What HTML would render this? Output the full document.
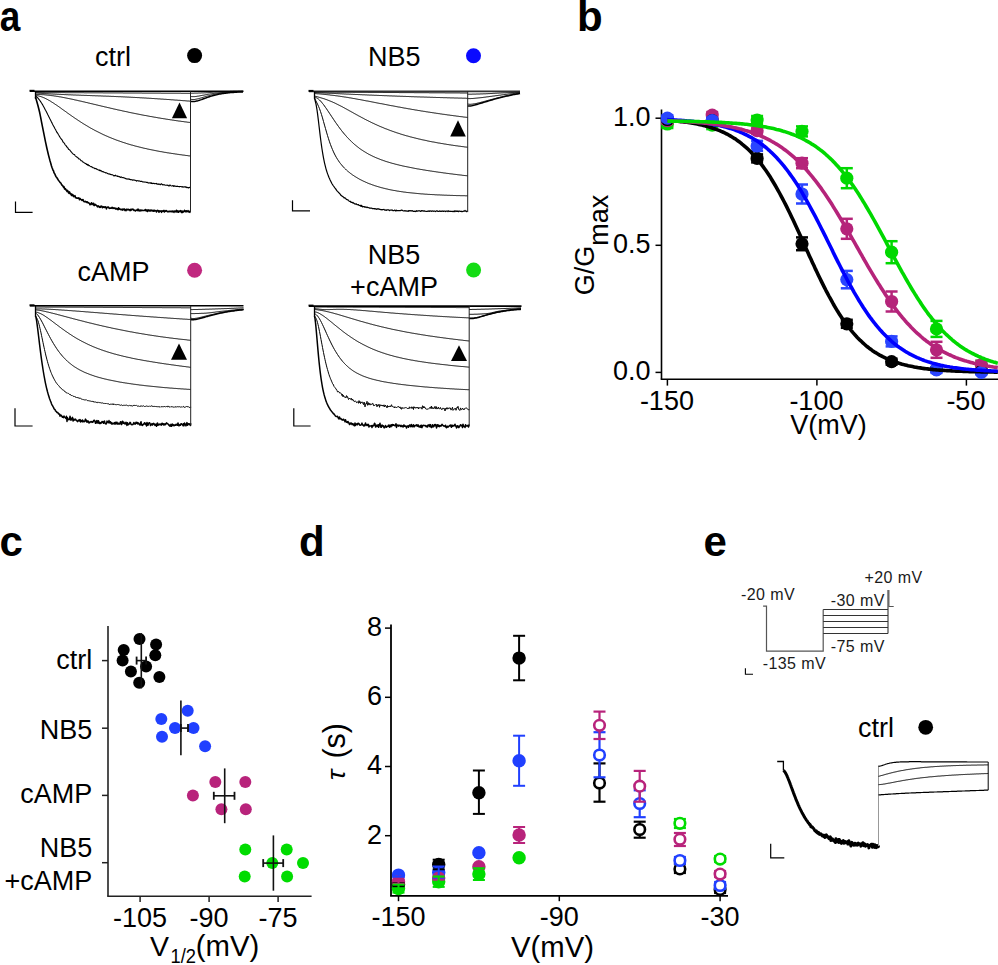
<!DOCTYPE html>
<html><head><meta charset="utf-8"><style>
html,body{margin:0;padding:0;background:#fff;}
svg{display:block;}
text{font-family:"Liberation Sans", sans-serif;}
</style></head><body>
<svg width="998" height="965" viewBox="0 0 998 965">
<rect width="998" height="965" fill="#fff"/>
<text transform="translate(-0.2,30.5) scale(0.88,1)" font-size="42" font-weight="bold" fill="#000">a</text>
<text x="577" y="30.5" font-size="42" text-anchor="start" font-weight="bold" fill="#000" >b</text>
<text x="-0.5" y="556" font-size="42" text-anchor="start" font-weight="bold" fill="#000" >c</text>
<text x="299" y="556.3" font-size="42" text-anchor="start" font-weight="bold" fill="#000" >d</text>
<text x="703.5" y="556" font-size="42" text-anchor="start" font-weight="bold" fill="#000" >e</text>
<line x1="30" y1="91.3" x2="243.5" y2="91.3" stroke="#000" stroke-width="1.6" />
<rect x="29.5" y="89.8" width="5" height="2" fill="#000"/>
<line x1="35.5" y1="91.3" x2="35.5" y2="99" stroke="#000" stroke-width="1.3" />
<path d="M35.5 97 L36 98.7 L36.5 100.5 L37 102.3 L37.5 104 L38 105.8 L38.5 107.7 L39 109.7 L39.5 111.8 L40 114.1 L40.5 116.6 L41 119.2 L41.5 121.8 L42 124.4 L42.5 126.9 L43 129.4 L43.5 131.9 L44 134.4 L44.5 136.9 L45 139.4 L45.5 141.8 L46 144.2 L46.5 146.5 L47 148.7 L47.5 150.9 L48 153 L48.5 155.1 L49 157 L49.5 158.9 L50 160.8 L50.5 162.4 L51 164.2 L51.5 166 L52 167.5 L52.5 168.8 L53 170.2 L53.5 170.8 L54 172.7 L54.5 173.4 L55 174.3 L55.5 175.7 L56 176.7 L56.5 177.2 L57 177.8 L57.5 178.8 L58 179.5 L58.5 180.5 L59 181 L59.5 181.5 L60 182.5 L60.5 182.7 L61 183.2 L61.5 184.5 L62 185.2 L62.5 185.6 L63 186.1 L63.5 187.2 L64 186.7 L64.5 188.8 L65 189.2 L65.5 188.7 L66 190.1 L66.5 190 L67 191.4 L67.5 190.4 L68 191.4 L68.5 192.7 L69 193.4 L69.5 191.9 L70 193.2 L70.5 194 L71 193.9 L71.5 195.4 L72 194.2 L72.5 195.4 L73 194.9 L73.5 196.6 L74 196.1 L74.5 196.2 L75 195.7 L75.5 197.8 L76 197.6 L76.5 197.9 L77 198.3 L77.5 198.2 L78 197.9 L78.5 198 L79 198.3 L79.5 199.7 L80 198.4 L80.5 199.1 L81 199.5 L81.5 200 L82 200.4 L82.5 199.7 L83 199.6 L83.5 200.8 L84 201.7 L84.5 201.6 L85 201.5 L85.5 201.4 L86 202 L86.5 201.9 L87 202.6 L87.5 201.9 L88 202.6 L88.5 202.7 L89 203.2 L89.5 203.2 L90 204.7 L90.5 204.3 L91 204.5 L91.5 202.7 L92 203.8 L92.5 203.9 L93 204.7 L93.5 203.3 L94 205.4 L94.5 205.5 L95 204.3 L95.5 204.7 L96 204.9 L96.5 205.5 L97 206 L97.5 206.9 L98 205.8 L98.5 206.5 L99 206.3 L99.5 207.3 L100 206.8 L100.5 207.3 L101 206 L101.5 206.6 L102 206.3 L102.5 207.7 L103 207.3 L103.5 206.9 L104 206.9 L104.5 207.5 L105 206.9 L105.5 206.8 L106 207.7 L106.5 208.8 L107 207.4 L107.5 207.3 L108 207.1 L108.5 207 L109 208.1 L109.5 208.4 L110 208 L110.5 208.2 L111 208.1 L111.5 208.2 L112 207.3 L112.5 208 L113 208.4 L113.5 207.9 L114 208.1 L114.5 208 L115 208.3 L115.5 209 L116 208.4 L116.5 208.6 L117 209.1 L117.5 209.1 L118 209.7 L118.5 207.7 L119 209.3 L119.5 208.7 L120 209 L120.5 209.5 L121 209.6 L121.5 209.7 L122 209.2 L122.5 210.1 L123 209.1 L123.5 209.2 L124 209.7 L124.5 209 L125 210.5 L125.5 210 L126 210.6 L126.5 209.4 L127 209.3 L127.5 209.6 L128 210 L128.5 209.3 L129 209.8 L129.5 209.7 L130 210.6 L130.5 209.4 L131 210.3 L131.5 209.4 L132 209.3 L132.5 209.5 L133 209.2 L133.5 210 L134 210.5 L134.5 210.1 L135 210.4 L135.5 211 L136 210.2 L136.5 210.2 L137 210 L137.5 209.3 L138 210.6 L138.5 209.3 L139 210.6 L139.5 210.3 L140 211 L140.5 210.3 L141 210 L141.5 210.6 L142 210.2 L142.5 210.4 L143 210.5 L143.5 210.5 L144 210.5 L144.5 210.1 L145 210.5 L145.5 209.5 L146 210.6 L146.5 210 L147 211.3 L147.5 211.4 L148 209.7 L148.5 210.8 L149 210.7 L149.5 210.2 L150 211.1 L150.5 210.6 L151 209.9 L151.5 210.7 L152 210.8 L152.5 210.9 L153 210.2 L153.5 211.2 L154 211.3 L154.5 210.3 L155 210.6 L155.5 210.9 L156 210.6 L156.5 211.9 L157 211.1 L157.5 210.4 L158 210.5 L158.5 210.9 L159 212.2 L159.5 210.9 L160 211.1 L160.5 211.3 L161 211 L161.5 212.3 L162 210.7 L162.5 211.4 L163 211.1 L163.5 211.4 L164 210.4 L164.5 212 L165 211 L165.5 211.1 L166 210.6 L166.5 210.7 L167 211.4 L167.5 211.7 L168 211.5 L168.5 211.8 L169 211.5 L169.5 211.2 L170 211.6 L170.5 211.5 L171 211.1 L171.5 211.6 L172 211.9 L172.5 211.3 L173 211 L173.5 211.6 L174 212.3 L174.5 211.1 L175 211.2 L175.5 211.2 L176 212 L176.5 210.3 L177 211.5 L177.5 212 L178 210.9 L178.5 212.2 L179 211.7 L179.5 211.1 L180 211.5 L180.5 210.6 L181 211.1 L181.5 212.4 L182 211 L182.5 212.5 L183 211.4 L183.5 212 L184 211.5 L184.5 210.3 L185 211.2 L185.5 211.7 L186 210.9 L186.5 210.8 L187 211.8 L187.5 211.3 L188 210.7 L188.5 211.3 L189 212.1 L189.5 211.4 L190 212.2 L190.5 212.5" fill="none" stroke="#000" stroke-width="1.6" stroke-linejoin="round" />
<path d="M35.5 96 L36 96.4 L36.5 96.8 L37 97.2 L37.5 97.7 L38 98.2 L38.5 98.8 L39 99.4 L39.5 100 L40 100.7 L40.5 101.4 L41 102.2 L41.5 103 L42 103.8 L42.5 104.6 L43 105.5 L43.5 106.4 L44 107.3 L44.5 108.2 L45 109.2 L45.5 110.2 L46 111.1 L46.5 112.1 L47 113.1 L47.5 114.1 L48 115.1 L48.5 116 L49 117.1 L49.5 118.1 L50 119.1 L50.5 120 L51 121 L51.5 122.1 L52 122.9 L52.5 124 L53 125 L53.5 125.9 L54 126.8 L54.5 127.7 L55 128.7 L55.5 129.5 L56 130.5 L56.5 131.4 L57 132.5 L57.5 133 L58 133.8 L58.5 134.8 L59 135.5 L59.5 136.4 L60 137.2 L60.5 138.1 L61 138.6 L61.5 139.5 L62 139.8 L62.5 140.8 L63 142 L63.5 142.2 L64 142.9 L64.5 143.5 L65 144.6 L65.5 145.1 L66 145.5 L66.5 146.5 L67 147 L67.5 147.8 L68 148 L68.5 149.2 L69 149.5 L69.5 149.9 L70 150.3 L70.5 151 L71 151.8 L71.5 152 L72 152.9 L72.5 153.2 L73 153.9 L73.5 154.3 L74 154.5 L74.5 154.5 L75 155.5 L75.5 156.1 L76 156.4 L76.5 156.9 L77 157.1 L77.5 157.5 L78 157.8 L78.5 158.8 L79 158.9 L79.5 159.1 L80 159.3 L80.5 160 L81 160.7 L81.5 160.8 L82 160.9 L82.5 161.8 L83 162.1 L83.5 162.3 L84 162.6 L84.5 163 L85 163.2 L85.5 163.6 L86 163.5 L86.5 164.4 L87 164.4 L87.5 165.1 L88 164.4 L88.5 165.3 L89 165.7 L89.5 165.6 L90 166.1 L90.5 166.4 L91 166.7 L91.5 166.6 L92 167 L92.5 167.5 L93 167.8 L93.5 167.8 L94 168 L94.5 168.3 L95 168.7 L95.5 168.4 L96 168.6 L96.5 169.2 L97 169.1 L97.5 169.4 L98 169.8 L98.5 170.1 L99 169.9 L99.5 170.6 L100 170.2 L100.5 170.9 L101 170.6 L101.5 170.9 L102 171.6 L102.5 171.5 L103 171.6 L103.5 171.8 L104 172.3 L104.5 172.3 L105 172.5 L105.5 172.9 L106 172.7 L106.5 172.9 L107 173 L107.5 173.6 L108 173.8 L108.5 174 L109 173.8 L109.5 174 L110 174.4 L110.5 174.2 L111 174.7 L111.5 174.8 L112 174.6 L112.5 174.9 L113 175 L113.5 175.6 L114 176 L114.5 175.5 L115 175.6 L115.5 175.2 L116 176 L116.5 176 L117 175.9 L117.5 176.5 L118 176.1 L118.5 176.5 L119 176.7 L119.5 176.5 L120 177.2 L120.5 177.4 L121 176.9 L121.5 177 L122 177.6 L122.5 177.6 L123 177.4 L123.5 177.8 L124 177.9 L124.5 178 L125 178.4 L125.5 178.4 L126 178.9 L126.5 178.9 L127 178.8 L127.5 179 L128 179.2 L128.5 179.1 L129 178.8 L129.5 179.4 L130 179.3 L130.5 179.8 L131 179.5 L131.5 179.7 L132 179.8 L132.5 180.2 L133 180 L133.5 179.9 L134 180.2 L134.5 180.1 L135 180.3 L135.5 180.4 L136 180.6 L136.5 181.1 L137 180.6 L137.5 180.8 L138 180.8 L138.5 181.1 L139 180.8 L139.5 181 L140 181.2 L140.5 181.5 L141 181.4 L141.5 181.4 L142 181.4 L142.5 181.8 L143 182.1 L143.5 181.9 L144 182 L144.5 182.1 L145 181.9 L145.5 182.1 L146 182.2 L146.5 182.4 L147 182.4 L147.5 182.2 L148 182.9 L148.5 183.1 L149 182.7 L149.5 182.9 L150 183 L150.5 183.2 L151 182.7 L151.5 183.5 L152 183.1 L152.5 183.6 L153 183.4 L153.5 183.3 L154 183.5 L154.5 183.8 L155 183.4 L155.5 183.6 L156 183.7 L156.5 183.4 L157 184.2 L157.5 184.1 L158 184 L158.5 184.4 L159 183.9 L159.5 184.2 L160 184.7 L160.5 184.6 L161 183.9 L161.5 183.7 L162 184.3 L162.5 184.9 L163 184.6 L163.5 184.7 L164 185 L164.5 184.7 L165 185 L165.5 185.2 L166 185.2 L166.5 185.2 L167 185 L167.5 185.4 L168 185.2 L168.5 185.7 L169 186.1 L169.5 185.3 L170 185 L170.5 185.5 L171 185.8 L171.5 186 L172 186 L172.5 185.6 L173 185.7 L173.5 186.3 L174 185.7 L174.5 186.3 L175 186 L175.5 186.3 L176 186.4 L176.5 186.4 L177 186.5 L177.5 186.1 L178 186.5 L178.5 186.5 L179 186.6 L179.5 186.9 L180 186.5 L180.5 186.5 L181 186.5 L181.5 186.7 L182 187 L182.5 186.6 L183 187.2 L183.5 187 L184 186.9 L184.5 186.7 L185 187.1 L185.5 187.3 L186 186.7 L186.5 187.5 L187 187.7 L187.5 187.4 L188 187.5 L188.5 188 L189 187.8 L189.5 187.3 L190 187.5 L190.5 187.5" fill="none" stroke="#000" stroke-width="1.1" stroke-linejoin="round" />
<path d="M35.5 95.5 L36.5 95.6 L37.5 95.7 L38.5 95.9 L39.5 96.2 L40.5 96.5 L41.5 96.8 L42.5 97.2 L43.5 97.6 L44.5 98 L45.5 98.5 L46.5 99 L47.5 99.5 L48.5 100.1 L49.5 100.6 L50.5 101.2 L51.5 101.9 L52.5 102.5 L53.5 103.1 L54.5 103.8 L55.5 104.5 L56.5 105.1 L57.5 105.8 L58.5 106.5 L59.5 107.2 L60.5 107.9 L61.5 108.7 L62.5 109.4 L63.5 110.1 L64.5 110.8 L65.5 111.5 L66.5 112.2 L67.5 113 L68.5 113.7 L69.5 114.4 L70.5 115.1 L71.5 115.8 L72.5 116.5 L73.5 117.2 L74.5 117.9 L75.5 118.6 L76.5 119.2 L77.5 119.9 L78.5 120.6 L79.5 121.2 L80.5 121.9 L81.5 122.5 L82.5 123.2 L83.5 123.8 L84.5 124.4 L85.5 125 L86.5 125.6 L87.5 126.2 L88.5 126.8 L89.5 127.4 L90.5 128 L91.5 128.5 L92.5 129.1 L93.5 129.6 L94.5 130.2 L95.5 130.7 L96.5 131.2 L97.5 131.7 L98.5 132.2 L99.5 132.7 L100.5 133.2 L101.5 133.7 L102.5 134.2 L103.5 134.7 L104.5 135.1 L105.5 135.6 L106.5 136 L107.5 136.4 L108.5 136.9 L109.5 137.3 L110.5 137.7 L111.5 138.1 L112.5 138.5 L113.5 138.9 L114.5 139.3 L115.5 139.7 L116.5 140.1 L117.5 140.4 L118.5 140.8 L119.5 141.1 L120.5 141.5 L121.5 141.8 L122.5 142.2 L123.5 142.5 L124.5 142.8 L125.5 143.1 L126.5 143.5 L127.5 143.8 L128.5 144.1 L129.5 144.4 L130.5 144.7 L131.5 145 L132.5 145.2 L133.5 145.5 L134.5 145.8 L135.5 146.1 L136.5 146.3 L137.5 146.6 L138.5 146.8 L139.5 147.1 L140.5 147.3 L141.5 147.6 L142.5 147.8 L143.5 148.1 L144.5 148.3 L145.5 148.5 L146.5 148.7 L147.5 149 L148.5 149.2 L149.5 149.4 L150.5 149.6 L151.5 149.8 L152.5 150 L153.5 150.2 L154.5 150.4 L155.5 150.6 L156.5 150.8 L157.5 151 L158.5 151.2 L159.5 151.4 L160.5 151.6 L161.5 151.7 L162.5 151.9 L163.5 152.1 L164.5 152.3 L165.5 152.4 L166.5 152.6 L167.5 152.8 L168.5 152.9 L169.5 153.1 L170.5 153.2 L171.5 153.4 L172.5 153.5 L173.5 153.7 L174.5 153.8 L175.5 154 L176.5 154.1 L177.5 154.3 L178.5 154.4 L179.5 154.6 L180.5 154.7 L181.5 154.8 L182.5 155 L183.5 155.1 L184.5 155.2 L185.5 155.4 L186.5 155.5 L187.5 155.6 L188.5 155.8 L189.5 155.9 L190.5 156" fill="none" stroke="#000" stroke-width="1.0" stroke-linejoin="round" />
<path d="M35.5 94.5 L36.5 94.5 L37.5 94.5 L38.5 94.5 L39.5 94.5 L40.5 94.6 L41.5 94.6 L42.5 94.7 L43.5 94.7 L44.5 94.8 L45.5 94.9 L46.5 95 L47.5 95.1 L48.5 95.2 L49.5 95.3 L50.5 95.4 L51.5 95.6 L52.5 95.7 L53.5 95.8 L54.5 96 L55.5 96.1 L56.5 96.3 L57.5 96.4 L58.5 96.6 L59.5 96.8 L60.5 96.9 L61.5 97.1 L62.5 97.3 L63.5 97.5 L64.5 97.7 L65.5 97.9 L66.5 98.1 L67.5 98.3 L68.5 98.5 L69.5 98.7 L70.5 98.9 L71.5 99.1 L72.5 99.3 L73.5 99.5 L74.5 99.8 L75.5 100 L76.5 100.2 L77.5 100.4 L78.5 100.7 L79.5 100.9 L80.5 101.1 L81.5 101.3 L82.5 101.6 L83.5 101.8 L84.5 102 L85.5 102.3 L86.5 102.5 L87.5 102.7 L88.5 103 L89.5 103.2 L90.5 103.5 L91.5 103.7 L92.5 103.9 L93.5 104.2 L94.5 104.4 L95.5 104.6 L96.5 104.9 L97.5 105.1 L98.5 105.4 L99.5 105.6 L100.5 105.8 L101.5 106.1 L102.5 106.3 L103.5 106.5 L104.5 106.8 L105.5 107 L106.5 107.2 L107.5 107.5 L108.5 107.7 L109.5 107.9 L110.5 108.2 L111.5 108.4 L112.5 108.6 L113.5 108.9 L114.5 109.1 L115.5 109.3 L116.5 109.5 L117.5 109.8 L118.5 110 L119.5 110.2 L120.5 110.4 L121.5 110.6 L122.5 110.9 L123.5 111.1 L124.5 111.3 L125.5 111.5 L126.5 111.7 L127.5 111.9 L128.5 112.2 L129.5 112.4 L130.5 112.6 L131.5 112.8 L132.5 113 L133.5 113.2 L134.5 113.4 L135.5 113.6 L136.5 113.8 L137.5 114 L138.5 114.2 L139.5 114.4 L140.5 114.6 L141.5 114.8 L142.5 115 L143.5 115.2 L144.5 115.4 L145.5 115.5 L146.5 115.7 L147.5 115.9 L148.5 116.1 L149.5 116.3 L150.5 116.5 L151.5 116.6 L152.5 116.8 L153.5 117 L154.5 117.2 L155.5 117.3 L156.5 117.5 L157.5 117.7 L158.5 117.9 L159.5 118 L160.5 118.2 L161.5 118.4 L162.5 118.5 L163.5 118.7 L164.5 118.8 L165.5 119 L166.5 119.2 L167.5 119.3 L168.5 119.5 L169.5 119.6 L170.5 119.8 L171.5 119.9 L172.5 120.1 L173.5 120.2 L174.5 120.4 L175.5 120.5 L176.5 120.7 L177.5 120.8 L178.5 121 L179.5 121.1 L180.5 121.2 L181.5 121.4 L182.5 121.5 L183.5 121.6 L184.5 121.8 L185.5 121.9 L186.5 122 L187.5 122.2 L188.5 122.3 L189.5 122.4 L190.5 122.5" fill="none" stroke="#000" stroke-width="1.0" stroke-linejoin="round" />
<path d="M35.5 93 L36.5 93.1 L37.5 93.1 L38.5 93.2 L39.5 93.3 L40.5 93.3 L41.5 93.4 L42.5 93.5 L43.5 93.5 L44.5 93.6 L45.5 93.6 L46.5 93.7 L47.5 93.7 L48.5 93.8 L49.5 93.9 L50.5 93.9 L51.5 94 L52.5 94 L53.5 94.1 L54.5 94.1 L55.5 94.2 L56.5 94.2 L57.5 94.3 L58.5 94.3 L59.5 94.4 L60.5 94.4 L61.5 94.5 L62.5 94.5 L63.5 94.5 L64.5 94.6 L65.5 94.6 L66.5 94.7 L67.5 94.7 L68.5 94.8 L69.5 94.8 L70.5 94.8 L71.5 94.9 L72.5 94.9 L73.5 95 L74.5 95 L75.5 95 L76.5 95.1 L77.5 95.1 L78.5 95.1 L79.5 95.2 L80.5 95.2 L81.5 95.3 L82.5 95.3 L83.5 95.3 L84.5 95.4 L85.5 95.4 L86.5 95.4 L87.5 95.5 L88.5 95.5 L89.5 95.5 L90.5 95.6 L91.5 95.6 L92.5 95.7 L93.5 95.7 L94.5 95.7 L95.5 95.8 L96.5 95.8 L97.5 95.8 L98.5 95.9 L99.5 95.9 L100.5 95.9 L101.5 96 L102.5 96 L103.5 96.1 L104.5 96.1 L105.5 96.1 L106.5 96.2 L107.5 96.2 L108.5 96.2 L109.5 96.3 L110.5 96.3 L111.5 96.4 L112.5 96.4 L113.5 96.4 L114.5 96.5 L115.5 96.5 L116.5 96.6 L117.5 96.6 L118.5 96.7 L119.5 96.7 L120.5 96.7 L121.5 96.8 L122.5 96.8 L123.5 96.9 L124.5 96.9 L125.5 97 L126.5 97 L127.5 97.1 L128.5 97.1 L129.5 97.2 L130.5 97.2 L131.5 97.3 L132.5 97.3 L133.5 97.4 L134.5 97.4 L135.5 97.5 L136.5 97.5 L137.5 97.6 L138.5 97.6 L139.5 97.7 L140.5 97.8 L141.5 97.8 L142.5 97.9 L143.5 97.9 L144.5 98 L145.5 98 L146.5 98.1 L147.5 98.2 L148.5 98.2 L149.5 98.3 L150.5 98.3 L151.5 98.4 L152.5 98.5 L153.5 98.5 L154.5 98.6 L155.5 98.7 L156.5 98.7 L157.5 98.8 L158.5 98.9 L159.5 98.9 L160.5 99 L161.5 99.1 L162.5 99.1 L163.5 99.2 L164.5 99.3 L165.5 99.3 L166.5 99.4 L167.5 99.5 L168.5 99.5 L169.5 99.6 L170.5 99.7 L171.5 99.8 L172.5 99.8 L173.5 99.9 L174.5 100 L175.5 100.1 L176.5 100.1 L177.5 100.2 L178.5 100.3 L179.5 100.3 L180.5 100.4 L181.5 100.5 L182.5 100.6 L183.5 100.7 L184.5 100.7 L185.5 100.8 L186.5 100.9 L187.5 101 L188.5 101 L189.5 101.1 L190.5 101.2" fill="none" stroke="#000" stroke-width="1.0" stroke-linejoin="round" />
<path d="M35.5 92.5 L36.5 92.5 L37.5 92.5 L38.5 92.5 L39.5 92.5 L40.5 92.5 L41.5 92.5 L42.5 92.5 L43.5 92.5 L44.5 92.5 L45.5 92.6 L46.5 92.6 L47.5 92.6 L48.5 92.6 L49.5 92.6 L50.5 92.6 L51.5 92.6 L52.5 92.6 L53.5 92.6 L54.5 92.6 L55.5 92.6 L56.5 92.6 L57.5 92.6 L58.5 92.6 L59.5 92.6 L60.5 92.6 L61.5 92.6 L62.5 92.6 L63.5 92.6 L64.5 92.6 L65.5 92.7 L66.5 92.7 L67.5 92.7 L68.5 92.7 L69.5 92.7 L70.5 92.7 L71.5 92.7 L72.5 92.7 L73.5 92.7 L74.5 92.7 L75.5 92.7 L76.5 92.7 L77.5 92.7 L78.5 92.7 L79.5 92.7 L80.5 92.7 L81.5 92.7 L82.5 92.7 L83.5 92.7 L84.5 92.8 L85.5 92.8 L86.5 92.8 L87.5 92.8 L88.5 92.8 L89.5 92.8 L90.5 92.8 L91.5 92.8 L92.5 92.8 L93.5 92.8 L94.5 92.8 L95.5 92.8 L96.5 92.8 L97.5 92.8 L98.5 92.8 L99.5 92.8 L100.5 92.8 L101.5 92.8 L102.5 92.8 L103.5 92.9 L104.5 92.9 L105.5 92.9 L106.5 92.9 L107.5 92.9 L108.5 92.9 L109.5 92.9 L110.5 92.9 L111.5 92.9 L112.5 92.9 L113.5 92.9 L114.5 92.9 L115.5 92.9 L116.5 92.9 L117.5 92.9 L118.5 92.9 L119.5 92.9 L120.5 92.9 L121.5 92.9 L122.5 92.9 L123.5 93 L124.5 93 L125.5 93 L126.5 93 L127.5 93 L128.5 93 L129.5 93 L130.5 93 L131.5 93 L132.5 93 L133.5 93 L134.5 93 L135.5 93 L136.5 93 L137.5 93 L138.5 93 L139.5 93 L140.5 93 L141.5 93 L142.5 93.1 L143.5 93.1 L144.5 93.1 L145.5 93.1 L146.5 93.1 L147.5 93.1 L148.5 93.1 L149.5 93.1 L150.5 93.1 L151.5 93.1 L152.5 93.1 L153.5 93.1 L154.5 93.1 L155.5 93.1 L156.5 93.1 L157.5 93.1 L158.5 93.1 L159.5 93.1 L160.5 93.1 L161.5 93.2 L162.5 93.2 L163.5 93.2 L164.5 93.2 L165.5 93.2 L166.5 93.2 L167.5 93.2 L168.5 93.2 L169.5 93.2 L170.5 93.2 L171.5 93.2 L172.5 93.2 L173.5 93.2 L174.5 93.2 L175.5 93.2 L176.5 93.2 L177.5 93.2 L178.5 93.2 L179.5 93.2 L180.5 93.2 L181.5 93.3 L182.5 93.3 L183.5 93.3 L184.5 93.3 L185.5 93.3 L186.5 93.3 L187.5 93.3 L188.5 93.3 L189.5 93.3 L190.5 93.3" fill="none" stroke="#000" stroke-width="1.0" stroke-linejoin="round" />
<path d="M190.5 101.2 L191.5 101.4 L192.5 101.5 L193.5 101.5 L194.5 101.4 L195.5 101.3 L196.5 101.1 L197.5 100.9 L198.5 100.6 L199.5 100.3 L200.5 99.9 L201.5 99.6 L202.5 99.2 L203.5 98.8 L204.5 98.5 L205.5 98.1 L206.5 97.7 L207.5 97.4 L208.5 97 L209.5 96.7 L210.5 96.4 L211.5 96.1 L212.5 95.8 L213.5 95.5 L214.5 95.2 L215.5 95 L216.5 94.8 L217.5 94.5 L218.5 94.3 L219.5 94.1 L220.5 93.9 L221.5 93.8 L222.5 93.6 L223.5 93.4 L224.5 93.3 L225.5 93.2 L226.5 93 L227.5 92.9 L228.5 92.8 L229.5 92.7 L230.5 92.6 L231.5 92.5 L232.5 92.4 L233.5 92.4 L234.5 92.3 L235.5 92.2 L236.5 92.2 L237.5 92.1 L238.5 92.1 L239.5 92 L240.5 92 L241.5 91.9 L242.5 91.9 L243 91.9" fill="none" stroke="#000" stroke-width="1.5" stroke-linejoin="round" />
<path d="M190.5 99.2 L191.5 99.4 L192.5 99.5 L193.5 99.5 L194.5 99.5 L195.5 99.3 L196.5 99.1 L197.5 98.9 L198.5 98.7 L199.5 98.4 L200.5 98.1 L201.5 97.8 L202.5 97.5 L203.5 97.2 L204.5 96.9 L205.5 96.6 L206.5 96.3 L207.5 96 L208.5 95.8 L209.5 95.5 L210.5 95.3 L211.5 95 L212.5 94.8 L213.5 94.6 L214.5 94.4 L215.5 94.2 L216.5 94 L217.5 93.8 L218.5 93.6 L219.5 93.5 L220.5 93.3 L221.5 93.2 L222.5 93 L223.5 92.9 L224.5 92.8 L225.5 92.7 L226.5 92.6 L227.5 92.5 L228.5 92.4 L229.5 92.3 L230.5 92.2 L231.5 92.2 L232.5 92.1 L233.5 92 L234.5 92 L235.5 91.9 L236.5 91.9 L237.5 91.8 L238.5 91.8 L239.5 91.7 L240.5 91.7 L241.5 91.7 L242.5 91.6 L243 91.6" fill="none" stroke="#000" stroke-width="1.0" stroke-linejoin="round" />
<path d="M190.5 96.4 L191.5 96.6 L192.5 96.6 L193.5 96.6 L194.5 96.6 L195.5 96.5 L196.5 96.4 L197.5 96.2 L198.5 96.1 L199.5 95.9 L200.5 95.7 L201.5 95.5 L202.5 95.3 L203.5 95.2 L204.5 95 L205.5 94.8 L206.5 94.6 L207.5 94.4 L208.5 94.2 L209.5 94.1 L210.5 93.9 L211.5 93.8 L212.5 93.6 L213.5 93.5 L214.5 93.3 L215.5 93.2 L216.5 93.1 L217.5 93 L218.5 92.9 L219.5 92.7 L220.5 92.6 L221.5 92.5 L222.5 92.5 L223.5 92.4 L224.5 92.3 L225.5 92.2 L226.5 92.1 L227.5 92.1 L228.5 92 L229.5 91.9 L230.5 91.9 L231.5 91.8 L232.5 91.8 L233.5 91.7 L234.5 91.7 L235.5 91.6 L236.5 91.6 L237.5 91.6 L238.5 91.5 L239.5 91.5 L240.5 91.5 L241.5 91.4 L242.5 91.4 L243 91.4" fill="none" stroke="#000" stroke-width="1.0" stroke-linejoin="round" />
<path d="M190.5 93.2 L191.5 93.2 L192.5 93.2 L193.5 93.2 L194.5 93.1 L195.5 93.1 L196.5 93.1 L197.5 93.1 L198.5 93 L199.5 93 L200.5 93 L201.5 92.9 L202.5 92.9 L203.5 92.9 L204.5 92.8 L205.5 92.8 L206.5 92.7 L207.5 92.7 L208.5 92.6 L209.5 92.5 L210.5 92.5 L211.5 92.4 L212.5 92.3 L213.5 92.2 L214.5 92.1 L215.5 92.1 L216.5 92 L217.5 91.9 L218.5 91.9 L219.5 91.8 L220.5 91.8 L221.5 91.7 L222.5 91.7 L223.5 91.7 L224.5 91.6 L225.5 91.6 L226.5 91.6 L227.5 91.5 L228.5 91.5 L229.5 91.5 L230.5 91.4 L231.5 91.4 L232.5 91.4 L233.5 91.3 L234.5 91.3 L235.5 91.3 L236.5 91.3 L237.5 91.3 L238.5 91.2 L239.5 91.2 L240.5 91.2 L241.5 91.2 L242.5 91.2 L243 91.2" fill="none" stroke="#000" stroke-width="1.0" stroke-linejoin="round" />
<line x1="190.5" y1="91.3" x2="190.5" y2="212.2" stroke="#222" stroke-width="1.0" />
<path d="M179.5 102.5 L187.1 118.3 L171.9 118.3 Z" fill="#000"/>
<path d="M15.5 201.5 L15.5 212.3 L32.6 212.3" fill="none" stroke="#000" stroke-width="1.2"/>
<line x1="309" y1="91.4" x2="520" y2="91.4" stroke="#333" stroke-width="1.6" />
<rect x="308.5" y="89.9" width="5" height="2" fill="#000"/>
<line x1="314.5" y1="91.4" x2="314.5" y2="98.8" stroke="#000" stroke-width="1.3" />
<path d="M314.5 98 L315 100 L315.5 102 L316 104.2 L316.5 106.8 L317 109.9 L317.5 113.4 L318 117.3 L318.5 121.4 L319 125.7 L319.5 129.9 L320 134.1 L320.5 138.1 L321 142 L321.5 145.6 L322 149 L322.5 152.2 L323 155.2 L323.5 157.9 L324 160.4 L324.5 162.8 L325 164.9 L325.5 166.9 L326 168.8 L326.5 170.5 L327 172.1 L327.5 173.6 L328 174.9 L328.5 176.2 L329 177.5 L329.5 178.6 L330 179.7 L330.5 180.7 L331 181.7 L331.5 182.7 L332 183.7 L332.5 184.5 L333 185.3 L333.5 186 L334 186.7 L334.5 187.3 L335 188.1 L335.5 188.6 L336 189.4 L336.5 190.2 L337 190.9 L337.5 191.4 L338 191.7 L338.5 192.5 L339 192.8 L339.5 193.6 L340 193.9 L340.5 194.6 L341 195.4 L341.5 195.5 L342 196.3 L342.5 196.3 L343 196.6 L343.5 197.3 L344 197.8 L344.5 197.7 L345 198.2 L345.5 198.2 L346 198.9 L346.5 199.5 L347 199.6 L347.5 199.8 L348 199.9 L348.5 200.6 L349 201 L349.5 201.3 L350 201.4 L350.5 201.3 L351 202.4 L351.5 202.2 L352 202.4 L352.5 202.9 L353 202.4 L353.5 203.1 L354 203.3 L354.5 203.7 L355 204.1 L355.5 204.1 L356 203.7 L356.5 204.3 L357 204.6 L357.5 204.8 L358 204.6 L358.5 204.7 L359 205.4 L359.5 205.5 L360 205.6 L360.5 205.3 L361 206.4 L361.5 205.3 L362 206.1 L362.5 206.9 L363 206.4 L363.5 206.7 L364 206.5 L364.5 207.2 L365 206.7 L365.5 207.2 L366 207.3 L366.5 207.1 L367 207.7 L367.5 207.2 L368 207.5 L368.5 207.7 L369 207.7 L369.5 208.1 L370 208.3 L370.5 208.1 L371 208.1 L371.5 208.2 L372 208.3 L372.5 208.7 L373 208.5 L373.5 208.7 L374 208.7 L374.5 208.5 L375 209 L375.5 208.6 L376 209 L376.5 209.4 L377 208.8 L377.5 209.1 L378 208.8 L378.5 209.1 L379 208.9 L379.5 209.3 L380 209.3 L380.5 209.5 L381 209.9 L381.5 209.6 L382 209.8 L382.5 209.7 L383 209.6 L383.5 209.5 L384 209.3 L384.5 209.9 L385 210.3 L385.5 210 L386 209.8 L386.5 210.4 L387 209.9 L387.5 209.9 L388 209.8 L388.5 209.9 L389 210.1 L389.5 210.7 L390 210.2 L390.5 210 L391 210.1 L391.5 210.2 L392 209.9 L392.5 210.4 L393 210.6 L393.5 210.5 L394 210.6 L394.5 210.1 L395 210.1 L395.5 210.8 L396 210.8 L396.5 210.2 L397 210.6 L397.5 210.6 L398 210.7 L398.5 210.7 L399 210.5 L399.5 210.7 L400 210.7 L400.5 210.7 L401 210.2 L401.5 210 L402 210.5 L402.5 210.3 L403 210.8 L403.5 211 L404 210.9 L404.5 210.7 L405 210.8 L405.5 211.1 L406 210.7 L406.5 211.1 L407 211.1 L407.5 211 L408 211.3 L408.5 210.7 L409 211.2 L409.5 210.7 L410 210.7 L410.5 210.7 L411 211.1 L411.5 210.7 L412 211 L412.5 210.7 L413 211.3 L413.5 211.5 L414 211.1 L414.5 211.4 L415 211.2 L415.5 211.6 L416 211.1 L416.5 210.7 L417 211.4 L417.5 211 L418 210.8 L418.5 210.9 L419 210.7 L419.5 211 L420 210.8 L420.5 211.5 L421 211.3 L421.5 210.7 L422 210.7 L422.5 211 L423 210.6 L423.5 211.1 L424 211.1 L424.5 210.9 L425 211 L425.5 211.3 L426 211.5 L426.5 211.5 L427 211.2 L427.5 211.4 L428 211 L428.5 211.3 L429 210.9 L429.5 211.4 L430 210.9 L430.5 210.9 L431 211.2 L431.5 211.3 L432 210.8 L432.5 211.1 L433 211.2 L433.5 211.3 L434 211 L434.5 211.2 L435 211.1 L435.5 211.6 L436 211.3 L436.5 210.9 L437 210.7 L437.5 211.2 L438 211.5 L438.5 211.3 L439 211.4 L439.5 211.1 L440 210.9 L440.5 211.4 L441 211.3 L441.5 211.4 L442 210.9 L442.5 211.3 L443 211.1 L443.5 211.4 L444 211.1 L444.5 211.1 L445 211.1 L445.5 211.6 L446 211.2 L446.5 211.1 L447 211 L447.5 211 L448 211.6 L448.5 210.8 L449 211 L449.5 211.4 L450 211.5 L450.5 211.2 L451 211.4 L451.5 211.4 L452 211.5 L452.5 211.3 L453 211.7 L453.5 211.3 L454 211.6 L454.5 211 L455 211.5 L455.5 211 L456 210.9 L456.5 211.4 L457 211.1 L457.5 211.4 L458 211 L458.5 211.7 L459 211.3 L459.5 211 L460 211.3 L460.5 211.5 L461 211.1 L461.5 211.4 L462 211.8 L462.5 211.5 L463 211.3 L463.5 211.1 L464 211.4 L464.5 210.9 L465 210.5 L465.5 211.1 L466 211 L466.5 211.7 L467 211.3 L467.5 211 L467.7 211" fill="none" stroke="#000" stroke-width="1.2" stroke-linejoin="round" />
<path d="M314.5 98 L315.5 100.1 L316.5 102.1 L317.5 104.1 L318.5 106.3 L319.5 108.7 L320.5 111.5 L321.5 114.6 L322.5 117.9 L323.5 121.5 L324.5 125.1 L325.5 128.6 L326.5 132.1 L327.5 135.5 L328.5 138.7 L329.5 141.8 L330.5 144.6 L331.5 147.2 L332.5 149.6 L333.5 151.9 L334.5 154 L335.5 155.9 L336.5 157.7 L337.5 159.3 L338.5 160.8 L339.5 162.3 L340.5 163.6 L341.5 164.8 L342.5 166 L343.5 167.1 L344.5 168.2 L345.5 169.1 L346.5 170.1 L347.5 171 L348.5 171.8 L349.5 172.6 L350.5 173.4 L351.5 174.1 L352.5 174.9 L353.5 175.5 L354.5 176.2 L355.5 176.8 L356.5 177.4 L357.5 178 L358.5 178.6 L359.5 179.2 L360.5 179.7 L361.5 180.2 L362.5 180.7 L363.5 181.2 L364.5 181.6 L365.5 182.1 L366.5 182.5 L367.5 183 L368.5 183.4 L369.5 183.8 L370.5 184.1 L371.5 184.5 L372.5 184.9 L373.5 185.2 L374.5 185.6 L375.5 185.9 L376.5 186.2 L377.5 186.5 L378.5 186.8 L379.5 187.1 L380.5 187.4 L381.5 187.7 L382.5 187.9 L383.5 188.2 L384.5 188.4 L385.5 188.7 L386.5 188.9 L387.5 189.1 L388.5 189.4 L389.5 189.6 L390.5 189.8 L391.5 190 L392.5 190.2 L393.5 190.4 L394.5 190.5 L395.5 190.7 L396.5 190.9 L397.5 191.1 L398.5 191.2 L399.5 191.4 L400.5 191.5 L401.5 191.7 L402.5 191.8 L403.5 192 L404.5 192.1 L405.5 192.2 L406.5 192.4 L407.5 192.5 L408.5 192.6 L409.5 192.7 L410.5 192.8 L411.5 192.9 L412.5 193 L413.5 193.1 L414.5 193.2 L415.5 193.3 L416.5 193.4 L417.5 193.5 L418.5 193.6 L419.5 193.7 L420.5 193.8 L421.5 193.9 L422.5 193.9 L423.5 194 L424.5 194.1 L425.5 194.2 L426.5 194.2 L427.5 194.3 L428.5 194.4 L429.5 194.4 L430.5 194.5 L431.5 194.5 L432.5 194.6 L433.5 194.6 L434.5 194.7 L435.5 194.8 L436.5 194.8 L437.5 194.9 L438.5 194.9 L439.5 194.9 L440.5 195 L441.5 195 L442.5 195.1 L443.5 195.1 L444.5 195.2 L445.5 195.2 L446.5 195.2 L447.5 195.3 L448.5 195.3 L449.5 195.3 L450.5 195.4 L451.5 195.4 L452.5 195.4 L453.5 195.5 L454.5 195.5 L455.5 195.5 L456.5 195.6 L457.5 195.6 L458.5 195.6 L459.5 195.6 L460.5 195.7 L461.5 195.7 L462.5 195.7 L463.5 195.7 L464.5 195.7 L465.5 195.8 L466.5 195.8 L467.5 195.8 L467.7 195.8" fill="none" stroke="#000" stroke-width="1.0" stroke-linejoin="round" />
<path d="M314.5 97 L315.5 97.3 L316.5 97.8 L317.5 98.4 L318.5 99.1 L319.5 100 L320.5 101 L321.5 102.1 L322.5 103.4 L323.5 104.6 L324.5 106 L325.5 107.4 L326.5 108.8 L327.5 110.3 L328.5 111.8 L329.5 113.3 L330.5 114.8 L331.5 116.3 L332.5 117.8 L333.5 119.3 L334.5 120.8 L335.5 122.3 L336.5 123.7 L337.5 125.1 L338.5 126.5 L339.5 127.9 L340.5 129.2 L341.5 130.5 L342.5 131.8 L343.5 133 L344.5 134.2 L345.5 135.3 L346.5 136.5 L347.5 137.6 L348.5 138.6 L349.5 139.7 L350.5 140.7 L351.5 141.6 L352.5 142.6 L353.5 143.5 L354.5 144.4 L355.5 145.2 L356.5 146 L357.5 146.8 L358.5 147.6 L359.5 148.4 L360.5 149.1 L361.5 149.8 L362.5 150.4 L363.5 151.1 L364.5 151.7 L365.5 152.3 L366.5 152.9 L367.5 153.5 L368.5 154.1 L369.5 154.6 L370.5 155.1 L371.5 155.6 L372.5 156.1 L373.5 156.6 L374.5 157 L375.5 157.5 L376.5 157.9 L377.5 158.3 L378.5 158.7 L379.5 159.1 L380.5 159.5 L381.5 159.9 L382.5 160.2 L383.5 160.6 L384.5 160.9 L385.5 161.3 L386.5 161.6 L387.5 161.9 L388.5 162.2 L389.5 162.5 L390.5 162.8 L391.5 163.1 L392.5 163.4 L393.5 163.6 L394.5 163.9 L395.5 164.2 L396.5 164.4 L397.5 164.7 L398.5 164.9 L399.5 165.2 L400.5 165.4 L401.5 165.6 L402.5 165.9 L403.5 166.1 L404.5 166.3 L405.5 166.5 L406.5 166.7 L407.5 166.9 L408.5 167.1 L409.5 167.3 L410.5 167.5 L411.5 167.7 L412.5 167.9 L413.5 168.1 L414.5 168.3 L415.5 168.5 L416.5 168.7 L417.5 168.9 L418.5 169 L419.5 169.2 L420.5 169.4 L421.5 169.5 L422.5 169.7 L423.5 169.9 L424.5 170 L425.5 170.2 L426.5 170.4 L427.5 170.5 L428.5 170.7 L429.5 170.8 L430.5 171 L431.5 171.1 L432.5 171.3 L433.5 171.4 L434.5 171.6 L435.5 171.7 L436.5 171.9 L437.5 172 L438.5 172.2 L439.5 172.3 L440.5 172.4 L441.5 172.6 L442.5 172.7 L443.5 172.9 L444.5 173 L445.5 173.1 L446.5 173.3 L447.5 173.4 L448.5 173.5 L449.5 173.7 L450.5 173.8 L451.5 173.9 L452.5 174 L453.5 174.2 L454.5 174.3 L455.5 174.4 L456.5 174.5 L457.5 174.7 L458.5 174.8 L459.5 174.9 L460.5 175 L461.5 175.1 L462.5 175.3 L463.5 175.4 L464.5 175.5 L465.5 175.6 L466.5 175.7 L467.5 175.8 L467.7 175.9" fill="none" stroke="#000" stroke-width="1.0" stroke-linejoin="round" />
<path d="M314.5 96 L315.5 96.3 L316.5 96.5 L317.5 96.8 L318.5 97.1 L319.5 97.4 L320.5 97.7 L321.5 98 L322.5 98.3 L323.5 98.6 L324.5 98.9 L325.5 99.3 L326.5 99.6 L327.5 100 L328.5 100.4 L329.5 100.8 L330.5 101.2 L331.5 101.6 L332.5 102 L333.5 102.5 L334.5 102.9 L335.5 103.4 L336.5 103.9 L337.5 104.4 L338.5 104.9 L339.5 105.4 L340.5 105.9 L341.5 106.4 L342.5 106.9 L343.5 107.5 L344.5 108 L345.5 108.6 L346.5 109.1 L347.5 109.7 L348.5 110.2 L349.5 110.8 L350.5 111.3 L351.5 111.9 L352.5 112.4 L353.5 113 L354.5 113.6 L355.5 114.1 L356.5 114.7 L357.5 115.2 L358.5 115.8 L359.5 116.3 L360.5 116.8 L361.5 117.4 L362.5 117.9 L363.5 118.4 L364.5 119 L365.5 119.5 L366.5 120 L367.5 120.5 L368.5 121 L369.5 121.5 L370.5 122 L371.5 122.5 L372.5 123 L373.5 123.4 L374.5 123.9 L375.5 124.4 L376.5 124.8 L377.5 125.3 L378.5 125.7 L379.5 126.2 L380.5 126.6 L381.5 127 L382.5 127.4 L383.5 127.8 L384.5 128.3 L385.5 128.7 L386.5 129 L387.5 129.4 L388.5 129.8 L389.5 130.2 L390.5 130.6 L391.5 130.9 L392.5 131.3 L393.5 131.6 L394.5 132 L395.5 132.3 L396.5 132.7 L397.5 133 L398.5 133.3 L399.5 133.6 L400.5 134 L401.5 134.3 L402.5 134.6 L403.5 134.9 L404.5 135.2 L405.5 135.5 L406.5 135.8 L407.5 136 L408.5 136.3 L409.5 136.6 L410.5 136.9 L411.5 137.1 L412.5 137.4 L413.5 137.6 L414.5 137.9 L415.5 138.1 L416.5 138.4 L417.5 138.6 L418.5 138.9 L419.5 139.1 L420.5 139.3 L421.5 139.6 L422.5 139.8 L423.5 140 L424.5 140.2 L425.5 140.4 L426.5 140.6 L427.5 140.9 L428.5 141.1 L429.5 141.3 L430.5 141.5 L431.5 141.7 L432.5 141.9 L433.5 142 L434.5 142.2 L435.5 142.4 L436.5 142.6 L437.5 142.8 L438.5 143 L439.5 143.1 L440.5 143.3 L441.5 143.5 L442.5 143.6 L443.5 143.8 L444.5 144 L445.5 144.1 L446.5 144.3 L447.5 144.5 L448.5 144.6 L449.5 144.8 L450.5 144.9 L451.5 145.1 L452.5 145.2 L453.5 145.4 L454.5 145.5 L455.5 145.7 L456.5 145.8 L457.5 145.9 L458.5 146.1 L459.5 146.2 L460.5 146.3 L461.5 146.5 L462.5 146.6 L463.5 146.7 L464.5 146.9 L465.5 147 L466.5 147.1 L467.5 147.2 L467.7 147.3" fill="none" stroke="#000" stroke-width="1.0" stroke-linejoin="round" />
<path d="M314.5 93.5 L315.5 93.6 L316.5 93.7 L317.5 93.8 L318.5 93.8 L319.5 93.9 L320.5 94 L321.5 94.1 L322.5 94.2 L323.5 94.3 L324.5 94.4 L325.5 94.5 L326.5 94.6 L327.5 94.7 L328.5 94.8 L329.5 94.9 L330.5 95.1 L331.5 95.2 L332.5 95.3 L333.5 95.4 L334.5 95.5 L335.5 95.7 L336.5 95.8 L337.5 95.9 L338.5 96.1 L339.5 96.2 L340.5 96.4 L341.5 96.5 L342.5 96.7 L343.5 96.8 L344.5 97 L345.5 97.1 L346.5 97.3 L347.5 97.4 L348.5 97.6 L349.5 97.8 L350.5 97.9 L351.5 98.1 L352.5 98.3 L353.5 98.5 L354.5 98.6 L355.5 98.8 L356.5 99 L357.5 99.2 L358.5 99.4 L359.5 99.5 L360.5 99.7 L361.5 99.9 L362.5 100.1 L363.5 100.3 L364.5 100.5 L365.5 100.7 L366.5 100.9 L367.5 101 L368.5 101.2 L369.5 101.4 L370.5 101.6 L371.5 101.8 L372.5 102 L373.5 102.2 L374.5 102.4 L375.5 102.6 L376.5 102.8 L377.5 103 L378.5 103.2 L379.5 103.4 L380.5 103.6 L381.5 103.7 L382.5 103.9 L383.5 104.1 L384.5 104.3 L385.5 104.5 L386.5 104.7 L387.5 104.9 L388.5 105.1 L389.5 105.3 L390.5 105.5 L391.5 105.7 L392.5 105.8 L393.5 106 L394.5 106.2 L395.5 106.4 L396.5 106.6 L397.5 106.8 L398.5 107 L399.5 107.1 L400.5 107.3 L401.5 107.5 L402.5 107.7 L403.5 107.9 L404.5 108.1 L405.5 108.2 L406.5 108.4 L407.5 108.6 L408.5 108.8 L409.5 108.9 L410.5 109.1 L411.5 109.3 L412.5 109.5 L413.5 109.6 L414.5 109.8 L415.5 110 L416.5 110.1 L417.5 110.3 L418.5 110.5 L419.5 110.6 L420.5 110.8 L421.5 111 L422.5 111.1 L423.5 111.3 L424.5 111.4 L425.5 111.6 L426.5 111.8 L427.5 111.9 L428.5 112.1 L429.5 112.2 L430.5 112.4 L431.5 112.5 L432.5 112.7 L433.5 112.8 L434.5 113 L435.5 113.1 L436.5 113.3 L437.5 113.4 L438.5 113.6 L439.5 113.7 L440.5 113.9 L441.5 114 L442.5 114.2 L443.5 114.3 L444.5 114.4 L445.5 114.6 L446.5 114.7 L447.5 114.9 L448.5 115 L449.5 115.1 L450.5 115.3 L451.5 115.4 L452.5 115.5 L453.5 115.7 L454.5 115.8 L455.5 115.9 L456.5 116.1 L457.5 116.2 L458.5 116.3 L459.5 116.5 L460.5 116.6 L461.5 116.7 L462.5 116.8 L463.5 117 L464.5 117.1 L465.5 117.2 L466.5 117.3 L467.5 117.5 L467.7 117.5" fill="none" stroke="#000" stroke-width="1.0" stroke-linejoin="round" />
<path d="M314.5 92.5 L315.5 92.6 L316.5 92.6 L317.5 92.7 L318.5 92.7 L319.5 92.8 L320.5 92.8 L321.5 92.9 L322.5 92.9 L323.5 93 L324.5 93 L325.5 93.1 L326.5 93.1 L327.5 93.2 L328.5 93.2 L329.5 93.3 L330.5 93.3 L331.5 93.3 L332.5 93.4 L333.5 93.4 L334.5 93.5 L335.5 93.5 L336.5 93.6 L337.5 93.6 L338.5 93.7 L339.5 93.7 L340.5 93.8 L341.5 93.8 L342.5 93.9 L343.5 93.9 L344.5 94 L345.5 94 L346.5 94.1 L347.5 94.1 L348.5 94.1 L349.5 94.2 L350.5 94.2 L351.5 94.3 L352.5 94.3 L353.5 94.4 L354.5 94.4 L355.5 94.5 L356.5 94.5 L357.5 94.5 L358.5 94.6 L359.5 94.6 L360.5 94.7 L361.5 94.7 L362.5 94.8 L363.5 94.8 L364.5 94.8 L365.5 94.9 L366.5 94.9 L367.5 95 L368.5 95 L369.5 95.1 L370.5 95.1 L371.5 95.1 L372.5 95.2 L373.5 95.2 L374.5 95.3 L375.5 95.3 L376.5 95.3 L377.5 95.4 L378.5 95.4 L379.5 95.5 L380.5 95.5 L381.5 95.5 L382.5 95.6 L383.5 95.6 L384.5 95.7 L385.5 95.7 L386.5 95.7 L387.5 95.8 L388.5 95.8 L389.5 95.9 L390.5 95.9 L391.5 95.9 L392.5 96 L393.5 96 L394.5 96 L395.5 96.1 L396.5 96.1 L397.5 96.2 L398.5 96.2 L399.5 96.2 L400.5 96.3 L401.5 96.3 L402.5 96.3 L403.5 96.4 L404.5 96.4 L405.5 96.4 L406.5 96.5 L407.5 96.5 L408.5 96.5 L409.5 96.6 L410.5 96.6 L411.5 96.7 L412.5 96.7 L413.5 96.7 L414.5 96.8 L415.5 96.8 L416.5 96.8 L417.5 96.9 L418.5 96.9 L419.5 96.9 L420.5 97 L421.5 97 L422.5 97 L423.5 97 L424.5 97.1 L425.5 97.1 L426.5 97.1 L427.5 97.2 L428.5 97.2 L429.5 97.2 L430.5 97.3 L431.5 97.3 L432.5 97.3 L433.5 97.4 L434.5 97.4 L435.5 97.4 L436.5 97.5 L437.5 97.5 L438.5 97.5 L439.5 97.5 L440.5 97.6 L441.5 97.6 L442.5 97.6 L443.5 97.7 L444.5 97.7 L445.5 97.7 L446.5 97.7 L447.5 97.8 L448.5 97.8 L449.5 97.8 L450.5 97.9 L451.5 97.9 L452.5 97.9 L453.5 97.9 L454.5 98 L455.5 98 L456.5 98 L457.5 98 L458.5 98.1 L459.5 98.1 L460.5 98.1 L461.5 98.1 L462.5 98.2 L463.5 98.2 L464.5 98.2 L465.5 98.2 L466.5 98.3 L467.5 98.3 L467.7 98.3" fill="none" stroke="#000" stroke-width="1.0" stroke-linejoin="round" />
<path d="M314.5 92 L315.5 92 L316.5 92 L317.5 92 L318.5 92 L319.5 92 L320.5 92 L321.5 92 L322.5 92.1 L323.5 92.1 L324.5 92.1 L325.5 92.1 L326.5 92.1 L327.5 92.1 L328.5 92.1 L329.5 92.1 L330.5 92.1 L331.5 92.1 L332.5 92.1 L333.5 92.1 L334.5 92.1 L335.5 92.1 L336.5 92.1 L337.5 92.2 L338.5 92.2 L339.5 92.2 L340.5 92.2 L341.5 92.2 L342.5 92.2 L343.5 92.2 L344.5 92.2 L345.5 92.2 L346.5 92.2 L347.5 92.2 L348.5 92.2 L349.5 92.2 L350.5 92.2 L351.5 92.2 L352.5 92.2 L353.5 92.3 L354.5 92.3 L355.5 92.3 L356.5 92.3 L357.5 92.3 L358.5 92.3 L359.5 92.3 L360.5 92.3 L361.5 92.3 L362.5 92.3 L363.5 92.3 L364.5 92.3 L365.5 92.3 L366.5 92.3 L367.5 92.3 L368.5 92.4 L369.5 92.4 L370.5 92.4 L371.5 92.4 L372.5 92.4 L373.5 92.4 L374.5 92.4 L375.5 92.4 L376.5 92.4 L377.5 92.4 L378.5 92.4 L379.5 92.4 L380.5 92.4 L381.5 92.4 L382.5 92.4 L383.5 92.5 L384.5 92.5 L385.5 92.5 L386.5 92.5 L387.5 92.5 L388.5 92.5 L389.5 92.5 L390.5 92.5 L391.5 92.5 L392.5 92.5 L393.5 92.5 L394.5 92.5 L395.5 92.5 L396.5 92.5 L397.5 92.5 L398.5 92.5 L399.5 92.6 L400.5 92.6 L401.5 92.6 L402.5 92.6 L403.5 92.6 L404.5 92.6 L405.5 92.6 L406.5 92.6 L407.5 92.6 L408.5 92.6 L409.5 92.6 L410.5 92.6 L411.5 92.6 L412.5 92.6 L413.5 92.6 L414.5 92.7 L415.5 92.7 L416.5 92.7 L417.5 92.7 L418.5 92.7 L419.5 92.7 L420.5 92.7 L421.5 92.7 L422.5 92.7 L423.5 92.7 L424.5 92.7 L425.5 92.7 L426.5 92.7 L427.5 92.7 L428.5 92.7 L429.5 92.8 L430.5 92.8 L431.5 92.8 L432.5 92.8 L433.5 92.8 L434.5 92.8 L435.5 92.8 L436.5 92.8 L437.5 92.8 L438.5 92.8 L439.5 92.8 L440.5 92.8 L441.5 92.8 L442.5 92.8 L443.5 92.8 L444.5 92.8 L445.5 92.9 L446.5 92.9 L447.5 92.9 L448.5 92.9 L449.5 92.9 L450.5 92.9 L451.5 92.9 L452.5 92.9 L453.5 92.9 L454.5 92.9 L455.5 92.9 L456.5 92.9 L457.5 92.9 L458.5 92.9 L459.5 92.9 L460.5 93 L461.5 93 L462.5 93 L463.5 93 L464.5 93 L465.5 93 L466.5 93 L467.5 93 L467.7 93" fill="none" stroke="#000" stroke-width="1.0" stroke-linejoin="round" />
<path d="M467.7 105.9 L468.7 106.1 L469.7 106.1 L470.7 105.9 L471.7 105.8 L472.7 105.6 L473.7 105.3 L474.7 105.1 L475.7 104.8 L476.7 104.5 L477.7 104.2 L478.7 103.9 L479.7 103.6 L480.7 103.3 L481.7 103 L482.7 102.7 L483.7 102.4 L484.7 102.1 L485.7 101.8 L486.7 101.5 L487.7 101.2 L488.7 100.9 L489.7 100.6 L490.7 100.3 L491.7 100 L492.7 99.7 L493.7 99.4 L494.7 99.1 L495.7 98.8 L496.7 98.6 L497.7 98.3 L498.7 98 L499.7 97.8 L500.7 97.5 L501.7 97.3 L502.7 97 L503.7 96.8 L504.7 96.5 L505.7 96.3 L506.7 96.1 L507.7 95.9 L508.7 95.7 L509.7 95.4 L510.7 95.2 L511.7 95 L512.7 94.8 L513.7 94.6 L514.7 94.4 L515.7 94.3 L516.7 94.1 L517.7 93.9 L518.7 93.7 L519.7 93.6 L520 93.5" fill="none" stroke="#000" stroke-width="1.5" stroke-linejoin="round" />
<path d="M467.7 104 L468.7 104.2 L469.7 104.3 L470.7 104.3 L471.7 104.2 L472.7 104.1 L473.7 103.9 L474.7 103.8 L475.7 103.6 L476.7 103.4 L477.7 103.1 L478.7 102.9 L479.7 102.7 L480.7 102.4 L481.7 102.1 L482.7 101.9 L483.7 101.6 L484.7 101.3 L485.7 101.1 L486.7 100.8 L487.7 100.5 L488.7 100.2 L489.7 100 L490.7 99.7 L491.7 99.4 L492.7 99.2 L493.7 98.9 L494.7 98.6 L495.7 98.4 L496.7 98.1 L497.7 97.9 L498.7 97.6 L499.7 97.4 L500.7 97.1 L501.7 96.9 L502.7 96.6 L503.7 96.4 L504.7 96.2 L505.7 96 L506.7 95.7 L507.7 95.5 L508.7 95.3 L509.7 95.1 L510.7 94.9 L511.7 94.7 L512.7 94.5 L513.7 94.3 L514.7 94.1 L515.7 94 L516.7 93.8 L517.7 93.6 L518.7 93.4 L519.7 93.3 L520 93.2" fill="none" stroke="#000" stroke-width="1.0" stroke-linejoin="round" />
<path d="M467.7 98.6 L468.7 98.6 L469.7 98.6 L470.7 98.6 L471.7 98.5 L472.7 98.5 L473.7 98.4 L474.7 98.3 L475.7 98.2 L476.7 98.1 L477.7 98 L478.7 97.9 L479.7 97.8 L480.7 97.7 L481.7 97.6 L482.7 97.5 L483.7 97.3 L484.7 97.2 L485.7 97.1 L486.7 96.9 L487.7 96.8 L488.7 96.7 L489.7 96.5 L490.7 96.4 L491.7 96.3 L492.7 96.1 L493.7 96 L494.7 95.9 L495.7 95.7 L496.7 95.6 L497.7 95.5 L498.7 95.3 L499.7 95.2 L500.7 95.1 L501.7 94.9 L502.7 94.8 L503.7 94.7 L504.7 94.5 L505.7 94.4 L506.7 94.3 L507.7 94.2 L508.7 94 L509.7 93.9 L510.7 93.8 L511.7 93.7 L512.7 93.6 L513.7 93.5 L514.7 93.4 L515.7 93.2 L516.7 93.1 L517.7 93 L518.7 92.9 L519.7 92.8 L520 92.8" fill="none" stroke="#000" stroke-width="1.0" stroke-linejoin="round" />
<path d="M467.7 94.2 L468.7 94.2 L469.7 94.2 L470.7 94.2 L471.7 94.2 L472.7 94.1 L473.7 94.1 L474.7 94.1 L475.7 94.1 L476.7 94 L477.7 94 L478.7 94 L479.7 94 L480.7 93.9 L481.7 93.9 L482.7 93.9 L483.7 93.8 L484.7 93.8 L485.7 93.8 L486.7 93.7 L487.7 93.7 L488.7 93.6 L489.7 93.6 L490.7 93.5 L491.7 93.5 L492.7 93.4 L493.7 93.3 L494.7 93.3 L495.7 93.2 L496.7 93.2 L497.7 93.1 L498.7 93.1 L499.7 93 L500.7 93 L501.7 92.9 L502.7 92.9 L503.7 92.8 L504.7 92.8 L505.7 92.8 L506.7 92.7 L507.7 92.7 L508.7 92.7 L509.7 92.6 L510.7 92.6 L511.7 92.5 L512.7 92.5 L513.7 92.5 L514.7 92.4 L515.7 92.4 L516.7 92.4 L517.7 92.4 L518.7 92.3 L519.7 92.3 L520 92.3" fill="none" stroke="#000" stroke-width="1.0" stroke-linejoin="round" />
<line x1="467.7" y1="91.4" x2="467.7" y2="212.1" stroke="#222" stroke-width="1.0" />
<path d="M458 120.3 L465.8 136.4 L450.2 136.4 Z" fill="#000"/>
<path d="M292.5 200.3 L292.5 210.9 L310 210.9" fill="none" stroke="#000" stroke-width="1.2"/>
<line x1="30" y1="305.8" x2="243.5" y2="305.8" stroke="#000" stroke-width="1.6" />
<rect x="29.5" y="304.3" width="5" height="2" fill="#000"/>
<line x1="35.5" y1="305.8" x2="35.5" y2="316.5" stroke="#000" stroke-width="1.3" />
<path d="M35.5 316 L36 317.5 L36.5 320.2 L37 323.6 L37.5 327.4 L38 331.4 L38.5 335.5 L39 339.6 L39.5 343.8 L40 347.8 L40.5 351.8 L41 355.6 L41.5 359.3 L42 362.9 L42.5 366.2 L43 369.5 L43.5 372.5 L44 375.5 L44.5 378.2 L45 380.8 L45.5 383.3 L46 385.6 L46.5 387.8 L47 389.8 L47.5 391.8 L48 393.6 L48.5 395.2 L49 396.8 L49.5 398.5 L50 399.7 L50.5 401.1 L51 402.2 L51.5 403.7 L52 405 L52.5 405.5 L53 406.7 L53.5 407.2 L54 408.8 L54.5 409.3 L55 409.4 L55.5 410.9 L56 411.2 L56.5 411.8 L57 412.4 L57.5 412.4 L58 412.9 L58.5 414 L59 414.1 L59.5 414 L60 416.2 L60.5 415.1 L61 415.2 L61.5 415.4 L62 416.7 L62.5 417.2 L63 416.9 L63.5 417.7 L64 416 L64.5 417.1 L65 417.2 L65.5 417.9 L66 418.5 L66.5 416.3 L67 421.4 L67.5 417.7 L68 419 L68.5 419.6 L69 419.8 L69.5 419.3 L70 416.3 L70.5 418.2 L71 420.2 L71.5 418.6 L72 418.6 L72.5 417.4 L73 421 L73.5 420.4 L74 419.1 L74.5 419.9 L75 420 L75.5 419.1 L76 420 L76.5 420.6 L77 420.9 L77.5 421.7 L78 420.5 L78.5 420.1 L79 421 L79.5 420.1 L80 419.5 L80.5 421.9 L81 420.5 L81.5 421 L82 421.6 L82.5 419.9 L83 421.7 L83.5 421.5 L84 421 L84.5 421.6 L85 420.5 L85.5 419.1 L86 421 L86.5 420.4 L87 422.3 L87.5 421.7 L88 420.9 L88.5 421.6 L89 422.9 L89.5 422.7 L90 422 L90.5 422.1 L91 421.4 L91.5 421.6 L92 422.4 L92.5 421.7 L93 422.1 L93.5 420.7 L94 420.2 L94.5 420.2 L95 421.5 L95.5 423.3 L96 423.2 L96.5 421.1 L97 420.5 L97.5 422.9 L98 422.6 L98.5 420.8 L99 423.3 L99.5 422.4 L100 423.6 L100.5 422.6 L101 423.2 L101.5 422.7 L102 421.4 L102.5 422.2 L103 421.7 L103.5 423.3 L104 421.5 L104.5 421 L105 423.2 L105.5 423.7 L106 424 L106.5 423.7 L107 421.1 L107.5 421.9 L108 422.1 L108.5 422.7 L109 420.6 L109.5 422.7 L110 423 L110.5 421.8 L111 422.9 L111.5 424 L112 422.9 L112.5 423.9 L113 423.9 L113.5 423.3 L114 423.3 L114.5 422.6 L115 424.2 L115.5 422.5 L116 422.3 L116.5 423.8 L117 422.3 L117.5 423.5 L118 424.2 L118.5 423.2 L119 423.3 L119.5 424.1 L120 423.9 L120.5 421.7 L121 421.9 L121.5 424.6 L122 423.7 L122.5 421.2 L123 422 L123.5 423.3 L124 422.4 L124.5 423.8 L125 423.5 L125.5 423.9 L126 422.2 L126.5 424 L127 425.4 L127.5 422.7 L128 424.8 L128.5 424.5 L129 424.2 L129.5 423.5 L130 422.4 L130.5 422.7 L131 424.3 L131.5 424.6 L132 424.8 L132.5 424.6 L133 424.5 L133.5 423.2 L134 422.5 L134.5 423.9 L135 424.2 L135.5 423.8 L136 422.2 L136.5 423.2 L137 422.3 L137.5 423.9 L138 422.7 L138.5 423.6 L139 424.1 L139.5 424 L140 425.2 L140.5 422.8 L141 421.7 L141.5 424.8 L142 425.3 L142.5 425.4 L143 424.2 L143.5 424.5 L144 424.1 L144.5 422.7 L145 423.4 L145.5 424.5 L146 423.4 L146.5 425.9 L147 422.5 L147.5 423.6 L148 425.2 L148.5 423.5 L149 423 L149.5 422.7 L150 423.4 L150.5 425.6 L151 424.5 L151.5 424.7 L152 423.6 L152.5 425 L153 424.3 L153.5 423.3 L154 423.7 L154.5 424.4 L155 425.4 L155.5 424.2 L156 424.7 L156.5 426.3 L157 423.5 L157.5 423 L158 425.3 L158.5 424.7 L159 424.2 L159.5 424.6 L160 424 L160.5 424.8 L161 424 L161.5 425.1 L162 423.2 L162.5 423.6 L163 424.5 L163.5 423.9 L164 425.1 L164.5 424.4 L165 423.9 L165.5 424.6 L166 423.9 L166.5 422.9 L167 423.3 L167.5 423.7 L168 424 L168.5 424.6 L169 425.4 L169.5 425 L170 426.3 L170.5 425.8 L171 424.3 L171.5 426.2 L172 425.7 L172.5 424.1 L173 424.9 L173.5 425.7 L174 424.8 L174.5 425.6 L175 425 L175.5 425.3 L176 424.3 L176.5 425 L177 424.3 L177.5 425.3 L178 422.9 L178.5 425 L179 425.9 L179.5 425.2 L180 424.6 L180.5 425.2 L181 423.8 L181.5 423.8 L182 424.3 L182.5 424.5 L183 425.7 L183.5 423.8 L184 425.7 L184.5 423.1 L185 423.9 L185.5 424.7 L186 425.9 L186.5 424.1 L187 422.6 L187.5 425.2 L188 424.7 L188.5 423.7 L189 423.7 L189.5 424.1 L190 424.9 L190.5 425.5 L190.7 423.3" fill="none" stroke="#000" stroke-width="1.5" stroke-linejoin="round" />
<path d="M35.5 316 L36 316.7 L36.5 317.5 L37 318.4 L37.5 319.6 L38 320.9 L38.5 322.5 L39 324.3 L39.5 326.3 L40 328.4 L40.5 330.6 L41 332.9 L41.5 335.3 L42 337.7 L42.5 340.1 L43 342.5 L43.5 344.9 L44 347.2 L44.5 349.5 L45 351.7 L45.5 353.9 L46 356 L46.5 358 L47 359.9 L47.5 361.7 L48 363.5 L48.5 365.1 L49 366.8 L49.5 368.2 L50 369.7 L50.5 371.1 L51 372.4 L51.5 373.6 L52 374.8 L52.5 375.9 L53 376.9 L53.5 378 L54 378.9 L54.5 379.8 L55 380.8 L55.5 381.6 L56 382.5 L56.5 383.2 L57 383.5 L57.5 384.5 L58 384.8 L58.5 385.4 L59 386.3 L59.5 386.6 L60 387.2 L60.5 388 L61 388.1 L61.5 388.5 L62 389.2 L62.5 389.9 L63 390.1 L63.5 390 L64 390.6 L64.5 391.1 L65 392 L65.5 392.1 L66 392.4 L66.5 392.8 L67 392.7 L67.5 393.2 L68 393.5 L68.5 393.4 L69 393.9 L69.5 394.4 L70 394.1 L70.5 395 L71 395.2 L71.5 395.5 L72 395.2 L72.5 395.7 L73 396.3 L73.5 396.3 L74 396 L74.5 396.6 L75 397.1 L75.5 396.9 L76 397.2 L76.5 398 L77 397.4 L77.5 397.6 L78 397.5 L78.5 397.7 L79 398.6 L79.5 398.2 L80 398.1 L80.5 398.3 L81 398.7 L81.5 399.1 L82 398.8 L82.5 399.4 L83 399.2 L83.5 399.6 L84 399.7 L84.5 399.9 L85 399.7 L85.5 399.9 L86 400.2 L86.5 399.8 L87 400.4 L87.5 400.6 L88 400.9 L88.5 400.7 L89 400.7 L89.5 400.9 L90 400.8 L90.5 401.1 L91 401.3 L91.5 401.4 L92 401.1 L92.5 401.4 L93 401 L93.5 402 L94 401.6 L94.5 402 L95 401.7 L95.5 402 L96 402.3 L96.5 402.5 L97 401.9 L97.5 402.7 L98 402.4 L98.5 402.3 L99 402.8 L99.5 402.6 L100 402.7 L100.5 402.7 L101 403 L101.5 403 L102 403 L102.5 402.9 L103 403.1 L103.5 403.4 L104 403.7 L104.5 403.4 L105 403.9 L105.5 403.5 L106 403.3 L106.5 403.9 L107 403.4 L107.5 403.9 L108 404.2 L108.5 403.8 L109 403.9 L109.5 404.7 L110 404.1 L110.5 404.2 L111 404.4 L111.5 404.2 L112 404.2 L112.5 404.4 L113 403.6 L113.5 404.8 L114 404.1 L114.5 404.2 L115 404.7 L115.5 404.6 L116 404.3 L116.5 404.7 L117 404.4 L117.5 404.5 L118 404.3 L118.5 404.6 L119 405 L119.5 404.9 L120 405 L120.5 405.3 L121 405 L121.5 404.9 L122 405 L122.5 405.6 L123 405.2 L123.5 405.3 L124 405.2 L124.5 405.3 L125 405.4 L125.5 405.3 L126 405.3 L126.5 405.1 L127 405.2 L127.5 405.6 L128 405.7 L128.5 405.8 L129 405.5 L129.5 405.3 L130 405.8 L130.5 405.8 L131 405.2 L131.5 405.9 L132 405.9 L132.5 406.2 L133 405.4 L133.5 405.4 L134 406 L134.5 405.3 L135 405.6 L135.5 405.5 L136 405.6 L136.5 405.3 L137 405.8 L137.5 406.2 L138 406.1 L138.5 406.1 L139 405.9 L139.5 406.4 L140 406.2 L140.5 406.4 L141 405.6 L141.5 406.2 L142 405.8 L142.5 406.2 L143 406.2 L143.5 405.8 L144 406.2 L144.5 406.5 L145 406.4 L145.5 406.4 L146 406 L146.5 406 L147 405.9 L147.5 406.3 L148 406.6 L148.5 406.4 L149 406.3 L149.5 406 L150 406.5 L150.5 406.3 L151 405.8 L151.5 405.9 L152 406.3 L152.5 406.1 L153 406.9 L153.5 406.4 L154 406.1 L154.5 406.3 L155 406.9 L155.5 406.2 L156 406.7 L156.5 406.6 L157 407 L157.5 406.7 L158 406.4 L158.5 406.7 L159 406.6 L159.5 406.9 L160 406.6 L160.5 407.2 L161 406.6 L161.5 406.7 L162 406.4 L162.5 406.7 L163 406.6 L163.5 406.7 L164 406.9 L164.5 406.5 L165 406.4 L165.5 407 L166 406.6 L166.5 406.5 L167 407 L167.5 406.9 L168 405.9 L168.5 406.6 L169 407 L169.5 407 L170 406.6 L170.5 407.2 L171 406.5 L171.5 406.7 L172 406.8 L172.5 406.8 L173 407 L173.5 407.1 L174 406.8 L174.5 407.2 L175 406.6 L175.5 406.7 L176 407.3 L176.5 406.8 L177 407.1 L177.5 406.7 L178 406.8 L178.5 406.8 L179 406.9 L179.5 406.7 L180 406.9 L180.5 407.1 L181 407.2 L181.5 406.9 L182 407.1 L182.5 407.1 L183 406.6 L183.5 406.4 L184 407.4 L184.5 407.3 L185 406.9 L185.5 407 L186 406.6 L186.5 406.5 L187 407 L187.5 406.5 L188 407.2 L188.5 406.7 L189 407 L189.5 407.5 L190 407.5 L190.5 406.9 L190.7 407.3" fill="none" stroke="#000" stroke-width="1.0" stroke-linejoin="round" />
<path d="M35.5 313 L36.5 313.7 L37.5 314.7 L38.5 316 L39.5 317.5 L40.5 319.2 L41.5 321 L42.5 322.8 L43.5 324.8 L44.5 326.8 L45.5 328.8 L46.5 330.7 L47.5 332.7 L48.5 334.6 L49.5 336.5 L50.5 338.4 L51.5 340.2 L52.5 341.9 L53.5 343.6 L54.5 345.2 L55.5 346.8 L56.5 348.3 L57.5 349.8 L58.5 351.2 L59.5 352.5 L60.5 353.8 L61.5 355 L62.5 356.2 L63.5 357.3 L64.5 358.3 L65.5 359.4 L66.5 360.3 L67.5 361.3 L68.5 362.2 L69.5 363 L70.5 363.8 L71.5 364.6 L72.5 365.4 L73.5 366.1 L74.5 366.8 L75.5 367.4 L76.5 368 L77.5 368.7 L78.5 369.2 L79.5 369.8 L80.5 370.3 L81.5 370.8 L82.5 371.3 L83.5 371.8 L84.5 372.3 L85.5 372.7 L86.5 373.1 L87.5 373.5 L88.5 373.9 L89.5 374.3 L90.5 374.7 L91.5 375 L92.5 375.4 L93.5 375.7 L94.5 376.1 L95.5 376.4 L96.5 376.7 L97.5 377 L98.5 377.3 L99.5 377.6 L100.5 377.8 L101.5 378.1 L102.5 378.4 L103.5 378.6 L104.5 378.9 L105.5 379.1 L106.5 379.3 L107.5 379.6 L108.5 379.8 L109.5 380 L110.5 380.2 L111.5 380.4 L112.5 380.6 L113.5 380.8 L114.5 381 L115.5 381.2 L116.5 381.4 L117.5 381.6 L118.5 381.8 L119.5 382 L120.5 382.2 L121.5 382.3 L122.5 382.5 L123.5 382.7 L124.5 382.8 L125.5 383 L126.5 383.1 L127.5 383.3 L128.5 383.4 L129.5 383.6 L130.5 383.7 L131.5 383.9 L132.5 384 L133.5 384.2 L134.5 384.3 L135.5 384.4 L136.5 384.6 L137.5 384.7 L138.5 384.8 L139.5 385 L140.5 385.1 L141.5 385.2 L142.5 385.3 L143.5 385.4 L144.5 385.6 L145.5 385.7 L146.5 385.8 L147.5 385.9 L148.5 386 L149.5 386.1 L150.5 386.2 L151.5 386.3 L152.5 386.4 L153.5 386.5 L154.5 386.6 L155.5 386.7 L156.5 386.8 L157.5 386.9 L158.5 387 L159.5 387.1 L160.5 387.2 L161.5 387.3 L162.5 387.4 L163.5 387.5 L164.5 387.6 L165.5 387.7 L166.5 387.7 L167.5 387.8 L168.5 387.9 L169.5 388 L170.5 388.1 L171.5 388.1 L172.5 388.2 L173.5 388.3 L174.5 388.4 L175.5 388.4 L176.5 388.5 L177.5 388.6 L178.5 388.7 L179.5 388.7 L180.5 388.8 L181.5 388.9 L182.5 388.9 L183.5 389 L184.5 389.1 L185.5 389.1 L186.5 389.2 L187.5 389.3 L188.5 389.3 L189.5 389.4 L190.5 389.4 L190.7 389.5" fill="none" stroke="#000" stroke-width="1.0" stroke-linejoin="round" />
<path d="M35.5 312 L36.5 312.2 L37.5 312.4 L38.5 312.8 L39.5 313.2 L40.5 313.6 L41.5 314.1 L42.5 314.6 L43.5 315.2 L44.5 315.8 L45.5 316.5 L46.5 317.2 L47.5 317.8 L48.5 318.6 L49.5 319.3 L50.5 320 L51.5 320.7 L52.5 321.5 L53.5 322.3 L54.5 323 L55.5 323.8 L56.5 324.5 L57.5 325.3 L58.5 326 L59.5 326.8 L60.5 327.5 L61.5 328.3 L62.5 329 L63.5 329.7 L64.5 330.4 L65.5 331.2 L66.5 331.8 L67.5 332.5 L68.5 333.2 L69.5 333.9 L70.5 334.5 L71.5 335.2 L72.5 335.8 L73.5 336.5 L74.5 337.1 L75.5 337.7 L76.5 338.3 L77.5 338.9 L78.5 339.4 L79.5 340 L80.5 340.5 L81.5 341.1 L82.5 341.6 L83.5 342.1 L84.5 342.6 L85.5 343.1 L86.5 343.6 L87.5 344.1 L88.5 344.6 L89.5 345 L90.5 345.5 L91.5 345.9 L92.5 346.4 L93.5 346.8 L94.5 347.2 L95.5 347.6 L96.5 348 L97.5 348.4 L98.5 348.8 L99.5 349.1 L100.5 349.5 L101.5 349.9 L102.5 350.2 L103.5 350.6 L104.5 350.9 L105.5 351.2 L106.5 351.6 L107.5 351.9 L108.5 352.2 L109.5 352.5 L110.5 352.8 L111.5 353.1 L112.5 353.4 L113.5 353.7 L114.5 354 L115.5 354.2 L116.5 354.5 L117.5 354.8 L118.5 355 L119.5 355.3 L120.5 355.5 L121.5 355.8 L122.5 356 L123.5 356.3 L124.5 356.5 L125.5 356.7 L126.5 357 L127.5 357.2 L128.5 357.4 L129.5 357.6 L130.5 357.8 L131.5 358.1 L132.5 358.3 L133.5 358.5 L134.5 358.7 L135.5 358.9 L136.5 359.1 L137.5 359.3 L138.5 359.5 L139.5 359.6 L140.5 359.8 L141.5 360 L142.5 360.2 L143.5 360.4 L144.5 360.6 L145.5 360.7 L146.5 360.9 L147.5 361.1 L148.5 361.2 L149.5 361.4 L150.5 361.6 L151.5 361.7 L152.5 361.9 L153.5 362.1 L154.5 362.2 L155.5 362.4 L156.5 362.5 L157.5 362.7 L158.5 362.9 L159.5 363 L160.5 363.2 L161.5 363.3 L162.5 363.5 L163.5 363.6 L164.5 363.8 L165.5 363.9 L166.5 364.1 L167.5 364.2 L168.5 364.3 L169.5 364.5 L170.5 364.6 L171.5 364.8 L172.5 364.9 L173.5 365 L174.5 365.2 L175.5 365.3 L176.5 365.5 L177.5 365.6 L178.5 365.7 L179.5 365.9 L180.5 366 L181.5 366.1 L182.5 366.3 L183.5 366.4 L184.5 366.5 L185.5 366.6 L186.5 366.8 L187.5 366.9 L188.5 367 L189.5 367.2 L190.5 367.3 L190.7 367.3" fill="none" stroke="#000" stroke-width="1.0" stroke-linejoin="round" />
<path d="M35.5 310 L36.5 310 L37.5 310.1 L38.5 310.2 L39.5 310.3 L40.5 310.5 L41.5 310.7 L42.5 310.9 L43.5 311.1 L44.5 311.3 L45.5 311.5 L46.5 311.8 L47.5 312 L48.5 312.2 L49.5 312.5 L50.5 312.7 L51.5 313 L52.5 313.2 L53.5 313.5 L54.5 313.7 L55.5 314 L56.5 314.2 L57.5 314.5 L58.5 314.8 L59.5 315 L60.5 315.3 L61.5 315.6 L62.5 315.8 L63.5 316.1 L64.5 316.4 L65.5 316.6 L66.5 316.9 L67.5 317.2 L68.5 317.4 L69.5 317.7 L70.5 318 L71.5 318.2 L72.5 318.5 L73.5 318.8 L74.5 319 L75.5 319.3 L76.5 319.5 L77.5 319.8 L78.5 320.1 L79.5 320.3 L80.5 320.6 L81.5 320.8 L82.5 321.1 L83.5 321.3 L84.5 321.6 L85.5 321.9 L86.5 322.1 L87.5 322.4 L88.5 322.6 L89.5 322.9 L90.5 323.1 L91.5 323.3 L92.5 323.6 L93.5 323.8 L94.5 324.1 L95.5 324.3 L96.5 324.6 L97.5 324.8 L98.5 325 L99.5 325.3 L100.5 325.5 L101.5 325.7 L102.5 326 L103.5 326.2 L104.5 326.4 L105.5 326.6 L106.5 326.9 L107.5 327.1 L108.5 327.3 L109.5 327.5 L110.5 327.7 L111.5 328 L112.5 328.2 L113.5 328.4 L114.5 328.6 L115.5 328.8 L116.5 329 L117.5 329.2 L118.5 329.4 L119.5 329.6 L120.5 329.8 L121.5 330 L122.5 330.2 L123.5 330.4 L124.5 330.6 L125.5 330.8 L126.5 331 L127.5 331.2 L128.5 331.4 L129.5 331.6 L130.5 331.8 L131.5 331.9 L132.5 332.1 L133.5 332.3 L134.5 332.5 L135.5 332.7 L136.5 332.9 L137.5 333 L138.5 333.2 L139.5 333.4 L140.5 333.5 L141.5 333.7 L142.5 333.9 L143.5 334 L144.5 334.2 L145.5 334.4 L146.5 334.5 L147.5 334.7 L148.5 334.9 L149.5 335 L150.5 335.2 L151.5 335.3 L152.5 335.5 L153.5 335.6 L154.5 335.8 L155.5 335.9 L156.5 336.1 L157.5 336.2 L158.5 336.4 L159.5 336.5 L160.5 336.7 L161.5 336.8 L162.5 336.9 L163.5 337.1 L164.5 337.2 L165.5 337.3 L166.5 337.5 L167.5 337.6 L168.5 337.7 L169.5 337.9 L170.5 338 L171.5 338.1 L172.5 338.2 L173.5 338.4 L174.5 338.5 L175.5 338.6 L176.5 338.7 L177.5 338.8 L178.5 339 L179.5 339.1 L180.5 339.2 L181.5 339.3 L182.5 339.4 L183.5 339.5 L184.5 339.6 L185.5 339.7 L186.5 339.8 L187.5 340 L188.5 340.1 L189.5 340.2 L190.5 340.3 L190.7 340.3" fill="none" stroke="#000" stroke-width="1.0" stroke-linejoin="round" />
<path d="M35.5 309 L36.5 308.9 L37.5 308.9 L38.5 308.9 L39.5 308.9 L40.5 308.9 L41.5 308.9 L42.5 309 L43.5 309 L44.5 309 L45.5 309.1 L46.5 309.1 L47.5 309.2 L48.5 309.2 L49.5 309.3 L50.5 309.3 L51.5 309.4 L52.5 309.4 L53.5 309.5 L54.5 309.5 L55.5 309.6 L56.5 309.7 L57.5 309.7 L58.5 309.8 L59.5 309.9 L60.5 309.9 L61.5 310 L62.5 310.1 L63.5 310.1 L64.5 310.2 L65.5 310.3 L66.5 310.3 L67.5 310.4 L68.5 310.5 L69.5 310.6 L70.5 310.6 L71.5 310.7 L72.5 310.8 L73.5 310.9 L74.5 310.9 L75.5 311 L76.5 311.1 L77.5 311.2 L78.5 311.2 L79.5 311.3 L80.5 311.4 L81.5 311.5 L82.5 311.5 L83.5 311.6 L84.5 311.7 L85.5 311.8 L86.5 311.9 L87.5 311.9 L88.5 312 L89.5 312.1 L90.5 312.2 L91.5 312.3 L92.5 312.3 L93.5 312.4 L94.5 312.5 L95.5 312.6 L96.5 312.6 L97.5 312.7 L98.5 312.8 L99.5 312.9 L100.5 313 L101.5 313 L102.5 313.1 L103.5 313.2 L104.5 313.3 L105.5 313.4 L106.5 313.4 L107.5 313.5 L108.5 313.6 L109.5 313.7 L110.5 313.8 L111.5 313.8 L112.5 313.9 L113.5 314 L114.5 314.1 L115.5 314.1 L116.5 314.2 L117.5 314.3 L118.5 314.4 L119.5 314.5 L120.5 314.5 L121.5 314.6 L122.5 314.7 L123.5 314.8 L124.5 314.8 L125.5 314.9 L126.5 315 L127.5 315.1 L128.5 315.2 L129.5 315.2 L130.5 315.3 L131.5 315.4 L132.5 315.5 L133.5 315.5 L134.5 315.6 L135.5 315.7 L136.5 315.8 L137.5 315.8 L138.5 315.9 L139.5 316 L140.5 316.1 L141.5 316.1 L142.5 316.2 L143.5 316.3 L144.5 316.4 L145.5 316.4 L146.5 316.5 L147.5 316.6 L148.5 316.6 L149.5 316.7 L150.5 316.8 L151.5 316.9 L152.5 316.9 L153.5 317 L154.5 317.1 L155.5 317.1 L156.5 317.2 L157.5 317.3 L158.5 317.4 L159.5 317.4 L160.5 317.5 L161.5 317.6 L162.5 317.6 L163.5 317.7 L164.5 317.8 L165.5 317.8 L166.5 317.9 L167.5 318 L168.5 318.1 L169.5 318.1 L170.5 318.2 L171.5 318.3 L172.5 318.3 L173.5 318.4 L174.5 318.5 L175.5 318.5 L176.5 318.6 L177.5 318.7 L178.5 318.7 L179.5 318.8 L180.5 318.9 L181.5 318.9 L182.5 319 L183.5 319.1 L184.5 319.1 L185.5 319.2 L186.5 319.2 L187.5 319.3 L188.5 319.4 L189.5 319.4 L190.5 319.5 L190.7 319.5" fill="none" stroke="#000" stroke-width="1.0" stroke-linejoin="round" />
<path d="M35.5 307 L36.5 307 L37.5 307 L38.5 307 L39.5 307 L40.5 307 L41.5 307 L42.5 307 L43.5 307 L44.5 307 L45.5 307.1 L46.5 307.1 L47.5 307.1 L48.5 307.1 L49.5 307.1 L50.5 307.1 L51.5 307.1 L52.5 307.1 L53.5 307.1 L54.5 307.1 L55.5 307.1 L56.5 307.1 L57.5 307.1 L58.5 307.1 L59.5 307.1 L60.5 307.1 L61.5 307.1 L62.5 307.1 L63.5 307.1 L64.5 307.1 L65.5 307.2 L66.5 307.2 L67.5 307.2 L68.5 307.2 L69.5 307.2 L70.5 307.2 L71.5 307.2 L72.5 307.2 L73.5 307.2 L74.5 307.2 L75.5 307.2 L76.5 307.2 L77.5 307.2 L78.5 307.2 L79.5 307.2 L80.5 307.2 L81.5 307.2 L82.5 307.2 L83.5 307.2 L84.5 307.3 L85.5 307.3 L86.5 307.3 L87.5 307.3 L88.5 307.3 L89.5 307.3 L90.5 307.3 L91.5 307.3 L92.5 307.3 L93.5 307.3 L94.5 307.3 L95.5 307.3 L96.5 307.3 L97.5 307.3 L98.5 307.3 L99.5 307.3 L100.5 307.3 L101.5 307.3 L102.5 307.3 L103.5 307.4 L104.5 307.4 L105.5 307.4 L106.5 307.4 L107.5 307.4 L108.5 307.4 L109.5 307.4 L110.5 307.4 L111.5 307.4 L112.5 307.4 L113.5 307.4 L114.5 307.4 L115.5 307.4 L116.5 307.4 L117.5 307.4 L118.5 307.4 L119.5 307.4 L120.5 307.4 L121.5 307.4 L122.5 307.4 L123.5 307.5 L124.5 307.5 L125.5 307.5 L126.5 307.5 L127.5 307.5 L128.5 307.5 L129.5 307.5 L130.5 307.5 L131.5 307.5 L132.5 307.5 L133.5 307.5 L134.5 307.5 L135.5 307.5 L136.5 307.5 L137.5 307.5 L138.5 307.5 L139.5 307.5 L140.5 307.5 L141.5 307.5 L142.5 307.6 L143.5 307.6 L144.5 307.6 L145.5 307.6 L146.5 307.6 L147.5 307.6 L148.5 307.6 L149.5 307.6 L150.5 307.6 L151.5 307.6 L152.5 307.6 L153.5 307.6 L154.5 307.6 L155.5 307.6 L156.5 307.6 L157.5 307.6 L158.5 307.6 L159.5 307.6 L160.5 307.6 L161.5 307.6 L162.5 307.7 L163.5 307.7 L164.5 307.7 L165.5 307.7 L166.5 307.7 L167.5 307.7 L168.5 307.7 L169.5 307.7 L170.5 307.7 L171.5 307.7 L172.5 307.7 L173.5 307.7 L174.5 307.7 L175.5 307.7 L176.5 307.7 L177.5 307.7 L178.5 307.7 L179.5 307.7 L180.5 307.7 L181.5 307.8 L182.5 307.8 L183.5 307.8 L184.5 307.8 L185.5 307.8 L186.5 307.8 L187.5 307.8 L188.5 307.8 L189.5 307.8 L190.5 307.8 L190.7 307.8" fill="none" stroke="#000" stroke-width="1.0" stroke-linejoin="round" />
<path d="M190.7 319.3 L191.7 319.7 L192.7 319.7 L193.7 319.7 L194.7 319.6 L195.7 319.4 L196.7 319.2 L197.7 319 L198.7 318.8 L199.7 318.5 L200.7 318.3 L201.7 318 L202.7 317.7 L203.7 317.5 L204.7 317.2 L205.7 316.9 L206.7 316.6 L207.7 316.4 L208.7 316.1 L209.7 315.8 L210.7 315.5 L211.7 315.3 L212.7 315 L213.7 314.8 L214.7 314.5 L215.7 314.3 L216.7 314 L217.7 313.8 L218.7 313.6 L219.7 313.3 L220.7 313.1 L221.7 312.9 L222.7 312.7 L223.7 312.5 L224.7 312.3 L225.7 312.1 L226.7 312 L227.7 311.8 L228.7 311.6 L229.7 311.4 L230.7 311.3 L231.7 311.1 L232.7 311 L233.7 310.9 L234.7 310.7 L235.7 310.6 L236.7 310.5 L237.7 310.3 L238.7 310.2 L239.7 310.1 L240.7 310 L241.7 309.9 L242.7 309.8 L243.5 309.8" fill="none" stroke="#000" stroke-width="1.5" stroke-linejoin="round" />
<path d="M190.7 318 L191.7 318.4 L192.7 318.6 L193.7 318.5 L194.7 318.5 L195.7 318.3 L196.7 318.2 L197.7 318 L198.7 317.8 L199.7 317.6 L200.7 317.3 L201.7 317.1 L202.7 316.8 L203.7 316.6 L204.7 316.3 L205.7 316.1 L206.7 315.8 L207.7 315.6 L208.7 315.3 L209.7 315.1 L210.7 314.9 L211.7 314.6 L212.7 314.4 L213.7 314.2 L214.7 314 L215.7 313.7 L216.7 313.5 L217.7 313.3 L218.7 313.1 L219.7 312.9 L220.7 312.7 L221.7 312.5 L222.7 312.3 L223.7 312.2 L224.7 312 L225.7 311.8 L226.7 311.7 L227.7 311.5 L228.7 311.3 L229.7 311.2 L230.7 311 L231.7 310.9 L232.7 310.8 L233.7 310.6 L234.7 310.5 L235.7 310.4 L236.7 310.2 L237.7 310.1 L238.7 310 L239.7 309.9 L240.7 309.8 L241.7 309.7 L242.7 309.6 L243.5 309.5" fill="none" stroke="#000" stroke-width="1.0" stroke-linejoin="round" />
<path d="M190.7 313.6 L191.7 313.6 L192.7 313.6 L193.7 313.6 L194.7 313.6 L195.7 313.5 L196.7 313.5 L197.7 313.5 L198.7 313.5 L199.7 313.4 L200.7 313.4 L201.7 313.3 L202.7 313.3 L203.7 313.3 L204.7 313.2 L205.7 313.2 L206.7 313.1 L207.7 313 L208.7 312.9 L209.7 312.8 L210.7 312.7 L211.7 312.6 L212.7 312.4 L213.7 312.3 L214.7 312.2 L215.7 312 L216.7 311.9 L217.7 311.8 L218.7 311.7 L219.7 311.5 L220.7 311.4 L221.7 311.3 L222.7 311.2 L223.7 311.1 L224.7 311 L225.7 310.9 L226.7 310.8 L227.7 310.7 L228.7 310.6 L229.7 310.4 L230.7 310.3 L231.7 310.2 L232.7 310.1 L233.7 310 L234.7 309.9 L235.7 309.8 L236.7 309.7 L237.7 309.6 L238.7 309.5 L239.7 309.4 L240.7 309.3 L241.7 309.2 L242.7 309.1 L243.5 309" fill="none" stroke="#000" stroke-width="1.0" stroke-linejoin="round" />
<path d="M190.7 309.6 L191.7 309.6 L192.7 309.6 L193.7 309.5 L194.7 309.5 L195.7 309.5 L196.7 309.5 L197.7 309.5 L198.7 309.4 L199.7 309.4 L200.7 309.4 L201.7 309.4 L202.7 309.3 L203.7 309.3 L204.7 309.3 L205.7 309.2 L206.7 309.2 L207.7 309.2 L208.7 309.2 L209.7 309.1 L210.7 309.1 L211.7 309.1 L212.7 309 L213.7 309 L214.7 309 L215.7 308.9 L216.7 308.9 L217.7 308.9 L218.7 308.8 L219.7 308.8 L220.7 308.8 L221.7 308.7 L222.7 308.7 L223.7 308.7 L224.7 308.6 L225.7 308.6 L226.7 308.6 L227.7 308.5 L228.7 308.5 L229.7 308.4 L230.7 308.4 L231.7 308.3 L232.7 308.3 L233.7 308.3 L234.7 308.2 L235.7 308.2 L236.7 308.1 L237.7 308.1 L238.7 308 L239.7 308 L240.7 307.9 L241.7 307.9 L242.7 307.8 L243.5 307.8" fill="none" stroke="#000" stroke-width="1.0" stroke-linejoin="round" />
<line x1="190.7" y1="305.8" x2="190.7" y2="425.5" stroke="#222" stroke-width="1.0" />
<path d="M179 343.5 L187 359.7 L171 359.7 Z" fill="#000"/>
<path d="M15 408.3 L15 426 L32.6 426" fill="none" stroke="#000" stroke-width="1.2"/>
<line x1="309" y1="306.1" x2="521.5" y2="306.1" stroke="#000" stroke-width="1.6" />
<rect x="308.5" y="304.6" width="5" height="2" fill="#000"/>
<line x1="314.5" y1="306.1" x2="314.5" y2="316.5" stroke="#000" stroke-width="1.3" />
<path d="M314.5 316 L315 318.6 L315.5 322.6 L316 327.6 L316.5 333.2 L317 339 L317.5 344.9 L318 350.6 L318.5 356.1 L319 361.2 L319.5 365.9 L320 370.3 L320.5 374.4 L321 378.1 L321.5 381.4 L322 384.5 L322.5 387.3 L323 389.8 L323.5 392.1 L324 394.2 L324.5 396.1 L325 397.8 L325.5 399.4 L326 400.9 L326.5 402.3 L327 403.5 L327.5 404.7 L328 405.6 L328.5 406.7 L329 407.5 L329.5 408.2 L330 409.3 L330.5 410 L331 410.6 L331.5 411.3 L332 411.8 L332.5 412.6 L333 413 L333.5 413.8 L334 413.8 L334.5 414.8 L335 415.3 L335.5 416.1 L336 416.4 L336.5 416.5 L337 416.4 L337.5 416.2 L338 417.5 L338.5 418.5 L339 419 L339.5 416.9 L340 418.2 L340.5 418.8 L341 418.6 L341.5 419.6 L342 419.8 L342.5 419.6 L343 420.2 L343.5 419.2 L344 419.9 L344.5 420.1 L345 421.8 L345.5 419.8 L346 421.2 L346.5 422.3 L347 421.7 L347.5 422.6 L348 421.5 L348.5 422.6 L349 423.2 L349.5 424.5 L350 423.3 L350.5 424 L351 422.9 L351.5 423.1 L352 424.5 L352.5 423.7 L353 424.6 L353.5 424.1 L354 425.4 L354.5 425.8 L355 423 L355.5 425.5 L356 424.3 L356.5 424.4 L357 423.9 L357.5 424.8 L358 423.2 L358.5 423.6 L359 423.6 L359.5 424.7 L360 425.3 L360.5 425.2 L361 424.9 L361.5 424.1 L362 423.1 L362.5 425.1 L363 424.9 L363.5 425.2 L364 426.2 L364.5 424.8 L365 424.8 L365.5 422.9 L366 425.6 L366.5 425 L367 424.5 L367.5 425.5 L368 424.3 L368.5 424.7 L369 427 L369.5 426 L370 426.1 L370.5 426 L371 425.9 L371.5 425.6 L372 427.5 L372.5 425.4 L373 426.1 L373.5 425.3 L374 425.2 L374.5 423.3 L375 423.8 L375.5 427 L376 426.9 L376.5 425.2 L377 425.6 L377.5 426.2 L378 424.8 L378.5 427.3 L379 424.7 L379.5 425 L380 423.2 L380.5 427.1 L381 425.8 L381.5 427.2 L382 424.9 L382.5 426.1 L383 425.8 L383.5 426 L384 427.7 L384.5 427.8 L385 427.1 L385.5 425.5 L386 426.6 L386.5 427.1 L387 426.4 L387.5 426.4 L388 426.3 L388.5 425.1 L389 426.1 L389.5 427.3 L390 425 L390.5 426 L391 426.7 L391.5 424.7 L392 425.8 L392.5 424.4 L393 425.4 L393.5 424.7 L394 425.1 L394.5 425.5 L395 425.7 L395.5 425.8 L396 423.8 L396.5 427.4 L397 425.7 L397.5 425 L398 425.4 L398.5 426.2 L399 425.1 L399.5 425.6 L400 425.5 L400.5 426.5 L401 425.3 L401.5 426.4 L402 426.3 L402.5 425.8 L403 427.1 L403.5 426 L404 424.9 L404.5 426.3 L405 426.1 L405.5 426 L406 426.2 L406.5 428.1 L407 426.2 L407.5 426.4 L408 425.8 L408.5 427.2 L409 426 L409.5 425.3 L410 424.9 L410.5 426.5 L411 426.7 L411.5 424.6 L412 425.4 L412.5 426.6 L413 426.9 L413.5 424.8 L414 425.7 L414.5 426.8 L415 425.5 L415.5 425.6 L416 425.5 L416.5 424.8 L417 426.1 L417.5 426.3 L418 424.8 L418.5 426.1 L419 427 L419.5 426.2 L420 426.9 L420.5 425.5 L421 427.3 L421.5 425.3 L422 427.7 L422.5 425.6 L423 425.4 L423.5 425.2 L424 425.7 L424.5 425.6 L425 425.4 L425.5 425.7 L426 426.6 L426.5 426.8 L427 425.7 L427.5 427.1 L428 425.1 L428.5 425.1 L429 425 L429.5 426.6 L430 424.6 L430.5 424.8 L431 427.2 L431.5 427.6 L432 427.2 L432.5 424.7 L433 426 L433.5 426.8 L434 426.1 L434.5 424.6 L435 425.7 L435.5 424.5 L436 424.9 L436.5 428 L437 426.6 L437.5 424.7 L438 424.7 L438.5 426.4 L439 425.5 L439.5 426.6 L440 425.5 L440.5 425.9 L441 426.2 L441.5 425.1 L442 424.3 L442.5 425 L443 425.4 L443.5 425.9 L444 426 L444.5 426 L445 426.5 L445.5 425.2 L446 427.3 L446.5 427.8 L447 426.4 L447.5 426.2 L448 427.2 L448.5 426.6 L449 426.2 L449.5 425.9 L450 425.4 L450.5 425 L451 426.6 L451.5 427.1 L452 425.1 L452.5 426 L453 426.2 L453.5 425.6 L454 425.3 L454.5 425.7 L455 424.3 L455.5 426 L456 425.8 L456.5 427.9 L457 426.9 L457.5 425.7 L458 426 L458.5 427.6 L459 427.5 L459.5 426.2 L460 425.9 L460.5 424.7 L461 425.7 L461.5 425.9 L462 425.4 L462.5 427.6 L463 424.3 L463.5 425.9 L464 426.4 L464.5 426.4 L465 427.5 L465.5 424.8 L466 425.4 L466.5 426.1 L467 426.1 L467.5 425.7 L468 425.3 L468.5 427 L469 425.1 L469.2 425.5" fill="none" stroke="#000" stroke-width="1.5" stroke-linejoin="round" />
<path d="M314.5 316.2 L315 316.7 L315.5 317.4 L316 318.3 L316.5 319.4 L317 320.9 L317.5 322.5 L318 324.5 L318.5 326.6 L319 329 L319.5 331.5 L320 334 L320.5 336.7 L321 339.4 L321.5 342.1 L322 344.7 L322.5 347.4 L323 350 L323.5 352.5 L324 355 L324.5 357.3 L325 359.6 L325.5 361.8 L326 363.9 L326.5 365.9 L327 367.8 L327.5 369.6 L328 371.2 L328.5 373.1 L329 374.6 L329.5 376.1 L330 377.3 L330.5 378.8 L331 379.8 L331.5 381.1 L332 382.1 L332.5 383.6 L333 384 L333.5 385 L334 386.4 L334.5 386.9 L335 387.6 L335.5 388.2 L336 389.4 L336.5 389.4 L337 390.5 L337.5 391.9 L338 391.6 L338.5 391.5 L339 391.8 L339.5 393 L340 392.6 L340.5 392.8 L341 393.7 L341.5 393.9 L342 395.6 L342.5 394.3 L343 396.8 L343.5 395.4 L344 396.4 L344.5 397.1 L345 397.1 L345.5 397.8 L346 396.6 L346.5 395.6 L347 397.7 L347.5 396.6 L348 397.9 L348.5 399.5 L349 398.6 L349.5 398.5 L350 398.2 L350.5 399.2 L351 399.5 L351.5 398.4 L352 400.2 L352.5 399.2 L353 400.5 L353.5 400.1 L354 401.5 L354.5 401.6 L355 400.9 L355.5 401 L356 401.6 L356.5 402.6 L357 402.5 L357.5 401.8 L358 402.1 L358.5 403.3 L359 400.6 L359.5 402.6 L360 401.5 L360.5 403.6 L361 402.1 L361.5 402.5 L362 401.8 L362.5 402.9 L363 403.7 L363.5 404.6 L364 402 L364.5 402.9 L365 406.9 L365.5 404.3 L366 403.5 L366.5 404.1 L367 401.3 L367.5 405.3 L368 404.1 L368.5 402.7 L369 405.1 L369.5 403.6 L370 403.3 L370.5 404.8 L371 404.8 L371.5 404.1 L372 404.5 L372.5 403.4 L373 403.4 L373.5 405.6 L374 406 L374.5 405.3 L375 405.3 L375.5 404.7 L376 405 L376.5 404.3 L377 406.8 L377.5 404.8 L378 405.7 L378.5 405.4 L379 404.2 L379.5 407.3 L380 405.2 L380.5 404.9 L381 405.8 L381.5 404.9 L382 405.8 L382.5 405 L383 406.4 L383.5 406 L384 404.8 L384.5 407 L385 406.3 L385.5 405.1 L386 406.5 L386.5 406.6 L387 407.9 L387.5 405.5 L388 407.1 L388.5 406.3 L389 407 L389.5 406.2 L390 406.5 L390.5 407 L391 405.5 L391.5 404.7 L392 406.7 L392.5 406.3 L393 406.8 L393.5 407.3 L394 406.6 L394.5 407.9 L395 406.8 L395.5 407 L396 407.7 L396.5 407.5 L397 406.9 L397.5 407.1 L398 406.4 L398.5 406.5 L399 407.2 L399.5 407.9 L400 406.8 L400.5 408 L401 409 L401.5 409.2 L402 407.3 L402.5 408.3 L403 407.9 L403.5 408.1 L404 408.2 L404.5 407.9 L405 408.2 L405.5 407.6 L406 407.3 L406.5 407.8 L407 408 L407.5 408.7 L408 407.9 L408.5 408.3 L409 408.9 L409.5 406.8 L410 407.4 L410.5 408.2 L411 407.7 L411.5 406.8 L412 408.6 L412.5 407.7 L413 406.9 L413.5 409.5 L414 406.7 L414.5 407.8 L415 407.2 L415.5 408 L416 408.4 L416.5 407.2 L417 407.8 L417.5 407.8 L418 407 L418.5 409 L419 408.1 L419.5 407.7 L420 407.4 L420.5 407.7 L421 408.1 L421.5 407.6 L422 409.2 L422.5 405.8 L423 406.1 L423.5 407.9 L424 406.4 L424.5 408 L425 407.5 L425.5 408.7 L426 408.5 L426.5 409.3 L427 409 L427.5 409.3 L428 408.7 L428.5 409.2 L429 408.7 L429.5 407.7 L430 407.1 L430.5 407.1 L431 408.7 L431.5 406.1 L432 408.4 L432.5 407.6 L433 408.9 L433.5 408.5 L434 407.6 L434.5 408.3 L435 406.3 L435.5 408.6 L436 408.8 L436.5 406.7 L437 409.1 L437.5 408.3 L438 408.5 L438.5 407.1 L439 408.9 L439.5 408.9 L440 408.4 L440.5 407.5 L441 409.1 L441.5 409.5 L442 408.8 L442.5 409.3 L443 407.9 L443.5 408.6 L444 408.8 L444.5 408.6 L445 411 L445.5 408.9 L446 408 L446.5 409.2 L447 407.5 L447.5 408.8 L448 409.2 L448.5 408.1 L449 408.2 L449.5 407.7 L450 408.7 L450.5 407.9 L451 410.1 L451.5 409.2 L452 408.4 L452.5 407.3 L453 410.4 L453.5 409.8 L454 409 L454.5 408.8 L455 408.8 L455.5 408.2 L456 410.3 L456.5 408.8 L457 407.3 L457.5 408 L458 406.3 L458.5 409.2 L459 409.3 L459.5 410.2 L460 410.5 L460.5 407.9 L461 409.1 L461.5 409.6 L462 409.4 L462.5 408.2 L463 409.4 L463.5 409.1 L464 409.9 L464.5 408.6 L465 408.5 L465.5 408.2 L466 408.3 L466.5 408 L467 408.4 L467.5 409.1 L468 409.1 L468.5 409.9 L469 409.7 L469.2 409.2" fill="none" stroke="#000" stroke-width="1.0" stroke-linejoin="round" />
<path d="M314.5 313.7 L315.5 314.2 L316.5 314.9 L317.5 315.9 L318.5 317.3 L319.5 318.8 L320.5 320.6 L321.5 322.5 L322.5 324.6 L323.5 326.7 L324.5 328.9 L325.5 331.1 L326.5 333.4 L327.5 335.6 L328.5 337.7 L329.5 339.9 L330.5 341.9 L331.5 344 L332.5 345.9 L333.5 347.8 L334.5 349.6 L335.5 351.3 L336.5 352.9 L337.5 354.5 L338.5 356 L339.5 357.4 L340.5 358.8 L341.5 360 L342.5 361.3 L343.5 362.4 L344.5 363.5 L345.5 364.5 L346.5 365.5 L347.5 366.4 L348.5 367.3 L349.5 368.2 L350.5 368.9 L351.5 369.7 L352.5 370.4 L353.5 371.1 L354.5 371.7 L355.5 372.3 L356.5 372.9 L357.5 373.4 L358.5 373.9 L359.5 374.4 L360.5 374.9 L361.5 375.3 L362.5 375.8 L363.5 376.2 L364.5 376.6 L365.5 376.9 L366.5 377.3 L367.5 377.6 L368.5 378 L369.5 378.3 L370.5 378.6 L371.5 378.9 L372.5 379.2 L373.5 379.4 L374.5 379.7 L375.5 379.9 L376.5 380.2 L377.5 380.4 L378.5 380.6 L379.5 380.8 L380.5 381.1 L381.5 381.3 L382.5 381.5 L383.5 381.7 L384.5 381.9 L385.5 382 L386.5 382.2 L387.5 382.4 L388.5 382.6 L389.5 382.7 L390.5 382.9 L391.5 383 L392.5 383.2 L393.5 383.4 L394.5 383.5 L395.5 383.6 L396.5 383.8 L397.5 383.9 L398.5 384.1 L399.5 384.2 L400.5 384.3 L401.5 384.5 L402.5 384.6 L403.5 384.7 L404.5 384.8 L405.5 384.9 L406.5 385.1 L407.5 385.2 L408.5 385.3 L409.5 385.4 L410.5 385.5 L411.5 385.6 L412.5 385.7 L413.5 385.8 L414.5 385.9 L415.5 386 L416.5 386.1 L417.5 386.2 L418.5 386.3 L419.5 386.4 L420.5 386.5 L421.5 386.6 L422.5 386.7 L423.5 386.8 L424.5 386.9 L425.5 387 L426.5 387 L427.5 387.1 L428.5 387.2 L429.5 387.3 L430.5 387.4 L431.5 387.4 L432.5 387.5 L433.5 387.6 L434.5 387.7 L435.5 387.8 L436.5 387.8 L437.5 387.9 L438.5 388 L439.5 388 L440.5 388.1 L441.5 388.2 L442.5 388.2 L443.5 388.3 L444.5 388.4 L445.5 388.4 L446.5 388.5 L447.5 388.6 L448.5 388.6 L449.5 388.7 L450.5 388.8 L451.5 388.8 L452.5 388.9 L453.5 388.9 L454.5 389 L455.5 389.1 L456.5 389.1 L457.5 389.2 L458.5 389.2 L459.5 389.3 L460.5 389.3 L461.5 389.4 L462.5 389.4 L463.5 389.5 L464.5 389.5 L465.5 389.6 L466.5 389.6 L467.5 389.7 L468.5 389.7 L469.2 389.8" fill="none" stroke="#000" stroke-width="1.0" stroke-linejoin="round" />
<path d="M314.5 311.8 L315.5 312 L316.5 312.2 L317.5 312.6 L318.5 313 L319.5 313.5 L320.5 314.1 L321.5 314.7 L322.5 315.3 L323.5 316 L324.5 316.7 L325.5 317.5 L326.5 318.2 L327.5 319 L328.5 319.8 L329.5 320.6 L330.5 321.4 L331.5 322.2 L332.5 323 L333.5 323.9 L334.5 324.7 L335.5 325.5 L336.5 326.3 L337.5 327.1 L338.5 327.9 L339.5 328.7 L340.5 329.5 L341.5 330.3 L342.5 331.1 L343.5 331.9 L344.5 332.6 L345.5 333.4 L346.5 334.1 L347.5 334.8 L348.5 335.5 L349.5 336.2 L350.5 336.9 L351.5 337.6 L352.5 338.2 L353.5 338.9 L354.5 339.5 L355.5 340.2 L356.5 340.8 L357.5 341.4 L358.5 342 L359.5 342.5 L360.5 343.1 L361.5 343.6 L362.5 344.2 L363.5 344.7 L364.5 345.2 L365.5 345.7 L366.5 346.2 L367.5 346.7 L368.5 347.2 L369.5 347.6 L370.5 348.1 L371.5 348.5 L372.5 349 L373.5 349.4 L374.5 349.8 L375.5 350.2 L376.5 350.6 L377.5 351 L378.5 351.4 L379.5 351.7 L380.5 352.1 L381.5 352.4 L382.5 352.8 L383.5 353.1 L384.5 353.4 L385.5 353.8 L386.5 354.1 L387.5 354.4 L388.5 354.7 L389.5 355 L390.5 355.3 L391.5 355.5 L392.5 355.8 L393.5 356.1 L394.5 356.4 L395.5 356.6 L396.5 356.9 L397.5 357.1 L398.5 357.3 L399.5 357.6 L400.5 357.8 L401.5 358 L402.5 358.3 L403.5 358.5 L404.5 358.7 L405.5 358.9 L406.5 359.1 L407.5 359.3 L408.5 359.5 L409.5 359.7 L410.5 359.9 L411.5 360.1 L412.5 360.2 L413.5 360.4 L414.5 360.6 L415.5 360.8 L416.5 360.9 L417.5 361.1 L418.5 361.3 L419.5 361.4 L420.5 361.6 L421.5 361.7 L422.5 361.9 L423.5 362 L424.5 362.2 L425.5 362.3 L426.5 362.5 L427.5 362.6 L428.5 362.8 L429.5 362.9 L430.5 363 L431.5 363.2 L432.5 363.3 L433.5 363.4 L434.5 363.5 L435.5 363.7 L436.5 363.8 L437.5 363.9 L438.5 364 L439.5 364.1 L440.5 364.3 L441.5 364.4 L442.5 364.5 L443.5 364.6 L444.5 364.7 L445.5 364.8 L446.5 364.9 L447.5 365 L448.5 365.2 L449.5 365.3 L450.5 365.4 L451.5 365.5 L452.5 365.6 L453.5 365.7 L454.5 365.8 L455.5 365.9 L456.5 366 L457.5 366.1 L458.5 366.2 L459.5 366.3 L460.5 366.4 L461.5 366.5 L462.5 366.5 L463.5 366.6 L464.5 366.7 L465.5 366.8 L466.5 366.9 L467.5 367 L468.5 367.1 L469.2 367.2" fill="none" stroke="#000" stroke-width="1.0" stroke-linejoin="round" />
<path d="M314.5 309.5 L315.5 309.6 L316.5 309.7 L317.5 309.8 L318.5 310 L319.5 310.1 L320.5 310.3 L321.5 310.4 L322.5 310.6 L323.5 310.8 L324.5 311 L325.5 311.2 L326.5 311.5 L327.5 311.7 L328.5 311.9 L329.5 312.2 L330.5 312.4 L331.5 312.7 L332.5 312.9 L333.5 313.2 L334.5 313.5 L335.5 313.8 L336.5 314 L337.5 314.3 L338.5 314.6 L339.5 314.9 L340.5 315.2 L341.5 315.5 L342.5 315.8 L343.5 316.1 L344.5 316.4 L345.5 316.7 L346.5 317 L347.5 317.3 L348.5 317.6 L349.5 317.9 L350.5 318.2 L351.5 318.5 L352.5 318.8 L353.5 319.1 L354.5 319.4 L355.5 319.7 L356.5 320 L357.5 320.3 L358.5 320.6 L359.5 320.9 L360.5 321.2 L361.5 321.5 L362.5 321.7 L363.5 322 L364.5 322.3 L365.5 322.6 L366.5 322.9 L367.5 323.1 L368.5 323.4 L369.5 323.7 L370.5 324 L371.5 324.2 L372.5 324.5 L373.5 324.8 L374.5 325 L375.5 325.3 L376.5 325.5 L377.5 325.8 L378.5 326 L379.5 326.3 L380.5 326.5 L381.5 326.8 L382.5 327 L383.5 327.2 L384.5 327.5 L385.5 327.7 L386.5 327.9 L387.5 328.2 L388.5 328.4 L389.5 328.6 L390.5 328.8 L391.5 329.1 L392.5 329.3 L393.5 329.5 L394.5 329.7 L395.5 329.9 L396.5 330.1 L397.5 330.3 L398.5 330.5 L399.5 330.7 L400.5 330.9 L401.5 331.1 L402.5 331.3 L403.5 331.5 L404.5 331.7 L405.5 331.9 L406.5 332.1 L407.5 332.3 L408.5 332.4 L409.5 332.6 L410.5 332.8 L411.5 333 L412.5 333.2 L413.5 333.3 L414.5 333.5 L415.5 333.7 L416.5 333.8 L417.5 334 L418.5 334.2 L419.5 334.3 L420.5 334.5 L421.5 334.7 L422.5 334.8 L423.5 335 L424.5 335.1 L425.5 335.3 L426.5 335.5 L427.5 335.6 L428.5 335.8 L429.5 335.9 L430.5 336.1 L431.5 336.2 L432.5 336.3 L433.5 336.5 L434.5 336.6 L435.5 336.8 L436.5 336.9 L437.5 337.1 L438.5 337.2 L439.5 337.3 L440.5 337.5 L441.5 337.6 L442.5 337.7 L443.5 337.9 L444.5 338 L445.5 338.1 L446.5 338.3 L447.5 338.4 L448.5 338.5 L449.5 338.7 L450.5 338.8 L451.5 338.9 L452.5 339 L453.5 339.2 L454.5 339.3 L455.5 339.4 L456.5 339.5 L457.5 339.6 L458.5 339.8 L459.5 339.9 L460.5 340 L461.5 340.1 L462.5 340.2 L463.5 340.4 L464.5 340.5 L465.5 340.6 L466.5 340.7 L467.5 340.8 L468.5 340.9 L469.2 341" fill="none" stroke="#000" stroke-width="1.0" stroke-linejoin="round" />
<path d="M314.5 308.5 L315.5 308.6 L316.5 308.8 L317.5 308.9 L318.5 309 L319.5 309.2 L320.5 309.3 L321.5 309.4 L322.5 309.5 L323.5 309.5 L324.5 309.6 L325.5 309.6 L326.5 309.6 L327.5 309.6 L328.5 309.6 L329.5 309.6 L330.5 309.5 L331.5 309.5 L332.5 309.5 L333.5 309.4 L334.5 309.4 L335.5 309.4 L336.5 309.3 L337.5 309.3 L338.5 309.3 L339.5 309.3 L340.5 309.3 L341.5 309.3 L342.5 309.3 L343.5 309.3 L344.5 309.4 L345.5 309.4 L346.5 309.4 L347.5 309.5 L348.5 309.5 L349.5 309.5 L350.5 309.6 L351.5 309.7 L352.5 309.7 L353.5 309.8 L354.5 309.9 L355.5 309.9 L356.5 310 L357.5 310.1 L358.5 310.2 L359.5 310.2 L360.5 310.3 L361.5 310.4 L362.5 310.5 L363.5 310.6 L364.5 310.6 L365.5 310.7 L366.5 310.8 L367.5 310.9 L368.5 311 L369.5 311.1 L370.5 311.2 L371.5 311.2 L372.5 311.3 L373.5 311.4 L374.5 311.5 L375.5 311.6 L376.5 311.7 L377.5 311.8 L378.5 311.9 L379.5 311.9 L380.5 312 L381.5 312.1 L382.5 312.2 L383.5 312.3 L384.5 312.4 L385.5 312.5 L386.5 312.5 L387.5 312.6 L388.5 312.7 L389.5 312.8 L390.5 312.9 L391.5 313 L392.5 313 L393.5 313.1 L394.5 313.2 L395.5 313.3 L396.5 313.4 L397.5 313.4 L398.5 313.5 L399.5 313.6 L400.5 313.7 L401.5 313.7 L402.5 313.8 L403.5 313.9 L404.5 314 L405.5 314 L406.5 314.1 L407.5 314.2 L408.5 314.3 L409.5 314.3 L410.5 314.4 L411.5 314.5 L412.5 314.6 L413.5 314.6 L414.5 314.7 L415.5 314.8 L416.5 314.8 L417.5 314.9 L418.5 315 L419.5 315 L420.5 315.1 L421.5 315.2 L422.5 315.2 L423.5 315.3 L424.5 315.4 L425.5 315.4 L426.5 315.5 L427.5 315.6 L428.5 315.6 L429.5 315.7 L430.5 315.8 L431.5 315.8 L432.5 315.9 L433.5 316 L434.5 316 L435.5 316.1 L436.5 316.1 L437.5 316.2 L438.5 316.3 L439.5 316.3 L440.5 316.4 L441.5 316.4 L442.5 316.5 L443.5 316.6 L444.5 316.6 L445.5 316.7 L446.5 316.7 L447.5 316.8 L448.5 316.8 L449.5 316.9 L450.5 317 L451.5 317 L452.5 317.1 L453.5 317.1 L454.5 317.2 L455.5 317.2 L456.5 317.3 L457.5 317.3 L458.5 317.4 L459.5 317.4 L460.5 317.5 L461.5 317.5 L462.5 317.6 L463.5 317.6 L464.5 317.7 L465.5 317.7 L466.5 317.8 L467.5 317.8 L468.5 317.9 L469.2 317.9" fill="none" stroke="#000" stroke-width="1.0" stroke-linejoin="round" />
<path d="M314.5 307 L315.5 307 L316.5 307 L317.5 307 L318.5 307 L319.5 307 L320.5 307 L321.5 307 L322.5 307 L323.5 307 L324.5 307 L325.5 307 L326.5 307 L327.5 307.1 L328.5 307.1 L329.5 307.1 L330.5 307.1 L331.5 307.1 L332.5 307.1 L333.5 307.1 L334.5 307.1 L335.5 307.1 L336.5 307.1 L337.5 307.1 L338.5 307.1 L339.5 307.1 L340.5 307.1 L341.5 307.1 L342.5 307.1 L343.5 307.1 L344.5 307.1 L345.5 307.1 L346.5 307.1 L347.5 307.1 L348.5 307.1 L349.5 307.1 L350.5 307.1 L351.5 307.1 L352.5 307.1 L353.5 307.2 L354.5 307.2 L355.5 307.2 L356.5 307.2 L357.5 307.2 L358.5 307.2 L359.5 307.2 L360.5 307.2 L361.5 307.2 L362.5 307.2 L363.5 307.2 L364.5 307.2 L365.5 307.2 L366.5 307.2 L367.5 307.2 L368.5 307.2 L369.5 307.2 L370.5 307.2 L371.5 307.2 L372.5 307.2 L373.5 307.2 L374.5 307.2 L375.5 307.2 L376.5 307.2 L377.5 307.2 L378.5 307.2 L379.5 307.3 L380.5 307.3 L381.5 307.3 L382.5 307.3 L383.5 307.3 L384.5 307.3 L385.5 307.3 L386.5 307.3 L387.5 307.3 L388.5 307.3 L389.5 307.3 L390.5 307.3 L391.5 307.3 L392.5 307.3 L393.5 307.3 L394.5 307.3 L395.5 307.3 L396.5 307.3 L397.5 307.3 L398.5 307.3 L399.5 307.3 L400.5 307.3 L401.5 307.3 L402.5 307.3 L403.5 307.3 L404.5 307.3 L405.5 307.4 L406.5 307.4 L407.5 307.4 L408.5 307.4 L409.5 307.4 L410.5 307.4 L411.5 307.4 L412.5 307.4 L413.5 307.4 L414.5 307.4 L415.5 307.4 L416.5 307.4 L417.5 307.4 L418.5 307.4 L419.5 307.4 L420.5 307.4 L421.5 307.4 L422.5 307.4 L423.5 307.4 L424.5 307.4 L425.5 307.4 L426.5 307.4 L427.5 307.4 L428.5 307.4 L429.5 307.4 L430.5 307.4 L431.5 307.5 L432.5 307.5 L433.5 307.5 L434.5 307.5 L435.5 307.5 L436.5 307.5 L437.5 307.5 L438.5 307.5 L439.5 307.5 L440.5 307.5 L441.5 307.5 L442.5 307.5 L443.5 307.5 L444.5 307.5 L445.5 307.5 L446.5 307.5 L447.5 307.5 L448.5 307.5 L449.5 307.5 L450.5 307.5 L451.5 307.5 L452.5 307.5 L453.5 307.5 L454.5 307.5 L455.5 307.5 L456.5 307.6 L457.5 307.6 L458.5 307.6 L459.5 307.6 L460.5 307.6 L461.5 307.6 L462.5 307.6 L463.5 307.6 L464.5 307.6 L465.5 307.6 L466.5 307.6 L467.5 307.6 L468.5 307.6 L469.2 307.6" fill="none" stroke="#000" stroke-width="1.0" stroke-linejoin="round" />
<path d="M469.2 318.5 L470.2 318.6 L471.2 318.6 L472.2 318.5 L473.2 318.4 L474.2 318.3 L475.2 318.1 L476.2 317.9 L477.2 317.7 L478.2 317.4 L479.2 317.2 L480.2 316.9 L481.2 316.6 L482.2 316.3 L483.2 316 L484.2 315.7 L485.2 315.4 L486.2 315.1 L487.2 314.8 L488.2 314.6 L489.2 314.3 L490.2 314 L491.2 313.7 L492.2 313.5 L493.2 313.2 L494.2 313 L495.2 312.8 L496.2 312.5 L497.2 312.3 L498.2 312.1 L499.2 311.9 L500.2 311.7 L501.2 311.6 L502.2 311.4 L503.2 311.2 L504.2 311.1 L505.2 310.9 L506.2 310.8 L507.2 310.6 L508.2 310.5 L509.2 310.4 L510.2 310.3 L511.2 310.1 L512.2 310 L513.2 309.9 L514.2 309.8 L515.2 309.8 L516.2 309.7 L517.2 309.6 L518.2 309.5 L519.2 309.4 L520.2 309.4 L521 309.3" fill="none" stroke="#000" stroke-width="1.5" stroke-linejoin="round" />
<path d="M469.2 318 L470.2 318.1 L471.2 318.1 L472.2 318 L473.2 318 L474.2 317.9 L475.2 317.7 L476.2 317.6 L477.2 317.4 L478.2 317.2 L479.2 317 L480.2 316.7 L481.2 316.5 L482.2 316.2 L483.2 315.9 L484.2 315.7 L485.2 315.4 L486.2 315.1 L487.2 314.9 L488.2 314.6 L489.2 314.3 L490.2 314.1 L491.2 313.8 L492.2 313.5 L493.2 313.3 L494.2 313.1 L495.2 312.8 L496.2 312.6 L497.2 312.4 L498.2 312.2 L499.2 312 L500.2 311.8 L501.2 311.6 L502.2 311.4 L503.2 311.2 L504.2 311 L505.2 310.9 L506.2 310.7 L507.2 310.6 L508.2 310.4 L509.2 310.3 L510.2 310.1 L511.2 310 L512.2 309.9 L513.2 309.8 L514.2 309.7 L515.2 309.6 L516.2 309.5 L517.2 309.4 L518.2 309.3 L519.2 309.2 L520.2 309.1 L521 309" fill="none" stroke="#000" stroke-width="1.0" stroke-linejoin="round" />
<path d="M469.2 314.3 L470.2 314.3 L471.2 314.3 L472.2 314.3 L473.2 314.3 L474.2 314.2 L475.2 314.2 L476.2 314.2 L477.2 314.2 L478.2 314.1 L479.2 314.1 L480.2 314 L481.2 314 L482.2 313.9 L483.2 313.9 L484.2 313.8 L485.2 313.8 L486.2 313.7 L487.2 313.6 L488.2 313.4 L489.2 313.3 L490.2 313.1 L491.2 312.9 L492.2 312.6 L493.2 312.4 L494.2 312.2 L495.2 311.9 L496.2 311.7 L497.2 311.5 L498.2 311.3 L499.2 311.1 L500.2 311 L501.2 310.8 L502.2 310.7 L503.2 310.5 L504.2 310.4 L505.2 310.3 L506.2 310.1 L507.2 310 L508.2 309.9 L509.2 309.7 L510.2 309.6 L511.2 309.5 L512.2 309.4 L513.2 309.3 L514.2 309.1 L515.2 309 L516.2 308.9 L517.2 308.8 L518.2 308.7 L519.2 308.7 L520.2 308.6 L521 308.5" fill="none" stroke="#000" stroke-width="1.0" stroke-linejoin="round" />
<path d="M469.2 309.5 L470.2 309.5 L471.2 309.5 L472.2 309.4 L473.2 309.4 L474.2 309.4 L475.2 309.4 L476.2 309.4 L477.2 309.3 L478.2 309.3 L479.2 309.3 L480.2 309.3 L481.2 309.2 L482.2 309.2 L483.2 309.2 L484.2 309.2 L485.2 309.1 L486.2 309.1 L487.2 309.1 L488.2 309.1 L489.2 309 L490.2 309 L491.2 309 L492.2 308.9 L493.2 308.9 L494.2 308.9 L495.2 308.8 L496.2 308.8 L497.2 308.8 L498.2 308.7 L499.2 308.7 L500.2 308.7 L501.2 308.6 L502.2 308.6 L503.2 308.6 L504.2 308.5 L505.2 308.5 L506.2 308.4 L507.2 308.4 L508.2 308.4 L509.2 308.3 L510.2 308.3 L511.2 308.2 L512.2 308.2 L513.2 308.2 L514.2 308.1 L515.2 308.1 L516.2 308 L517.2 308 L518.2 307.9 L519.2 307.9 L520.2 307.8 L521 307.8" fill="none" stroke="#000" stroke-width="1.0" stroke-linejoin="round" />
<line x1="469.2" y1="306.1" x2="469.2" y2="426.2" stroke="#222" stroke-width="1.0" />
<path d="M459 345.2 L467 361 L451 361 Z" fill="#000"/>
<path d="M293.8 408.3 L293.8 426 L310.6 426" fill="none" stroke="#000" stroke-width="1.2"/>
<text x="95" y="66.2" font-size="27" text-anchor="start" font-weight="normal" fill="#000" >ctrl</text>
<circle cx="194.6" cy="55.6" r="7.5" fill="#000" stroke="none" stroke-width="0"/>
<text x="368" y="66.3" font-size="27" text-anchor="start" font-weight="normal" fill="#000" >NB5</text>
<circle cx="473.5" cy="55.7" r="7.5" fill="#0a0aff" stroke="none" stroke-width="0"/>
<text x="77.5" y="280.8" font-size="27" text-anchor="start" font-weight="normal" fill="#000" >cAMP</text>
<circle cx="194.6" cy="270.3" r="7.5" fill="#c0287f" stroke="none" stroke-width="0"/>
<text x="394" y="263.8" font-size="27" text-anchor="middle" font-weight="normal" fill="#000" >NB5</text>
<text x="394" y="296.4" font-size="27" text-anchor="middle" font-weight="normal" fill="#000" >+cAMP</text>
<circle cx="473.6" cy="270" r="7.5" fill="#14dc14" stroke="none" stroke-width="0"/>
<line x1="661.5" y1="109.5" x2="661.5" y2="379.2" stroke="#000" stroke-width="1.6" />
<line x1="660.7" y1="379.2" x2="998" y2="379.2" stroke="#000" stroke-width="1.6" />
<line x1="655.5" y1="118.2" x2="661.5" y2="118.2" stroke="#000" stroke-width="1.5" />
<text x="650.5" y="125.8" font-size="27" text-anchor="end" font-weight="normal" fill="#000" >1.0</text>
<line x1="655.5" y1="245.3" x2="661.5" y2="245.3" stroke="#000" stroke-width="1.5" />
<text x="650.5" y="252.9" font-size="27" text-anchor="end" font-weight="normal" fill="#000" >0.5</text>
<line x1="655.5" y1="372.4" x2="661.5" y2="372.4" stroke="#000" stroke-width="1.5" />
<text x="650.5" y="380" font-size="27" text-anchor="end" font-weight="normal" fill="#000" >0.0</text>
<line x1="667.4" y1="379.2" x2="667.4" y2="385.6" stroke="#000" stroke-width="1.5" />
<text x="666.9" y="410.2" font-size="27" text-anchor="middle" font-weight="normal" fill="#000" >-150</text>
<line x1="816.9" y1="379.2" x2="816.9" y2="385.6" stroke="#000" stroke-width="1.5" />
<text x="816.4" y="410.2" font-size="27" text-anchor="middle" font-weight="normal" fill="#000" >-100</text>
<line x1="966.4" y1="379.2" x2="966.4" y2="385.6" stroke="#000" stroke-width="1.5" />
<text x="965.9" y="410.2" font-size="27" text-anchor="middle" font-weight="normal" fill="#000" >-50</text>
<text x="828.5" y="434.3" font-size="27" text-anchor="middle" font-weight="normal" fill="#000" >V(mV)</text>
<text transform="translate(593.8,245) rotate(-90)" font-size="27" text-anchor="middle" fill="#000">G/G<tspan dy="14" font-size="27">max</tspan></text>
<line x1="667.4" y1="120" x2="667.4" y2="128" stroke="#00d800" stroke-width="2.5" />
<line x1="661.4" y1="120" x2="673.4" y2="120" stroke="#00d800" stroke-width="2.5" />
<line x1="661.4" y1="128" x2="673.4" y2="128" stroke="#00d800" stroke-width="2.5" />
<circle cx="667.4" cy="124" r="6.6" fill="#00d800" stroke="none" stroke-width="0"/>
<line x1="712.2" y1="121.1" x2="712.2" y2="129.1" stroke="#00d800" stroke-width="2.5" />
<line x1="706.2" y1="121.1" x2="718.2" y2="121.1" stroke="#00d800" stroke-width="2.5" />
<line x1="706.2" y1="129.1" x2="718.2" y2="129.1" stroke="#00d800" stroke-width="2.5" />
<circle cx="712.2" cy="125.1" r="6.6" fill="#00d800" stroke="none" stroke-width="0"/>
<line x1="757.1" y1="116" x2="757.1" y2="124" stroke="#00d800" stroke-width="2.5" />
<line x1="751.1" y1="116" x2="763.1" y2="116" stroke="#00d800" stroke-width="2.5" />
<line x1="751.1" y1="124" x2="763.1" y2="124" stroke="#00d800" stroke-width="2.5" />
<circle cx="757.1" cy="120" r="6.6" fill="#00d800" stroke="none" stroke-width="0"/>
<line x1="802" y1="126.4" x2="802" y2="136.4" stroke="#00d800" stroke-width="2.5" />
<line x1="796" y1="126.4" x2="808" y2="126.4" stroke="#00d800" stroke-width="2.5" />
<line x1="796" y1="136.4" x2="808" y2="136.4" stroke="#00d800" stroke-width="2.5" />
<circle cx="802" cy="131.4" r="6.6" fill="#00d800" stroke="none" stroke-width="0"/>
<line x1="846.8" y1="168.2" x2="846.8" y2="188.2" stroke="#00d800" stroke-width="2.5" />
<line x1="840.8" y1="168.2" x2="852.8" y2="168.2" stroke="#00d800" stroke-width="2.5" />
<line x1="840.8" y1="188.2" x2="852.8" y2="188.2" stroke="#00d800" stroke-width="2.5" />
<circle cx="846.8" cy="178.2" r="6.6" fill="#00d800" stroke="none" stroke-width="0"/>
<line x1="891.6" y1="241.2" x2="891.6" y2="263.2" stroke="#00d800" stroke-width="2.5" />
<line x1="885.6" y1="241.2" x2="897.6" y2="241.2" stroke="#00d800" stroke-width="2.5" />
<line x1="885.6" y1="263.2" x2="897.6" y2="263.2" stroke="#00d800" stroke-width="2.5" />
<circle cx="891.6" cy="252.2" r="6.6" fill="#00d800" stroke="none" stroke-width="0"/>
<line x1="936.5" y1="320.9" x2="936.5" y2="336.9" stroke="#00d800" stroke-width="2.5" />
<line x1="930.5" y1="320.9" x2="942.5" y2="320.9" stroke="#00d800" stroke-width="2.5" />
<line x1="930.5" y1="336.9" x2="942.5" y2="336.9" stroke="#00d800" stroke-width="2.5" />
<circle cx="936.5" cy="328.9" r="6.6" fill="#00d800" stroke="none" stroke-width="0"/>
<line x1="981.4" y1="360.8" x2="981.4" y2="368.8" stroke="#00d800" stroke-width="2.5" />
<line x1="975.4" y1="360.8" x2="987.4" y2="360.8" stroke="#00d800" stroke-width="2.5" />
<line x1="975.4" y1="368.8" x2="987.4" y2="368.8" stroke="#00d800" stroke-width="2.5" />
<circle cx="981.4" cy="364.8" r="6.6" fill="#00d800" stroke="none" stroke-width="0"/>
<line x1="667.4" y1="117.7" x2="667.4" y2="123.7" stroke="#b5247a" stroke-width="2.5" />
<line x1="661.4" y1="117.7" x2="673.4" y2="117.7" stroke="#b5247a" stroke-width="2.5" />
<line x1="661.4" y1="123.7" x2="673.4" y2="123.7" stroke="#b5247a" stroke-width="2.5" />
<circle cx="667.4" cy="120.7" r="6.6" fill="#b5247a" stroke="none" stroke-width="0"/>
<line x1="712.2" y1="112.1" x2="712.2" y2="118.1" stroke="#b5247a" stroke-width="2.5" />
<line x1="706.2" y1="112.1" x2="718.2" y2="112.1" stroke="#b5247a" stroke-width="2.5" />
<line x1="706.2" y1="118.1" x2="718.2" y2="118.1" stroke="#b5247a" stroke-width="2.5" />
<circle cx="712.2" cy="115.1" r="6.6" fill="#b5247a" stroke="none" stroke-width="0"/>
<line x1="757.1" y1="127.7" x2="757.1" y2="133.7" stroke="#b5247a" stroke-width="2.5" />
<line x1="751.1" y1="127.7" x2="763.1" y2="127.7" stroke="#b5247a" stroke-width="2.5" />
<line x1="751.1" y1="133.7" x2="763.1" y2="133.7" stroke="#b5247a" stroke-width="2.5" />
<circle cx="757.1" cy="130.7" r="6.6" fill="#b5247a" stroke="none" stroke-width="0"/>
<line x1="802" y1="158.2" x2="802" y2="168.2" stroke="#b5247a" stroke-width="2.5" />
<line x1="796" y1="158.2" x2="808" y2="158.2" stroke="#b5247a" stroke-width="2.5" />
<line x1="796" y1="168.2" x2="808" y2="168.2" stroke="#b5247a" stroke-width="2.5" />
<circle cx="802" cy="163.2" r="6.6" fill="#b5247a" stroke="none" stroke-width="0"/>
<line x1="846.8" y1="218.8" x2="846.8" y2="238.8" stroke="#b5247a" stroke-width="2.5" />
<line x1="840.8" y1="218.8" x2="852.8" y2="218.8" stroke="#b5247a" stroke-width="2.5" />
<line x1="840.8" y1="238.8" x2="852.8" y2="238.8" stroke="#b5247a" stroke-width="2.5" />
<circle cx="846.8" cy="228.8" r="6.6" fill="#b5247a" stroke="none" stroke-width="0"/>
<line x1="891.6" y1="291.5" x2="891.6" y2="311.5" stroke="#b5247a" stroke-width="2.5" />
<line x1="885.6" y1="291.5" x2="897.6" y2="291.5" stroke="#b5247a" stroke-width="2.5" />
<line x1="885.6" y1="311.5" x2="897.6" y2="311.5" stroke="#b5247a" stroke-width="2.5" />
<circle cx="891.6" cy="301.5" r="6.6" fill="#b5247a" stroke="none" stroke-width="0"/>
<line x1="936.5" y1="341.8" x2="936.5" y2="357.8" stroke="#b5247a" stroke-width="2.5" />
<line x1="930.5" y1="341.8" x2="942.5" y2="341.8" stroke="#b5247a" stroke-width="2.5" />
<line x1="930.5" y1="357.8" x2="942.5" y2="357.8" stroke="#b5247a" stroke-width="2.5" />
<circle cx="936.5" cy="349.8" r="6.6" fill="#b5247a" stroke="none" stroke-width="0"/>
<line x1="981.4" y1="360.8" x2="981.4" y2="368.8" stroke="#b5247a" stroke-width="2.5" />
<line x1="975.4" y1="360.8" x2="987.4" y2="360.8" stroke="#b5247a" stroke-width="2.5" />
<line x1="975.4" y1="368.8" x2="987.4" y2="368.8" stroke="#b5247a" stroke-width="2.5" />
<circle cx="981.4" cy="364.8" r="6.6" fill="#b5247a" stroke="none" stroke-width="0"/>
<line x1="667.4" y1="117.5" x2="667.4" y2="121.5" stroke="#000000" stroke-width="2.5" />
<line x1="661.4" y1="117.5" x2="673.4" y2="117.5" stroke="#000000" stroke-width="2.5" />
<line x1="661.4" y1="121.5" x2="673.4" y2="121.5" stroke="#000000" stroke-width="2.5" />
<circle cx="667.4" cy="119.5" r="6.6" fill="#000000" stroke="none" stroke-width="0"/>
<line x1="712.2" y1="118.7" x2="712.2" y2="122.7" stroke="#000000" stroke-width="2.5" />
<line x1="706.2" y1="118.7" x2="718.2" y2="118.7" stroke="#000000" stroke-width="2.5" />
<line x1="706.2" y1="122.7" x2="718.2" y2="122.7" stroke="#000000" stroke-width="2.5" />
<circle cx="712.2" cy="120.7" r="6.6" fill="#000000" stroke="none" stroke-width="0"/>
<line x1="757.1" y1="154.4" x2="757.1" y2="162.4" stroke="#000000" stroke-width="2.5" />
<line x1="751.1" y1="154.4" x2="763.1" y2="154.4" stroke="#000000" stroke-width="2.5" />
<line x1="751.1" y1="162.4" x2="763.1" y2="162.4" stroke="#000000" stroke-width="2.5" />
<circle cx="757.1" cy="158.4" r="6.6" fill="#000000" stroke="none" stroke-width="0"/>
<line x1="802" y1="237.4" x2="802" y2="250.2" stroke="#000000" stroke-width="2.5" />
<line x1="796" y1="237.4" x2="808" y2="237.4" stroke="#000000" stroke-width="2.5" />
<line x1="796" y1="250.2" x2="808" y2="250.2" stroke="#000000" stroke-width="2.5" />
<circle cx="802" cy="243.8" r="6.6" fill="#000000" stroke="none" stroke-width="0"/>
<line x1="846.8" y1="319.8" x2="846.8" y2="327.8" stroke="#000000" stroke-width="2.5" />
<line x1="840.8" y1="319.8" x2="852.8" y2="319.8" stroke="#000000" stroke-width="2.5" />
<line x1="840.8" y1="327.8" x2="852.8" y2="327.8" stroke="#000000" stroke-width="2.5" />
<circle cx="846.8" cy="323.8" r="6.6" fill="#000000" stroke="none" stroke-width="0"/>
<line x1="891.6" y1="358.7" x2="891.6" y2="364.7" stroke="#000000" stroke-width="2.5" />
<line x1="885.6" y1="358.7" x2="897.6" y2="358.7" stroke="#000000" stroke-width="2.5" />
<line x1="885.6" y1="364.7" x2="897.6" y2="364.7" stroke="#000000" stroke-width="2.5" />
<circle cx="891.6" cy="361.7" r="6.6" fill="#000000" stroke="none" stroke-width="0"/>
<line x1="936.5" y1="367.3" x2="936.5" y2="371.3" stroke="#000000" stroke-width="2.5" />
<line x1="930.5" y1="367.3" x2="942.5" y2="367.3" stroke="#000000" stroke-width="2.5" />
<line x1="930.5" y1="371.3" x2="942.5" y2="371.3" stroke="#000000" stroke-width="2.5" />
<circle cx="936.5" cy="369.3" r="6.6" fill="#000000" stroke="none" stroke-width="0"/>
<line x1="981.4" y1="369.4" x2="981.4" y2="373.4" stroke="#000000" stroke-width="2.5" />
<line x1="975.4" y1="369.4" x2="987.4" y2="369.4" stroke="#000000" stroke-width="2.5" />
<line x1="975.4" y1="373.4" x2="987.4" y2="373.4" stroke="#000000" stroke-width="2.5" />
<circle cx="981.4" cy="371.4" r="6.6" fill="#000000" stroke="none" stroke-width="0"/>
<line x1="667.4" y1="115.2" x2="667.4" y2="121.2" stroke="#2a45ff" stroke-width="2.5" />
<line x1="661.4" y1="115.2" x2="673.4" y2="115.2" stroke="#2a45ff" stroke-width="2.5" />
<line x1="661.4" y1="121.2" x2="673.4" y2="121.2" stroke="#2a45ff" stroke-width="2.5" />
<circle cx="667.4" cy="118.2" r="6.6" fill="#2a45ff" stroke="none" stroke-width="0"/>
<line x1="712.2" y1="117.7" x2="712.2" y2="123.7" stroke="#2a45ff" stroke-width="2.5" />
<line x1="706.2" y1="117.7" x2="718.2" y2="117.7" stroke="#2a45ff" stroke-width="2.5" />
<line x1="706.2" y1="123.7" x2="718.2" y2="123.7" stroke="#2a45ff" stroke-width="2.5" />
<circle cx="712.2" cy="120.7" r="6.6" fill="#2a45ff" stroke="none" stroke-width="0"/>
<line x1="757.1" y1="140.9" x2="757.1" y2="150.9" stroke="#2a45ff" stroke-width="2.5" />
<line x1="751.1" y1="140.9" x2="763.1" y2="140.9" stroke="#2a45ff" stroke-width="2.5" />
<line x1="751.1" y1="150.9" x2="763.1" y2="150.9" stroke="#2a45ff" stroke-width="2.5" />
<circle cx="757.1" cy="145.9" r="6.6" fill="#2a45ff" stroke="none" stroke-width="0"/>
<line x1="802" y1="184.5" x2="802" y2="203.5" stroke="#2a45ff" stroke-width="2.5" />
<line x1="796" y1="184.5" x2="808" y2="184.5" stroke="#2a45ff" stroke-width="2.5" />
<line x1="796" y1="203.5" x2="808" y2="203.5" stroke="#2a45ff" stroke-width="2.5" />
<circle cx="802" cy="194" r="6.6" fill="#2a45ff" stroke="none" stroke-width="0"/>
<line x1="846.8" y1="270.9" x2="846.8" y2="288.3" stroke="#2a45ff" stroke-width="2.5" />
<line x1="840.8" y1="270.9" x2="852.8" y2="270.9" stroke="#2a45ff" stroke-width="2.5" />
<line x1="840.8" y1="288.3" x2="852.8" y2="288.3" stroke="#2a45ff" stroke-width="2.5" />
<circle cx="846.8" cy="279.6" r="6.6" fill="#2a45ff" stroke="none" stroke-width="0"/>
<line x1="891.6" y1="336.4" x2="891.6" y2="346.4" stroke="#2a45ff" stroke-width="2.5" />
<line x1="885.6" y1="336.4" x2="897.6" y2="336.4" stroke="#2a45ff" stroke-width="2.5" />
<line x1="885.6" y1="346.4" x2="897.6" y2="346.4" stroke="#2a45ff" stroke-width="2.5" />
<circle cx="891.6" cy="341.4" r="6.6" fill="#2a45ff" stroke="none" stroke-width="0"/>
<line x1="936.5" y1="366.9" x2="936.5" y2="372.9" stroke="#2a45ff" stroke-width="2.5" />
<line x1="930.5" y1="366.9" x2="942.5" y2="366.9" stroke="#2a45ff" stroke-width="2.5" />
<line x1="930.5" y1="372.9" x2="942.5" y2="372.9" stroke="#2a45ff" stroke-width="2.5" />
<circle cx="936.5" cy="369.9" r="6.6" fill="#2a45ff" stroke="none" stroke-width="0"/>
<line x1="981.4" y1="370.4" x2="981.4" y2="374.4" stroke="#2a45ff" stroke-width="2.5" />
<line x1="975.4" y1="370.4" x2="987.4" y2="370.4" stroke="#2a45ff" stroke-width="2.5" />
<line x1="975.4" y1="374.4" x2="987.4" y2="374.4" stroke="#2a45ff" stroke-width="2.5" />
<circle cx="981.4" cy="372.4" r="6.6" fill="#2a45ff" stroke="none" stroke-width="0"/>
<path d="M667.4 120.3 L668.9 120.4 L670.4 120.5 L671.9 120.7 L673.4 120.8 L674.9 120.9 L676.4 121.1 L677.9 121.2 L679.4 121.4 L680.9 121.6 L682.4 121.7 L683.8 121.9 L685.3 122.1 L686.8 122.3 L688.3 122.5 L689.8 122.8 L691.3 123 L692.8 123.3 L694.3 123.5 L695.8 123.8 L697.3 124.1 L698.8 124.4 L700.3 124.7 L701.8 125.1 L703.3 125.4 L704.8 125.8 L706.3 126.2 L707.8 126.6 L709.3 127 L710.8 127.5 L712.2 128 L713.7 128.5 L715.2 129 L716.7 129.6 L718.2 130.1 L719.7 130.7 L721.2 131.4 L722.7 132 L724.2 132.7 L725.7 133.5 L727.2 134.2 L728.7 135 L730.2 135.9 L731.7 136.8 L733.2 137.7 L734.7 138.6 L736.2 139.6 L737.7 140.7 L739.2 141.8 L740.7 142.9 L742.1 144.1 L743.6 145.3 L745.1 146.6 L746.6 147.9 L748.1 149.3 L749.6 150.8 L751.1 152.3 L752.6 153.9 L754.1 155.5 L755.6 157.2 L757.1 158.9 L758.6 160.8 L760.1 162.6 L761.6 164.6 L763.1 166.6 L764.6 168.7 L766.1 170.8 L767.6 173 L769.1 175.3 L770.6 177.6 L772 180 L773.5 182.5 L775 185 L776.5 187.6 L778 190.3 L779.5 193 L781 195.8 L782.5 198.6 L784 201.5 L785.5 204.4 L787 207.4 L788.5 210.5 L790 213.5 L791.5 216.7 L793 219.8 L794.5 223 L796 226.2 L797.5 229.5 L799 232.8 L800.5 236 L802 239.3 L803.4 242.7 L804.9 246 L806.4 249.3 L807.9 252.6 L809.4 255.9 L810.9 259.1 L812.4 262.4 L813.9 265.6 L815.4 268.9 L816.9 272 L818.4 275.2 L819.9 278.3 L821.4 281.4 L822.9 284.4 L824.4 287.3 L825.9 290.3 L827.4 293.1 L828.9 296 L830.4 298.7 L831.9 301.4 L833.3 304 L834.8 306.6 L836.3 309.1 L837.8 311.6 L839.3 313.9 L840.8 316.2 L842.3 318.5 L843.8 320.7 L845.3 322.8 L846.8 324.8 L848.3 326.8 L849.8 328.7 L851.3 330.6 L852.8 332.4 L854.3 334.1 L855.8 335.8 L857.3 337.4 L858.8 338.9 L860.3 340.4 L861.8 341.8 L863.2 343.2 L864.7 344.5 L866.2 345.8 L867.7 347 L869.2 348.2 L870.7 349.3 L872.2 350.4 L873.7 351.4 L875.2 352.4 L876.7 353.3 L878.2 354.2 L879.7 355.1 L881.2 355.9 L882.7 356.7 L884.2 357.4 L885.7 358.1 L887.2 358.8 L888.7 359.5 L890.2 360.1 L891.6 360.7 L893.1 361.3 L894.6 361.8 L896.1 362.3 L897.6 362.8 L899.1 363.3 L900.6 363.7 L902.1 364.2 L903.6 364.6 L905.1 364.9 L906.6 365.3 L908.1 365.7 L909.6 366 L911.1 366.3 L912.6 366.6 L914.1 366.9 L915.6 367.2 L917.1 367.4 L918.6 367.7 L920.1 367.9 L921.5 368.1 L923 368.4 L924.5 368.6 L926 368.8 L927.5 368.9 L929 369.1 L930.5 369.3 L932 369.4 L933.5 369.6 L935 369.7 L936.5 369.9 L938 370 L939.5 370.1 L941 370.2 L942.5 370.3 L944 370.4 L945.5 370.5 L947 370.6 L948.5 370.7 L950 370.8 L951.5 370.9 L952.9 371 L954.4 371 L955.9 371.1 L957.4 371.2 L958.9 371.2 L960.4 371.3 L961.9 371.3 L963.4 371.4 L964.9 371.4 L966.4 371.5 L967.9 371.5 L969.4 371.6 L970.9 371.6 L972.4 371.7 L973.9 371.7 L975.4 371.7 L976.9 371.8 L978.4 371.8 L979.9 371.8 L981.4 371.9 L982.8 371.9 L984.3 371.9 L985.8 371.9 L987.3 372 L988.8 372 L990.3 372 L991.8 372 L993.3 372 L994.8 372.1 L996.3 372.1 L997.8 372.1" fill="none" stroke="#000000" stroke-width="3.6" stroke-linejoin="round"/>
<path d="M667.4 119.6 L668.9 119.7 L670.4 119.8 L671.9 119.9 L673.4 119.9 L674.9 120 L676.4 120.1 L677.9 120.2 L679.4 120.3 L680.9 120.4 L682.4 120.5 L683.8 120.6 L685.3 120.7 L686.8 120.9 L688.3 121 L689.8 121.1 L691.3 121.3 L692.8 121.4 L694.3 121.6 L695.8 121.7 L697.3 121.9 L698.8 122.1 L700.3 122.2 L701.8 122.4 L703.3 122.6 L704.8 122.9 L706.3 123.1 L707.8 123.3 L709.3 123.6 L710.8 123.8 L712.2 124.1 L713.7 124.4 L715.2 124.7 L716.7 125 L718.2 125.3 L719.7 125.6 L721.2 126 L722.7 126.3 L724.2 126.7 L725.7 127.1 L727.2 127.5 L728.7 128 L730.2 128.4 L731.7 128.9 L733.2 129.4 L734.7 129.9 L736.2 130.5 L737.7 131 L739.2 131.6 L740.7 132.3 L742.1 132.9 L743.6 133.6 L745.1 134.3 L746.6 135 L748.1 135.8 L749.6 136.6 L751.1 137.4 L752.6 138.3 L754.1 139.2 L755.6 140.1 L757.1 141.1 L758.6 142.1 L760.1 143.1 L761.6 144.2 L763.1 145.3 L764.6 146.5 L766.1 147.7 L767.6 149 L769.1 150.3 L770.6 151.7 L772 153.1 L773.5 154.6 L775 156.1 L776.5 157.6 L778 159.2 L779.5 160.9 L781 162.6 L782.5 164.4 L784 166.2 L785.5 168.1 L787 170 L788.5 172 L790 174.1 L791.5 176.2 L793 178.3 L794.5 180.6 L796 182.8 L797.5 185.1 L799 187.5 L800.5 189.9 L802 192.4 L803.4 195 L804.9 197.5 L806.4 200.1 L807.9 202.8 L809.4 205.5 L810.9 208.3 L812.4 211.1 L813.9 213.9 L815.4 216.7 L816.9 219.6 L818.4 222.5 L819.9 225.5 L821.4 228.5 L822.9 231.4 L824.4 234.4 L825.9 237.4 L827.4 240.5 L828.9 243.5 L830.4 246.5 L831.9 249.5 L833.3 252.6 L834.8 255.6 L836.3 258.6 L837.8 261.6 L839.3 264.5 L840.8 267.5 L842.3 270.4 L843.8 273.3 L845.3 276.1 L846.8 279 L848.3 281.8 L849.8 284.5 L851.3 287.2 L852.8 289.9 L854.3 292.6 L855.8 295.1 L857.3 297.7 L858.8 300.2 L860.3 302.6 L861.8 305 L863.2 307.3 L864.7 309.6 L866.2 311.8 L867.7 314 L869.2 316.1 L870.7 318.2 L872.2 320.2 L873.7 322.1 L875.2 324 L876.7 325.8 L878.2 327.6 L879.7 329.4 L881.2 331 L882.7 332.7 L884.2 334.2 L885.7 335.7 L887.2 337.2 L888.7 338.6 L890.2 340 L891.6 341.3 L893.1 342.6 L894.6 343.8 L896.1 345 L897.6 346.2 L899.1 347.3 L900.6 348.3 L902.1 349.3 L903.6 350.3 L905.1 351.3 L906.6 352.2 L908.1 353 L909.6 353.9 L911.1 354.7 L912.6 355.4 L914.1 356.2 L915.6 356.9 L917.1 357.6 L918.6 358.2 L920.1 358.8 L921.5 359.4 L923 360 L924.5 360.6 L926 361.1 L927.5 361.6 L929 362.1 L930.5 362.5 L932 363 L933.5 363.4 L935 363.8 L936.5 364.2 L938 364.6 L939.5 364.9 L941 365.3 L942.5 365.6 L944 365.9 L945.5 366.2 L947 366.5 L948.5 366.7 L950 367 L951.5 367.2 L952.9 367.5 L954.4 367.7 L955.9 367.9 L957.4 368.1 L958.9 368.3 L960.4 368.5 L961.9 368.7 L963.4 368.9 L964.9 369 L966.4 369.2 L967.9 369.3 L969.4 369.5 L970.9 369.6 L972.4 369.7 L973.9 369.8 L975.4 370 L976.9 370.1 L978.4 370.2 L979.9 370.3 L981.4 370.4 L982.8 370.5 L984.3 370.6 L985.8 370.6 L987.3 370.7 L988.8 370.8 L990.3 370.9 L991.8 371 L993.3 371 L994.8 371.1 L996.3 371.1 L997.8 371.2" fill="none" stroke="#0000ff" stroke-width="3.6" stroke-linejoin="round"/>
<path d="M667.4 120.8 L668.9 120.8 L670.4 120.9 L671.9 120.9 L673.4 121 L674.9 121.1 L676.4 121.1 L677.9 121.2 L679.4 121.3 L680.9 121.4 L682.4 121.4 L683.8 121.5 L685.3 121.6 L686.8 121.7 L688.3 121.8 L689.8 121.9 L691.3 122 L692.8 122.1 L694.3 122.2 L695.8 122.3 L697.3 122.4 L698.8 122.6 L700.3 122.7 L701.8 122.8 L703.3 123 L704.8 123.1 L706.3 123.3 L707.8 123.4 L709.3 123.6 L710.8 123.8 L712.2 123.9 L713.7 124.1 L715.2 124.3 L716.7 124.5 L718.2 124.7 L719.7 125 L721.2 125.2 L722.7 125.4 L724.2 125.7 L725.7 125.9 L727.2 126.2 L728.7 126.5 L730.2 126.8 L731.7 127.1 L733.2 127.4 L734.7 127.7 L736.2 128 L737.7 128.4 L739.2 128.8 L740.7 129.1 L742.1 129.5 L743.6 129.9 L745.1 130.4 L746.6 130.8 L748.1 131.3 L749.6 131.8 L751.1 132.3 L752.6 132.8 L754.1 133.3 L755.6 133.9 L757.1 134.4 L758.6 135 L760.1 135.6 L761.6 136.3 L763.1 137 L764.6 137.6 L766.1 138.4 L767.6 139.1 L769.1 139.9 L770.6 140.7 L772 141.5 L773.5 142.3 L775 143.2 L776.5 144.1 L778 145.1 L779.5 146.1 L781 147.1 L782.5 148.1 L784 149.2 L785.5 150.3 L787 151.4 L788.5 152.6 L790 153.8 L791.5 155.1 L793 156.4 L794.5 157.7 L796 159.1 L797.5 160.5 L799 162 L800.5 163.5 L802 165 L803.4 166.6 L804.9 168.2 L806.4 169.8 L807.9 171.5 L809.4 173.3 L810.9 175.1 L812.4 176.9 L813.9 178.8 L815.4 180.7 L816.9 182.6 L818.4 184.6 L819.9 186.7 L821.4 188.7 L822.9 190.9 L824.4 193 L825.9 195.2 L827.4 197.4 L828.9 199.7 L830.4 202 L831.9 204.3 L833.3 206.7 L834.8 209.1 L836.3 211.5 L837.8 214 L839.3 216.5 L840.8 219 L842.3 221.5 L843.8 224 L845.3 226.6 L846.8 229.2 L848.3 231.8 L849.8 234.4 L851.3 237 L852.8 239.6 L854.3 242.2 L855.8 244.9 L857.3 247.5 L858.8 250.1 L860.3 252.8 L861.8 255.4 L863.2 258 L864.7 260.6 L866.2 263.2 L867.7 265.8 L869.2 268.4 L870.7 270.9 L872.2 273.4 L873.7 275.9 L875.2 278.4 L876.7 280.8 L878.2 283.3 L879.7 285.6 L881.2 288 L882.7 290.3 L884.2 292.6 L885.7 294.9 L887.2 297.1 L888.7 299.3 L890.2 301.4 L891.6 303.5 L893.1 305.6 L894.6 307.6 L896.1 309.6 L897.6 311.6 L899.1 313.5 L900.6 315.3 L902.1 317.2 L903.6 318.9 L905.1 320.7 L906.6 322.4 L908.1 324 L909.6 325.6 L911.1 327.2 L912.6 328.7 L914.1 330.2 L915.6 331.7 L917.1 333.1 L918.6 334.4 L920.1 335.7 L921.5 337 L923 338.3 L924.5 339.5 L926 340.7 L927.5 341.8 L929 342.9 L930.5 344 L932 345 L933.5 346 L935 347 L936.5 347.9 L938 348.8 L939.5 349.7 L941 350.5 L942.5 351.4 L944 352.2 L945.5 352.9 L947 353.7 L948.5 354.4 L950 355 L951.5 355.7 L952.9 356.3 L954.4 357 L955.9 357.6 L957.4 358.1 L958.9 358.7 L960.4 359.2 L961.9 359.7 L963.4 360.2 L964.9 360.7 L966.4 361.1 L967.9 361.6 L969.4 362 L970.9 362.4 L972.4 362.8 L973.9 363.2 L975.4 363.5 L976.9 363.9 L978.4 364.2 L979.9 364.6 L981.4 364.9 L982.8 365.2 L984.3 365.5 L985.8 365.7 L987.3 366 L988.8 366.2 L990.3 366.5 L991.8 366.7 L993.3 367 L994.8 367.2 L996.3 367.4 L997.8 367.6" fill="none" stroke="#b5247a" stroke-width="3.6" stroke-linejoin="round"/>
<path d="M667.4 121.1 L668.9 121.1 L670.4 121.1 L671.9 121.1 L673.4 121.2 L674.9 121.2 L676.4 121.2 L677.9 121.2 L679.4 121.2 L680.9 121.3 L682.4 121.3 L683.8 121.3 L685.3 121.3 L686.8 121.4 L688.3 121.4 L689.8 121.4 L691.3 121.4 L692.8 121.5 L694.3 121.5 L695.8 121.5 L697.3 121.6 L698.8 121.6 L700.3 121.7 L701.8 121.7 L703.3 121.7 L704.8 121.8 L706.3 121.8 L707.8 121.9 L709.3 121.9 L710.8 122 L712.2 122 L713.7 122.1 L715.2 122.2 L716.7 122.2 L718.2 122.3 L719.7 122.4 L721.2 122.4 L722.7 122.5 L724.2 122.6 L725.7 122.7 L727.2 122.8 L728.7 122.9 L730.2 123 L731.7 123.1 L733.2 123.2 L734.7 123.3 L736.2 123.4 L737.7 123.5 L739.2 123.6 L740.7 123.8 L742.1 123.9 L743.6 124 L745.1 124.2 L746.6 124.3 L748.1 124.5 L749.6 124.7 L751.1 124.9 L752.6 125 L754.1 125.2 L755.6 125.4 L757.1 125.6 L758.6 125.9 L760.1 126.1 L761.6 126.3 L763.1 126.6 L764.6 126.8 L766.1 127.1 L767.6 127.4 L769.1 127.7 L770.6 128 L772 128.3 L773.5 128.6 L775 129 L776.5 129.4 L778 129.7 L779.5 130.1 L781 130.5 L782.5 131 L784 131.4 L785.5 131.9 L787 132.4 L788.5 132.9 L790 133.4 L791.5 134 L793 134.5 L794.5 135.1 L796 135.7 L797.5 136.4 L799 137 L800.5 137.7 L802 138.5 L803.4 139.2 L804.9 140 L806.4 140.8 L807.9 141.6 L809.4 142.5 L810.9 143.4 L812.4 144.4 L813.9 145.3 L815.4 146.3 L816.9 147.4 L818.4 148.5 L819.9 149.6 L821.4 150.7 L822.9 151.9 L824.4 153.2 L825.9 154.5 L827.4 155.8 L828.9 157.2 L830.4 158.6 L831.9 160 L833.3 161.5 L834.8 163.1 L836.3 164.7 L837.8 166.3 L839.3 168 L840.8 169.7 L842.3 171.5 L843.8 173.4 L845.3 175.2 L846.8 177.2 L848.3 179.2 L849.8 181.2 L851.3 183.3 L852.8 185.4 L854.3 187.5 L855.8 189.8 L857.3 192 L858.8 194.3 L860.3 196.7 L861.8 199.1 L863.2 201.5 L864.7 203.9 L866.2 206.5 L867.7 209 L869.2 211.6 L870.7 214.2 L872.2 216.8 L873.7 219.5 L875.2 222.2 L876.7 224.9 L878.2 227.6 L879.7 230.4 L881.2 233.1 L882.7 235.9 L884.2 238.7 L885.7 241.5 L887.2 244.3 L888.7 247.1 L890.2 249.9 L891.6 252.7 L893.1 255.5 L894.6 258.3 L896.1 261.1 L897.6 263.9 L899.1 266.6 L900.6 269.3 L902.1 272.1 L903.6 274.7 L905.1 277.4 L906.6 280 L908.1 282.6 L909.6 285.2 L911.1 287.7 L912.6 290.2 L914.1 292.6 L915.6 295.1 L917.1 297.4 L918.6 299.8 L920.1 302 L921.5 304.3 L923 306.5 L924.5 308.6 L926 310.7 L927.5 312.8 L929 314.8 L930.5 316.7 L932 318.7 L933.5 320.5 L935 322.3 L936.5 324.1 L938 325.8 L939.5 327.5 L941 329.1 L942.5 330.7 L944 332.2 L945.5 333.7 L947 335.1 L948.5 336.5 L950 337.9 L951.5 339.2 L952.9 340.5 L954.4 341.7 L955.9 342.9 L957.4 344 L958.9 345.1 L960.4 346.2 L961.9 347.2 L963.4 348.2 L964.9 349.2 L966.4 350.1 L967.9 351 L969.4 351.8 L970.9 352.7 L972.4 353.5 L973.9 354.2 L975.4 355 L976.9 355.7 L978.4 356.4 L979.9 357 L981.4 357.7 L982.8 358.3 L984.3 358.8 L985.8 359.4 L987.3 359.9 L988.8 360.5 L990.3 361 L991.8 361.4 L993.3 361.9 L994.8 362.3 L996.3 362.8 L997.8 363.2" fill="none" stroke="#00d800" stroke-width="3.6" stroke-linejoin="round"/>
<line x1="108" y1="626" x2="108" y2="896.3" stroke="#222" stroke-width="1.6" />
<line x1="107.2" y1="896.3" x2="311.6" y2="896.3" stroke="#222" stroke-width="1.6" />
<line x1="102" y1="660.6" x2="108" y2="660.6" stroke="#222" stroke-width="1.5" />
<text x="92.2" y="669.3" font-size="27" text-anchor="end" font-weight="normal" fill="#000" >ctrl</text>
<line x1="102" y1="728.2" x2="108" y2="728.2" stroke="#222" stroke-width="1.5" />
<text x="92.2" y="739.1" font-size="27" text-anchor="end" font-weight="normal" fill="#000" >NB5</text>
<line x1="102" y1="795.4" x2="108" y2="795.4" stroke="#222" stroke-width="1.5" />
<text x="92.2" y="803" font-size="27" text-anchor="end" font-weight="normal" fill="#000" >cAMP</text>
<line x1="102" y1="862.7" x2="108" y2="862.7" stroke="#222" stroke-width="1.5" />
<text x="92.2" y="857.4" font-size="27" text-anchor="end" font-weight="normal" fill="#000" >NB5</text>
<text x="92.2" y="889.8" font-size="27" text-anchor="end" font-weight="normal" fill="#000" >+cAMP</text>
<line x1="140.1" y1="896.3" x2="140.1" y2="902" stroke="#222" stroke-width="1.5" />
<text x="140.1" y="926.7" font-size="27" text-anchor="middle" font-weight="normal" fill="#000" >-105</text>
<line x1="209.1" y1="896.3" x2="209.1" y2="902" stroke="#222" stroke-width="1.5" />
<text x="209.1" y="926.7" font-size="27" text-anchor="middle" font-weight="normal" fill="#000" >-90</text>
<line x1="278.1" y1="896.3" x2="278.1" y2="902" stroke="#222" stroke-width="1.5" />
<text x="278.1" y="926.7" font-size="27" text-anchor="middle" font-weight="normal" fill="#000" >-75</text>
<text x="150" y="955.8" font-size="28.5" fill="#000">V</text>
<text x="170.5" y="963.4" font-size="20" fill="#000" textLength="25.5" lengthAdjust="spacingAndGlyphs">1/2</text>
<text x="195.8" y="955.8" font-size="29" fill="#000" textLength="63.5" lengthAdjust="spacingAndGlyphs">(mV)</text>
<circle cx="139.5" cy="639.1" r="6" fill="#000000" stroke="none" stroke-width="0"/>
<circle cx="156.1" cy="644.5" r="6" fill="#000000" stroke="none" stroke-width="0"/>
<circle cx="123.7" cy="649.9" r="6" fill="#000000" stroke="none" stroke-width="0"/>
<circle cx="155.3" cy="655.3" r="6" fill="#000000" stroke="none" stroke-width="0"/>
<circle cx="122.6" cy="660.6" r="6" fill="#000000" stroke="none" stroke-width="0"/>
<circle cx="146.1" cy="666.4" r="6" fill="#000000" stroke="none" stroke-width="0"/>
<circle cx="130.9" cy="671.4" r="6" fill="#000000" stroke="none" stroke-width="0"/>
<circle cx="159.4" cy="676.9" r="6" fill="#000000" stroke="none" stroke-width="0"/>
<circle cx="139.2" cy="682.7" r="6" fill="#000000" stroke="none" stroke-width="0"/>
<line x1="141.3" y1="633.1" x2="141.3" y2="688.4" stroke="#111" stroke-width="1.6" />
<line x1="136.6" y1="660.6" x2="146.1" y2="660.6" stroke="#111" stroke-width="1.6" />
<line x1="136.6" y1="656.6" x2="136.6" y2="664.6" stroke="#111" stroke-width="1.8" />
<line x1="146.1" y1="656.6" x2="146.1" y2="664.6" stroke="#111" stroke-width="1.8" />
<circle cx="187.7" cy="710.7" r="6" fill="#2040ff" stroke="none" stroke-width="0"/>
<circle cx="161.3" cy="719" r="6" fill="#2040ff" stroke="none" stroke-width="0"/>
<circle cx="175" cy="728.1" r="6" fill="#2040ff" stroke="none" stroke-width="0"/>
<circle cx="193.5" cy="728.1" r="6" fill="#2040ff" stroke="none" stroke-width="0"/>
<circle cx="162" cy="736.8" r="6" fill="#2040ff" stroke="none" stroke-width="0"/>
<circle cx="205.1" cy="746.2" r="6" fill="#2040ff" stroke="none" stroke-width="0"/>
<line x1="180.9" y1="700.4" x2="180.9" y2="755.3" stroke="#111" stroke-width="1.6" />
<line x1="180.9" y1="728.1" x2="188" y2="728.1" stroke="#111" stroke-width="1.6" />
<line x1="180.9" y1="724.1" x2="180.9" y2="732.1" stroke="#111" stroke-width="1.8" />
<line x1="188" y1="724.1" x2="188" y2="732.1" stroke="#111" stroke-width="1.8" />
<circle cx="215.3" cy="782.1" r="6" fill="#b8237b" stroke="none" stroke-width="0"/>
<circle cx="245.3" cy="782.1" r="6" fill="#b8237b" stroke="none" stroke-width="0"/>
<circle cx="192.9" cy="795.6" r="6" fill="#b8237b" stroke="none" stroke-width="0"/>
<circle cx="221.4" cy="809.3" r="6" fill="#b8237b" stroke="none" stroke-width="0"/>
<circle cx="245.8" cy="809.3" r="6" fill="#b8237b" stroke="none" stroke-width="0"/>
<line x1="224.7" y1="768.4" x2="224.7" y2="823.2" stroke="#111" stroke-width="1.6" />
<line x1="213.8" y1="795.8" x2="234.5" y2="795.8" stroke="#111" stroke-width="1.6" />
<line x1="213.8" y1="791.8" x2="213.8" y2="799.8" stroke="#111" stroke-width="1.8" />
<line x1="234.5" y1="791.8" x2="234.5" y2="799.8" stroke="#111" stroke-width="1.8" />
<circle cx="245.3" cy="849.6" r="6" fill="#00dc00" stroke="none" stroke-width="0"/>
<circle cx="286.7" cy="849.6" r="6" fill="#00dc00" stroke="none" stroke-width="0"/>
<circle cx="272.3" cy="863.1" r="6" fill="#00dc00" stroke="none" stroke-width="0"/>
<circle cx="303" cy="863.1" r="6" fill="#00dc00" stroke="none" stroke-width="0"/>
<circle cx="244.7" cy="876.5" r="6" fill="#00dc00" stroke="none" stroke-width="0"/>
<circle cx="287.1" cy="876.5" r="6" fill="#00dc00" stroke="none" stroke-width="0"/>
<line x1="273.4" y1="835.4" x2="273.4" y2="890.7" stroke="#111" stroke-width="1.6" />
<line x1="263.2" y1="863.1" x2="283.2" y2="863.1" stroke="#111" stroke-width="1.6" />
<line x1="263.2" y1="859.1" x2="263.2" y2="867.1" stroke="#111" stroke-width="1.8" />
<line x1="283.2" y1="859.1" x2="283.2" y2="867.1" stroke="#111" stroke-width="1.8" />
<line x1="391" y1="624.6" x2="391" y2="895.8" stroke="#000" stroke-width="1.8" />
<line x1="390.1" y1="895.8" x2="728" y2="895.8" stroke="#000" stroke-width="1.8" />
<line x1="385" y1="628.1" x2="391" y2="628.1" stroke="#000" stroke-width="1.5" />
<text x="382" y="636" font-size="27" text-anchor="end" font-weight="normal" fill="#000" >8</text>
<line x1="385" y1="697.3" x2="391" y2="697.3" stroke="#000" stroke-width="1.5" />
<text x="382" y="705.2" font-size="27" text-anchor="end" font-weight="normal" fill="#000" >6</text>
<line x1="385" y1="766.5" x2="391" y2="766.5" stroke="#000" stroke-width="1.5" />
<text x="382" y="774.4" font-size="27" text-anchor="end" font-weight="normal" fill="#000" >4</text>
<line x1="385" y1="835.7" x2="391" y2="835.7" stroke="#000" stroke-width="1.5" />
<text x="382" y="843.6" font-size="27" text-anchor="end" font-weight="normal" fill="#000" >2</text>
<line x1="398.5" y1="895.8" x2="398.5" y2="901.2" stroke="#000" stroke-width="1.5" />
<text x="398.5" y="926.2" font-size="27" text-anchor="middle" font-weight="normal" fill="#000" >-150</text>
<line x1="559.3" y1="895.8" x2="559.3" y2="901.2" stroke="#000" stroke-width="1.5" />
<text x="559.3" y="926.2" font-size="27" text-anchor="middle" font-weight="normal" fill="#000" >-90</text>
<line x1="720.1" y1="895.8" x2="720.1" y2="901.2" stroke="#000" stroke-width="1.5" />
<text x="720.1" y="926.2" font-size="27" text-anchor="middle" font-weight="normal" fill="#000" >-30</text>
<text x="552.5" y="957" font-size="29.5" text-anchor="middle" font-weight="normal" fill="#000" textLength="83" lengthAdjust="spacingAndGlyphs">V(mV)</text>
<text transform="translate(344.8,780.3) rotate(-90) scale(1.08,1)" font-size="26" fill="#000" font-family="Liberation Sans" font-style="italic">τ</text>
<text transform="translate(345.3,758.6) rotate(-90)" font-size="30.5" fill="#000">(s)</text>
<circle cx="398.5" cy="884.5" r="6.7" fill="#000000" stroke="none" stroke-width="0"/>
<circle cx="438.7" cy="864.5" r="6.7" fill="#000000" stroke="none" stroke-width="0"/>
<circle cx="478.9" cy="792.7" r="6.7" fill="#000000" stroke="none" stroke-width="0"/>
<circle cx="519.1" cy="658.1" r="6.7" fill="#000000" stroke="none" stroke-width="0"/>
<circle cx="398.5" cy="875.1" r="6.7" fill="#2040ff" stroke="none" stroke-width="0"/>
<circle cx="438.7" cy="872.5" r="6.7" fill="#2040ff" stroke="none" stroke-width="0"/>
<circle cx="478.9" cy="852.7" r="6.7" fill="#2040ff" stroke="none" stroke-width="0"/>
<circle cx="519.1" cy="760.7" r="6.7" fill="#2040ff" stroke="none" stroke-width="0"/>
<circle cx="398.5" cy="881.7" r="6.7" fill="#b8237b" stroke="none" stroke-width="0"/>
<circle cx="438.7" cy="878.1" r="6.7" fill="#b8237b" stroke="none" stroke-width="0"/>
<circle cx="478.9" cy="866.7" r="6.7" fill="#b8237b" stroke="none" stroke-width="0"/>
<circle cx="519.1" cy="835" r="6.7" fill="#b8237b" stroke="none" stroke-width="0"/>
<circle cx="398.5" cy="888.6" r="6.7" fill="#00dc00" stroke="none" stroke-width="0"/>
<circle cx="438.7" cy="881.7" r="6.7" fill="#00dc00" stroke="none" stroke-width="0"/>
<circle cx="478.9" cy="874.1" r="6.7" fill="#00dc00" stroke="none" stroke-width="0"/>
<circle cx="519.1" cy="857.7" r="6.7" fill="#00dc00" stroke="none" stroke-width="0"/>
<line x1="398.5" y1="883" x2="398.5" y2="886.2" stroke="#000000" stroke-width="2.0" />
<line x1="392.5" y1="883" x2="404.5" y2="883" stroke="#000000" stroke-width="2.0" />
<line x1="392.5" y1="886.2" x2="404.5" y2="886.2" stroke="#000000" stroke-width="2.0" />
<line x1="438.7" y1="859.7" x2="438.7" y2="869.3" stroke="#000000" stroke-width="2.0" />
<line x1="432.7" y1="859.7" x2="444.7" y2="859.7" stroke="#000000" stroke-width="2.0" />
<line x1="432.7" y1="869.3" x2="444.7" y2="869.3" stroke="#000000" stroke-width="2.0" />
<line x1="478.9" y1="770.5" x2="478.9" y2="813.9" stroke="#000000" stroke-width="2.0" />
<line x1="472.9" y1="770.5" x2="484.9" y2="770.5" stroke="#000000" stroke-width="2.0" />
<line x1="472.9" y1="813.9" x2="484.9" y2="813.9" stroke="#000000" stroke-width="2.0" />
<line x1="519.1" y1="635.8" x2="519.1" y2="680.3" stroke="#000000" stroke-width="2.0" />
<line x1="513.1" y1="635.8" x2="525.1" y2="635.8" stroke="#000000" stroke-width="2.0" />
<line x1="513.1" y1="680.3" x2="525.1" y2="680.3" stroke="#000000" stroke-width="2.0" />
<line x1="398.5" y1="873.5" x2="398.5" y2="876.7" stroke="#2040ff" stroke-width="2.0" />
<line x1="392.5" y1="873.5" x2="404.5" y2="873.5" stroke="#2040ff" stroke-width="2.0" />
<line x1="392.5" y1="876.7" x2="404.5" y2="876.7" stroke="#2040ff" stroke-width="2.0" />
<line x1="438.7" y1="866.5" x2="438.7" y2="878.5" stroke="#2040ff" stroke-width="2.0" />
<line x1="432.7" y1="866.5" x2="444.7" y2="866.5" stroke="#2040ff" stroke-width="2.0" />
<line x1="432.7" y1="878.5" x2="444.7" y2="878.5" stroke="#2040ff" stroke-width="2.0" />
<line x1="478.9" y1="851" x2="478.9" y2="854.4" stroke="#2040ff" stroke-width="2.0" />
<line x1="472.9" y1="851" x2="484.9" y2="851" stroke="#2040ff" stroke-width="2.0" />
<line x1="472.9" y1="854.4" x2="484.9" y2="854.4" stroke="#2040ff" stroke-width="2.0" />
<line x1="519.1" y1="735.7" x2="519.1" y2="785.8" stroke="#2040ff" stroke-width="2.0" />
<line x1="513.1" y1="735.7" x2="525.1" y2="735.7" stroke="#2040ff" stroke-width="2.0" />
<line x1="513.1" y1="785.8" x2="525.1" y2="785.8" stroke="#2040ff" stroke-width="2.0" />
<line x1="398.5" y1="879.8" x2="398.5" y2="883.6" stroke="#b8237b" stroke-width="2.0" />
<line x1="392.5" y1="879.8" x2="404.5" y2="879.8" stroke="#b8237b" stroke-width="2.0" />
<line x1="392.5" y1="883.6" x2="404.5" y2="883.6" stroke="#b8237b" stroke-width="2.0" />
<line x1="438.7" y1="876.5" x2="438.7" y2="879.7" stroke="#b8237b" stroke-width="2.0" />
<line x1="432.7" y1="876.5" x2="444.7" y2="876.5" stroke="#b8237b" stroke-width="2.0" />
<line x1="432.7" y1="879.7" x2="444.7" y2="879.7" stroke="#b8237b" stroke-width="2.0" />
<line x1="478.9" y1="865" x2="478.9" y2="868.4" stroke="#b8237b" stroke-width="2.0" />
<line x1="472.9" y1="865" x2="484.9" y2="865" stroke="#b8237b" stroke-width="2.0" />
<line x1="472.9" y1="868.4" x2="484.9" y2="868.4" stroke="#b8237b" stroke-width="2.0" />
<line x1="519.1" y1="827" x2="519.1" y2="843" stroke="#b8237b" stroke-width="2.0" />
<line x1="513.1" y1="827" x2="525.1" y2="827" stroke="#b8237b" stroke-width="2.0" />
<line x1="513.1" y1="843" x2="525.1" y2="843" stroke="#b8237b" stroke-width="2.0" />
<line x1="398.5" y1="884.6" x2="398.5" y2="892.6" stroke="#00dc00" stroke-width="2.0" />
<line x1="392.5" y1="884.6" x2="404.5" y2="884.6" stroke="#00dc00" stroke-width="2.0" />
<line x1="392.5" y1="892.6" x2="404.5" y2="892.6" stroke="#00dc00" stroke-width="2.0" />
<line x1="438.7" y1="876.5" x2="438.7" y2="886.9" stroke="#00dc00" stroke-width="2.0" />
<line x1="432.7" y1="876.5" x2="444.7" y2="876.5" stroke="#00dc00" stroke-width="2.0" />
<line x1="432.7" y1="886.9" x2="444.7" y2="886.9" stroke="#00dc00" stroke-width="2.0" />
<line x1="478.9" y1="868.2" x2="478.9" y2="880" stroke="#00dc00" stroke-width="2.0" />
<line x1="472.9" y1="868.2" x2="484.9" y2="868.2" stroke="#00dc00" stroke-width="2.0" />
<line x1="472.9" y1="880" x2="484.9" y2="880" stroke="#00dc00" stroke-width="2.0" />
<line x1="519.1" y1="856" x2="519.1" y2="859.4" stroke="#00dc00" stroke-width="2.0" />
<line x1="513.1" y1="856" x2="525.1" y2="856" stroke="#00dc00" stroke-width="2.0" />
<line x1="513.1" y1="859.4" x2="525.1" y2="859.4" stroke="#00dc00" stroke-width="2.0" />
<line x1="599.5" y1="763.4" x2="599.5" y2="801.7" stroke="#000000" stroke-width="2.2" />
<line x1="593.5" y1="763.4" x2="605.5" y2="763.4" stroke="#000000" stroke-width="2.2" />
<line x1="593.5" y1="801.7" x2="605.5" y2="801.7" stroke="#000000" stroke-width="2.2" />
<circle cx="599.5" cy="783" r="5.3" fill="#fff" stroke="#000000" stroke-width="2.6"/>
<line x1="599.5" y1="732.2" x2="599.5" y2="777.3" stroke="#2040ff" stroke-width="2.2" />
<line x1="593.5" y1="732.2" x2="605.5" y2="732.2" stroke="#2040ff" stroke-width="2.2" />
<line x1="593.5" y1="777.3" x2="605.5" y2="777.3" stroke="#2040ff" stroke-width="2.2" />
<circle cx="599.5" cy="755" r="5.3" fill="#fff" stroke="#2040ff" stroke-width="2.6"/>
<line x1="599.5" y1="711.6" x2="599.5" y2="739" stroke="#b8237b" stroke-width="2.2" />
<line x1="593.5" y1="711.6" x2="605.5" y2="711.6" stroke="#b8237b" stroke-width="2.2" />
<line x1="593.5" y1="739" x2="605.5" y2="739" stroke="#b8237b" stroke-width="2.2" />
<circle cx="599.5" cy="725.3" r="5.3" fill="#fff" stroke="#b8237b" stroke-width="2.6"/>
<line x1="639.7" y1="821.7" x2="639.7" y2="837.7" stroke="#000000" stroke-width="2.2" />
<line x1="633.7" y1="821.7" x2="645.7" y2="821.7" stroke="#000000" stroke-width="2.2" />
<line x1="633.7" y1="837.7" x2="645.7" y2="837.7" stroke="#000000" stroke-width="2.2" />
<circle cx="639.7" cy="829.5" r="5.3" fill="#fff" stroke="#000000" stroke-width="2.6"/>
<line x1="639.7" y1="790.3" x2="639.7" y2="817.2" stroke="#2040ff" stroke-width="2.2" />
<line x1="633.7" y1="790.3" x2="645.7" y2="790.3" stroke="#2040ff" stroke-width="2.2" />
<line x1="633.7" y1="817.2" x2="645.7" y2="817.2" stroke="#2040ff" stroke-width="2.2" />
<circle cx="639.7" cy="803.5" r="5.3" fill="#fff" stroke="#2040ff" stroke-width="2.6"/>
<line x1="639.7" y1="770.9" x2="639.7" y2="801.7" stroke="#b8237b" stroke-width="2.2" />
<line x1="633.7" y1="770.9" x2="645.7" y2="770.9" stroke="#b8237b" stroke-width="2.2" />
<line x1="633.7" y1="801.7" x2="645.7" y2="801.7" stroke="#b8237b" stroke-width="2.2" />
<circle cx="639.7" cy="786.2" r="5.3" fill="#fff" stroke="#b8237b" stroke-width="2.6"/>
<line x1="679.9" y1="864" x2="679.9" y2="873" stroke="#000000" stroke-width="2.2" />
<line x1="673.9" y1="864" x2="685.9" y2="864" stroke="#000000" stroke-width="2.2" />
<line x1="673.9" y1="873" x2="685.9" y2="873" stroke="#000000" stroke-width="2.2" />
<circle cx="679.9" cy="868.9" r="5.3" fill="#fff" stroke="#000000" stroke-width="2.6"/>
<line x1="679.9" y1="857" x2="679.9" y2="864" stroke="#2040ff" stroke-width="2.2" />
<line x1="673.9" y1="857" x2="685.9" y2="857" stroke="#2040ff" stroke-width="2.2" />
<line x1="673.9" y1="864" x2="685.9" y2="864" stroke="#2040ff" stroke-width="2.2" />
<circle cx="679.9" cy="860.5" r="5.3" fill="#fff" stroke="#2040ff" stroke-width="2.6"/>
<line x1="679.9" y1="833" x2="679.9" y2="846" stroke="#b8237b" stroke-width="2.2" />
<line x1="673.9" y1="833" x2="685.9" y2="833" stroke="#b8237b" stroke-width="2.2" />
<line x1="673.9" y1="846" x2="685.9" y2="846" stroke="#b8237b" stroke-width="2.2" />
<circle cx="679.9" cy="839.3" r="5.3" fill="#fff" stroke="#b8237b" stroke-width="2.6"/>
<line x1="679.9" y1="819" x2="679.9" y2="828" stroke="#00dc00" stroke-width="2.2" />
<line x1="673.9" y1="819" x2="685.9" y2="819" stroke="#00dc00" stroke-width="2.2" />
<line x1="673.9" y1="828" x2="685.9" y2="828" stroke="#00dc00" stroke-width="2.2" />
<circle cx="679.9" cy="823.3" r="5.3" fill="#fff" stroke="#00dc00" stroke-width="2.6"/>
<line x1="720.1" y1="885" x2="720.1" y2="893" stroke="#000000" stroke-width="2.2" />
<line x1="714.1" y1="885" x2="726.1" y2="885" stroke="#000000" stroke-width="2.2" />
<line x1="714.1" y1="893" x2="726.1" y2="893" stroke="#000000" stroke-width="2.2" />
<circle cx="720.1" cy="889.4" r="5.3" fill="#fff" stroke="#000000" stroke-width="2.6"/>
<line x1="720.1" y1="882" x2="720.1" y2="889" stroke="#2040ff" stroke-width="2.2" />
<line x1="714.1" y1="882" x2="726.1" y2="882" stroke="#2040ff" stroke-width="2.2" />
<line x1="714.1" y1="889" x2="726.1" y2="889" stroke="#2040ff" stroke-width="2.2" />
<circle cx="720.1" cy="885.5" r="5.3" fill="#fff" stroke="#2040ff" stroke-width="2.6"/>
<line x1="720.1" y1="871" x2="720.1" y2="877" stroke="#b8237b" stroke-width="2.2" />
<line x1="714.1" y1="871" x2="726.1" y2="871" stroke="#b8237b" stroke-width="2.2" />
<line x1="714.1" y1="877" x2="726.1" y2="877" stroke="#b8237b" stroke-width="2.2" />
<circle cx="720.1" cy="874.1" r="5.3" fill="#fff" stroke="#b8237b" stroke-width="2.6"/>
<line x1="720.1" y1="856" x2="720.1" y2="862" stroke="#00dc00" stroke-width="2.2" />
<line x1="714.1" y1="856" x2="726.1" y2="856" stroke="#00dc00" stroke-width="2.2" />
<line x1="714.1" y1="862" x2="726.1" y2="862" stroke="#00dc00" stroke-width="2.2" />
<circle cx="720.1" cy="859.1" r="5.3" fill="#fff" stroke="#00dc00" stroke-width="2.6"/>
<path d="M763.1 606.1 L766.5 606.1 L766.5 651.2 L823.2 651.2 L823.2 609.5" fill="none" stroke="#555" stroke-width="1.2"/>
<line x1="823.2" y1="609.5" x2="888" y2="609.5" stroke="#333" stroke-width="1.1" />
<line x1="823.2" y1="615.5" x2="888" y2="615.5" stroke="#333" stroke-width="1.1" />
<line x1="823.2" y1="621.5" x2="888" y2="621.5" stroke="#333" stroke-width="1.1" />
<line x1="823.2" y1="627.5" x2="888" y2="627.5" stroke="#333" stroke-width="1.1" />
<line x1="823.2" y1="633.5" x2="888" y2="633.5" stroke="#333" stroke-width="1.1" />
<line x1="888" y1="590" x2="888" y2="633.5" stroke="#333" stroke-width="1.1" />
<path d="M888.9 590 L888.9 606.5 L893.7 606.5" fill="none" stroke="#555" stroke-width="1.1"/>
<text x="741" y="599.5" font-size="16" text-anchor="start" font-weight="normal" fill="#1a1a1a" letter-spacing="0.4">-20 mV</text>
<text x="864.5" y="583" font-size="16" text-anchor="start" font-weight="normal" fill="#1a1a1a" letter-spacing="0.4">+20 mV</text>
<text x="830.8" y="606.1" font-size="16" text-anchor="start" font-weight="normal" fill="#1a1a1a" letter-spacing="0.4">-30 mV</text>
<text x="830.8" y="652.4" font-size="16" text-anchor="start" font-weight="normal" fill="#1a1a1a" letter-spacing="0.4">-75 mV</text>
<text x="762.7" y="669" font-size="16" text-anchor="start" font-weight="normal" fill="#1a1a1a" letter-spacing="0.4">-135 mV</text>
<path d="M745.4 668.2 L745.4 674.2 L753 674.2" fill="none" stroke="#000" stroke-width="1.1"/>
<text x="858" y="736.9" font-size="27" text-anchor="start" font-weight="normal" fill="#000" >ctrl</text>
<circle cx="925.7" cy="727.3" r="7.4" fill="#000" stroke="none" stroke-width="0"/>
<path d="M777.2 761.5 L783.4 761.5 L783.4 770.4" fill="none" stroke="#000" stroke-width="1.3"/>
<path d="M783.4 770.4 L783.9 770.8 L784.4 771.4 L784.9 772 L785.4 772.8 L785.9 773.7 L786.4 774.7 L786.9 775.7 L787.4 776.9 L787.9 778 L788.4 779.3 L788.9 780.5 L789.4 781.8 L789.9 783.1 L790.4 784.5 L790.9 785.8 L791.4 787.2 L791.9 788.5 L792.4 789.9 L792.9 791.2 L793.4 792.6 L793.9 793.9 L794.4 795.2 L794.9 796.5 L795.4 797.8 L795.9 799.1 L796.4 800.3 L796.9 801.5 L797.4 802.7 L797.9 803.9 L798.4 805.1 L798.9 806.2 L799.4 807.3 L799.9 808.3 L800.4 809.4 L800.9 810.4 L801.4 811.4 L801.9 812.4 L802.4 813.3 L802.9 814.2 L803.4 815.1 L803.9 816 L804.4 816.9 L804.9 817.7 L805.4 818.5 L805.9 819.3 L806.4 820.1 L806.9 820.7 L807.4 821.4 L807.9 822.2 L808.4 823 L808.9 823.3 L809.4 824.4 L809.9 824.3 L810.4 825.1 L810.9 826.8 L811.4 826.3 L811.9 827.2 L812.4 827.1 L812.9 827.9 L813.4 828.2 L813.9 828.8 L814.4 829.8 L814.9 830.8 L815.4 830.8 L815.9 831.6 L816.4 830.9 L816.9 832.5 L817.4 832.3 L817.9 833.2 L818.4 832.4 L818.9 832.9 L819.4 834.4 L819.9 834.2 L820.4 834.2 L820.9 833.9 L821.4 834.6 L821.9 835.4 L822.4 835.9 L822.9 835.1 L823.4 835.5 L823.9 836.5 L824.4 835.3 L824.9 837.5 L825.4 836.8 L825.9 836.9 L826.4 834.9 L826.9 835.9 L827.4 836.7 L827.9 837.3 L828.4 837 L828.9 838.7 L829.4 838.7 L829.9 838.4 L830.4 836.9 L830.9 840.5 L831.4 839 L831.9 840 L832.4 838.9 L832.9 839.7 L833.4 840.6 L833.9 840.3 L834.4 841.2 L834.9 840.2 L835.4 842.5 L835.9 838.7 L836.4 840.2 L836.9 841.9 L837.4 840.8 L837.9 840.7 L838.4 839.5 L838.9 842.6 L839.4 839.6 L839.9 842.1 L840.4 841.9 L840.9 842.7 L841.4 843.4 L841.9 841.3 L842.4 841.3 L842.9 841.9 L843.4 840.6 L843.9 843.3 L844.4 842.1 L844.9 842.8 L845.4 841.6 L845.9 842.8 L846.4 842.3 L846.9 842.9 L847.4 841.9 L847.9 844.1 L848.4 842.5 L848.9 840.7 L849.4 844 L849.9 843.1 L850.4 842.6 L850.9 846.1 L851.4 843.6 L851.9 842.4 L852.4 843.1 L852.9 844.2 L853.4 843.7 L853.9 845.2 L854.4 845.1 L854.9 843.3 L855.4 844.2 L855.9 844.8 L856.4 843.8 L856.9 843.8 L857.4 845.2 L857.9 844.9 L858.4 843.1 L858.9 844 L859.4 844.2 L859.9 844.5 L860.4 844 L860.9 846.1 L861.4 843.8 L861.9 843.7 L862.4 845.1 L862.9 842.7 L863.4 843.9 L863.9 845.6 L864.4 843.7 L864.9 844.3 L865.4 846.2 L865.9 845.6 L866.4 845.3 L866.9 845.5 L867.4 844.6 L867.9 845.7 L868.4 845.2 L868.9 847.9 L869.4 846 L869.9 845.2 L870.4 845.5 L870.9 845.6 L871.4 844.2 L871.9 844.8 L872.4 847.2 L872.9 844.3 L873.4 845.2 L873.9 846.8 L874.4 847.3 L874.9 844.8 L875.4 847.3 L875.9 845.5 L876.4 847.6 L876.9 846.5 L877.4 845.7 L877.9 846.8 L878.4 846.6 L878.5 845.3" fill="none" stroke="#000" stroke-width="3.0" stroke-linejoin="round" />
<line x1="878.5" y1="846" x2="878.5" y2="765.5" stroke="#999" stroke-width="1.0" />
<path d="M878.5 766.3 L879.5 766.2 L880.5 766 L881.5 765.7 L882.5 765.4 L883.5 765 L884.5 764.7 L885.5 764.3 L886.5 764 L887.5 763.7 L888.5 763.5 L889.5 763.2 L890.5 763 L891.5 762.8 L892.5 762.7 L893.5 762.5 L894.5 762.4 L895.5 762.3 L896.5 762.2 L897.5 762.1 L898.5 762.1 L899.5 762 L900.5 761.9 L901.5 761.9 L902.5 761.9 L903.5 761.8 L904.5 761.8 L905.5 761.8 L906.5 761.8 L907.5 761.8 L908.5 761.8 L909.5 761.7 L910.5 761.7 L911.5 761.7 L912.5 761.7 L913.5 761.7 L914.5 761.7 L915.5 761.7 L916.5 761.7 L917.5 761.7 L918.5 761.7 L919.5 761.7 L920.5 761.7 L921.5 761.8 L922.5 761.8 L923.5 761.8 L924.5 761.8 L925.5 761.8 L926.5 761.8 L927.5 761.8 L928.5 761.8 L929.5 761.8 L930.5 761.8 L931.5 761.8 L932.5 761.8 L933.5 761.8 L934.5 761.8 L935.5 761.8 L936.5 761.8 L937.5 761.8 L938.5 761.8 L939.5 761.8 L940.5 761.9 L941.5 761.9 L942.5 761.9 L943.5 761.9 L944.5 761.9 L945.5 761.9 L946.5 761.9 L947.5 761.9 L948.5 761.9 L949.5 761.9 L950.5 761.9 L951.5 761.9 L952.5 761.9 L953.5 761.9 L954.5 761.9 L955.5 761.9 L956.5 761.9 L957.5 761.9 L958.5 761.9 L959.5 761.9 L960.5 761.9 L961.5 761.9 L962.5 761.9 L963.5 761.9 L964.5 761.9 L965.5 761.9 L966.5 761.9 L967.5 762 L968.5 762 L969.5 762 L970.5 762 L971.5 762 L972.5 762 L973.5 762 L974.5 762 L975.5 762 L976.5 762 L977.5 762 L978.5 762 L979.5 762 L980.5 762 L981.5 762 L982.5 762 L983.5 762 L984.5 762 L985.5 762 L986.5 762 L987.5 762 L988.2 762" fill="none" stroke="#000" stroke-width="1.2" stroke-linejoin="round" />
<path d="M878.5 776.3 L879.5 776.1 L880.5 775.8 L881.5 775.5 L882.5 775.3 L883.5 775 L884.5 774.7 L885.5 774.4 L886.5 774.1 L887.5 773.9 L888.5 773.6 L889.5 773.3 L890.5 773.1 L891.5 772.8 L892.5 772.6 L893.5 772.3 L894.5 772.1 L895.5 771.9 L896.5 771.7 L897.5 771.4 L898.5 771.2 L899.5 771 L900.5 770.8 L901.5 770.6 L902.5 770.5 L903.5 770.3 L904.5 770.1 L905.5 769.9 L906.5 769.7 L907.5 769.6 L908.5 769.4 L909.5 769.3 L910.5 769.1 L911.5 769 L912.5 768.8 L913.5 768.7 L914.5 768.6 L915.5 768.4 L916.5 768.3 L917.5 768.2 L918.5 768.1 L919.5 768 L920.5 767.8 L921.5 767.7 L922.5 767.6 L923.5 767.5 L924.5 767.4 L925.5 767.3 L926.5 767.3 L927.5 767.2 L928.5 767.1 L929.5 767 L930.5 766.9 L931.5 766.8 L932.5 766.8 L933.5 766.7 L934.5 766.6 L935.5 766.5 L936.5 766.5 L937.5 766.4 L938.5 766.4 L939.5 766.3 L940.5 766.2 L941.5 766.2 L942.5 766.1 L943.5 766.1 L944.5 766 L945.5 766 L946.5 765.9 L947.5 765.9 L948.5 765.8 L949.5 765.8 L950.5 765.8 L951.5 765.7 L952.5 765.7 L953.5 765.6 L954.5 765.6 L955.5 765.6 L956.5 765.5 L957.5 765.5 L958.5 765.5 L959.5 765.4 L960.5 765.4 L961.5 765.4 L962.5 765.4 L963.5 765.3 L964.5 765.3 L965.5 765.3 L966.5 765.2 L967.5 765.2 L968.5 765.2 L969.5 765.2 L970.5 765.2 L971.5 765.1 L972.5 765.1 L973.5 765.1 L974.5 765.1 L975.5 765.1 L976.5 765.1 L977.5 765 L978.5 765 L979.5 765 L980.5 765 L981.5 765 L982.5 765 L983.5 765 L984.5 764.9 L985.5 764.9 L986.5 764.9 L987.5 764.9 L988.2 764.9" fill="none" stroke="#000" stroke-width="1.0" stroke-linejoin="round" />
<path d="M878.5 784.7 L879.5 784.6 L880.5 784.5 L881.5 784.4 L882.5 784.3 L883.5 784.1 L884.5 784 L885.5 783.8 L886.5 783.6 L887.5 783.4 L888.5 783.2 L889.5 783.1 L890.5 782.9 L891.5 782.7 L892.5 782.5 L893.5 782.3 L894.5 782.1 L895.5 781.9 L896.5 781.7 L897.5 781.5 L898.5 781.3 L899.5 781.2 L900.5 781 L901.5 780.8 L902.5 780.6 L903.5 780.4 L904.5 780.3 L905.5 780.1 L906.5 779.9 L907.5 779.8 L908.5 779.6 L909.5 779.5 L910.5 779.3 L911.5 779.2 L912.5 779 L913.5 778.9 L914.5 778.7 L915.5 778.6 L916.5 778.4 L917.5 778.3 L918.5 778.2 L919.5 778.1 L920.5 777.9 L921.5 777.8 L922.5 777.7 L923.5 777.6 L924.5 777.5 L925.5 777.4 L926.5 777.3 L927.5 777.2 L928.5 777 L929.5 776.9 L930.5 776.8 L931.5 776.8 L932.5 776.7 L933.5 776.6 L934.5 776.5 L935.5 776.4 L936.5 776.3 L937.5 776.2 L938.5 776.1 L939.5 776.1 L940.5 776 L941.5 775.9 L942.5 775.8 L943.5 775.8 L944.5 775.7 L945.5 775.6 L946.5 775.5 L947.5 775.5 L948.5 775.4 L949.5 775.3 L950.5 775.3 L951.5 775.2 L952.5 775.1 L953.5 775.1 L954.5 775 L955.5 775 L956.5 774.9 L957.5 774.9 L958.5 774.8 L959.5 774.7 L960.5 774.7 L961.5 774.6 L962.5 774.6 L963.5 774.5 L964.5 774.5 L965.5 774.4 L966.5 774.4 L967.5 774.3 L968.5 774.3 L969.5 774.3 L970.5 774.2 L971.5 774.2 L972.5 774.1 L973.5 774.1 L974.5 774 L975.5 774 L976.5 773.9 L977.5 773.9 L978.5 773.9 L979.5 773.8 L980.5 773.8 L981.5 773.7 L982.5 773.7 L983.5 773.7 L984.5 773.6 L985.5 773.6 L986.5 773.6 L987.5 773.5 L988.2 773.5" fill="none" stroke="#000" stroke-width="1.0" stroke-linejoin="round" />
<path d="M878.5 794.9 L879.5 794.8 L880.5 794.8 L881.5 794.7 L882.5 794.6 L883.5 794.6 L884.5 794.5 L885.5 794.4 L886.5 794.4 L887.5 794.3 L888.5 794.2 L889.5 794.2 L890.5 794.1 L891.5 794 L892.5 794 L893.5 793.9 L894.5 793.8 L895.5 793.8 L896.5 793.7 L897.5 793.7 L898.5 793.6 L899.5 793.5 L900.5 793.5 L901.5 793.4 L902.5 793.4 L903.5 793.3 L904.5 793.3 L905.5 793.2 L906.5 793.2 L907.5 793.1 L908.5 793.1 L909.5 793 L910.5 793 L911.5 792.9 L912.5 792.9 L913.5 792.8 L914.5 792.8 L915.5 792.8 L916.5 792.7 L917.5 792.7 L918.5 792.6 L919.5 792.6 L920.5 792.6 L921.5 792.5 L922.5 792.5 L923.5 792.4 L924.5 792.4 L925.5 792.4 L926.5 792.3 L927.5 792.3 L928.5 792.3 L929.5 792.2 L930.5 792.2 L931.5 792.1 L932.5 792.1 L933.5 792.1 L934.5 792 L935.5 792 L936.5 792 L937.5 791.9 L938.5 791.9 L939.5 791.9 L940.5 791.8 L941.5 791.8 L942.5 791.8 L943.5 791.7 L944.5 791.7 L945.5 791.7 L946.5 791.6 L947.5 791.6 L948.5 791.6 L949.5 791.5 L950.5 791.5 L951.5 791.4 L952.5 791.4 L953.5 791.4 L954.5 791.3 L955.5 791.3 L956.5 791.3 L957.5 791.2 L958.5 791.2 L959.5 791.1 L960.5 791.1 L961.5 791.1 L962.5 791 L963.5 791 L964.5 791 L965.5 790.9 L966.5 790.9 L967.5 790.9 L968.5 790.8 L969.5 790.8 L970.5 790.7 L971.5 790.7 L972.5 790.7 L973.5 790.6 L974.5 790.6 L975.5 790.6 L976.5 790.5 L977.5 790.5 L978.5 790.5 L979.5 790.4 L980.5 790.4 L981.5 790.3 L982.5 790.3 L983.5 790.3 L984.5 790.2 L985.5 790.2 L986.5 790.2 L987.5 790.1 L988.2 790.1" fill="none" stroke="#000" stroke-width="1.2" stroke-linejoin="round" />
<line x1="988.2" y1="762" x2="988.2" y2="790.1" stroke="#000" stroke-width="1.0" />
<path d="M770.7 843.8 L770.7 857.9 L784.3 857.9" fill="none" stroke="#000" stroke-width="1.2"/>
</svg></body></html>
